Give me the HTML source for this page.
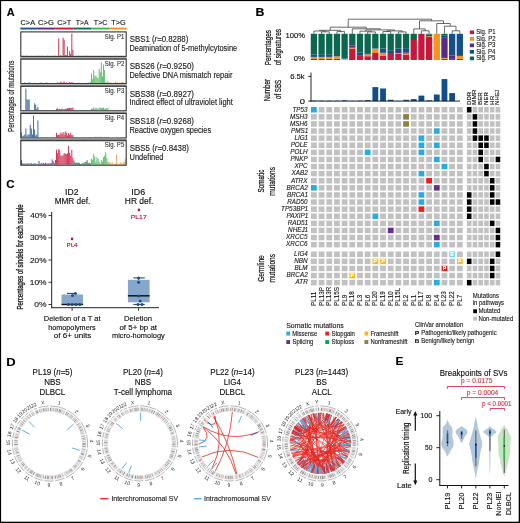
<!DOCTYPE html>
<html><head><meta charset="utf-8"><style>
html,body{margin:0;padding:0;background:#fff;}
svg{display:block;will-change:transform;filter:blur(0.3px);}
text{font-family:"Liberation Sans",sans-serif;}
</style></head><body>
<svg width="520" height="523" viewBox="0 0 520 523">
<rect width="520" height="523" fill="#fff"/>
<rect x="0.00" y="0.00" width="520.00" height="1.10" fill="#000" />
<rect x="0.00" y="0.00" width="1.10" height="523.00" fill="#000" />
<rect x="518.70" y="0.00" width="1.30" height="523.00" fill="#000" />
<rect x="0.00" y="521.70" width="520.00" height="1.30" fill="#000" />
<text x="6.63" y="15.90" font-size="11.2" fill="#000" font-weight="bold"  stroke="#000" stroke-width="0.14" textLength="7.87" lengthAdjust="spacingAndGlyphs">A</text>
<text x="255.50" y="16.30" font-size="11.2" fill="#000" font-weight="bold"  stroke="#000" stroke-width="0.14" textLength="8.88" lengthAdjust="spacingAndGlyphs">B</text>
<text x="6.34" y="188.40" font-size="11.2" fill="#000" font-weight="bold"  stroke="#000" stroke-width="0.14" textLength="8.38" lengthAdjust="spacingAndGlyphs">C</text>
<text x="6.15" y="365.50" font-size="11.2" fill="#000" font-weight="bold"  stroke="#000" stroke-width="0.14" textLength="9.39" lengthAdjust="spacingAndGlyphs">D</text>
<text x="395.53" y="365.20" font-size="11.2" fill="#000" font-weight="bold"  stroke="#000" stroke-width="0.14" textLength="7.91" lengthAdjust="spacingAndGlyphs">E</text>
<text x="20.53" y="24.60" font-size="7.3" fill="#1a1a1a"  stroke="#1a1a1a" stroke-width="0.14" textLength="14.59" lengthAdjust="spacingAndGlyphs">C&gt;A</text>
<rect x="20.30" y="27.60" width="17.70" height="1.90" fill="#1f5591" />
<text x="38.12" y="24.60" font-size="7.3" fill="#1a1a1a"  stroke="#1a1a1a" stroke-width="0.14" textLength="15.63" lengthAdjust="spacingAndGlyphs">C&gt;G</text>
<rect x="37.95" y="27.60" width="17.70" height="1.90" fill="#5f2b86" />
<text x="57.24" y="24.60" font-size="7.3" fill="#1a1a1a"  stroke="#1a1a1a" stroke-width="0.14" textLength="13.92" lengthAdjust="spacingAndGlyphs">C&gt;T</text>
<rect x="55.60" y="27.60" width="17.65" height="1.90" fill="#c7183c" />
<text x="75.86" y="24.60" font-size="7.3" fill="#1a1a1a"  stroke="#1a1a1a" stroke-width="0.14" textLength="12.65" lengthAdjust="spacingAndGlyphs">T&gt;A</text>
<rect x="73.20" y="27.60" width="17.85" height="1.90" fill="#146b51" />
<text x="93.86" y="24.60" font-size="7.3" fill="#1a1a1a"  stroke="#1a1a1a" stroke-width="0.14" textLength="13.50" lengthAdjust="spacingAndGlyphs">T&gt;C</text>
<rect x="91.00" y="27.60" width="18.05" height="1.90" fill="#45b553" />
<text x="111.36" y="24.60" font-size="7.3" fill="#1a1a1a"  stroke="#1a1a1a" stroke-width="0.14" textLength="14.27" lengthAdjust="spacingAndGlyphs">T&gt;G</text>
<rect x="109.00" y="27.60" width="17.55" height="1.90" fill="#f6921e" />
<rect x="22.09" y="55.70" width="1.01" height="0.20" fill="#1f5591" opacity="0.85"/>
<rect x="23.19" y="55.74" width="1.01" height="0.16" fill="#1f5591" opacity="0.85"/>
<rect x="25.38" y="55.75" width="1.01" height="0.15" fill="#1f5591" opacity="0.85"/>
<rect x="26.47" y="55.77" width="1.01" height="0.13" fill="#1f5591" opacity="0.85"/>
<rect x="30.84" y="55.83" width="1.01" height="0.07" fill="#1f5591" opacity="0.85"/>
<rect x="37.41" y="55.64" width="1.01" height="0.26" fill="#1f5591" opacity="0.85"/>
<rect x="39.59" y="55.81" width="1.01" height="0.09" fill="#5f2b86" opacity="0.85"/>
<rect x="41.78" y="55.73" width="1.01" height="0.17" fill="#5f2b86" opacity="0.85"/>
<rect x="47.25" y="55.70" width="1.01" height="0.20" fill="#5f2b86" opacity="0.85"/>
<rect x="52.72" y="55.66" width="1.01" height="0.24" fill="#5f2b86" opacity="0.85"/>
<rect x="54.91" y="55.73" width="1.01" height="0.17" fill="#5f2b86" opacity="0.85"/>
<rect x="58.19" y="38.50" width="1.01" height="17.40" fill="#c7183c" opacity="0.85"/>
<rect x="59.28" y="55.61" width="1.01" height="0.29" fill="#c7183c" opacity="0.85"/>
<rect x="60.38" y="55.10" width="1.01" height="0.80" fill="#c7183c" opacity="0.85"/>
<rect x="62.56" y="37.70" width="1.01" height="18.20" fill="#c7183c" opacity="0.85"/>
<rect x="63.66" y="39.90" width="1.01" height="16.00" fill="#c7183c" opacity="0.85"/>
<rect x="64.75" y="54.90" width="1.01" height="1.00" fill="#c7183c" opacity="0.85"/>
<rect x="65.84" y="55.10" width="1.01" height="0.80" fill="#c7183c" opacity="0.85"/>
<rect x="66.94" y="46.60" width="1.01" height="9.30" fill="#c7183c" opacity="0.85"/>
<rect x="69.12" y="51.20" width="1.01" height="4.70" fill="#c7183c" opacity="0.85"/>
<rect x="70.22" y="53.90" width="1.01" height="2.00" fill="#c7183c" opacity="0.85"/>
<rect x="71.31" y="33.40" width="1.01" height="22.50" fill="#c7183c" opacity="0.85"/>
<rect x="72.41" y="49.90" width="1.01" height="6.00" fill="#c7183c" opacity="0.85"/>
<rect x="77.88" y="55.69" width="1.01" height="0.21" fill="#146b51" opacity="0.85"/>
<rect x="82.25" y="55.78" width="1.01" height="0.12" fill="#146b51" opacity="0.85"/>
<rect x="84.44" y="55.76" width="1.01" height="0.14" fill="#146b51" opacity="0.85"/>
<rect x="86.62" y="55.67" width="1.01" height="0.23" fill="#146b51" opacity="0.85"/>
<rect x="87.72" y="55.83" width="1.01" height="0.07" fill="#146b51" opacity="0.85"/>
<rect x="91.00" y="55.77" width="1.01" height="0.13" fill="#45b553" opacity="0.85"/>
<rect x="96.47" y="55.78" width="1.01" height="0.12" fill="#45b553" opacity="0.85"/>
<rect x="100.84" y="55.85" width="1.01" height="0.05" fill="#45b553" opacity="0.85"/>
<rect x="101.94" y="55.83" width="1.01" height="0.07" fill="#45b553" opacity="0.85"/>
<rect x="115.06" y="55.63" width="1.01" height="0.27" fill="#f6921e" opacity="0.85"/>
<rect x="121.62" y="55.71" width="1.01" height="0.19" fill="#f6921e" opacity="0.85"/>
<rect x="20.8" y="31.90" width="105.4" height="24.5" fill="none" stroke="#333" stroke-width="1.1"/>
<text x="104.83" y="38.60" font-size="6.3" fill="#3a3a3a"  stroke="#3a3a3a" stroke-width="0.14" textLength="19.44" lengthAdjust="spacingAndGlyphs">Sig. P1</text>
<rect x="22.09" y="83.02" width="1.01" height="0.08" fill="#1f5591" opacity="0.85"/>
<rect x="24.28" y="82.40" width="1.01" height="0.70" fill="#1f5591" opacity="0.85"/>
<rect x="26.47" y="82.90" width="1.01" height="0.20" fill="#1f5591" opacity="0.85"/>
<rect x="27.56" y="82.81" width="1.01" height="0.29" fill="#1f5591" opacity="0.85"/>
<rect x="28.66" y="82.42" width="1.01" height="0.68" fill="#1f5591" opacity="0.85"/>
<rect x="33.03" y="83.02" width="1.01" height="0.08" fill="#1f5591" opacity="0.85"/>
<rect x="34.12" y="82.89" width="1.01" height="0.21" fill="#1f5591" opacity="0.85"/>
<rect x="39.59" y="82.67" width="1.01" height="0.43" fill="#5f2b86" opacity="0.85"/>
<rect x="40.69" y="82.68" width="1.01" height="0.42" fill="#5f2b86" opacity="0.85"/>
<rect x="45.06" y="82.81" width="1.01" height="0.29" fill="#5f2b86" opacity="0.85"/>
<rect x="46.16" y="82.48" width="1.01" height="0.62" fill="#5f2b86" opacity="0.85"/>
<rect x="49.44" y="82.92" width="1.01" height="0.18" fill="#5f2b86" opacity="0.85"/>
<rect x="57.09" y="82.44" width="1.01" height="0.66" fill="#c7183c" opacity="0.85"/>
<rect x="59.28" y="82.64" width="1.01" height="0.46" fill="#c7183c" opacity="0.85"/>
<rect x="60.38" y="81.30" width="1.01" height="1.80" fill="#c7183c" opacity="0.85"/>
<rect x="62.56" y="82.32" width="1.01" height="0.78" fill="#c7183c" opacity="0.85"/>
<rect x="63.66" y="81.60" width="1.01" height="1.50" fill="#c7183c" opacity="0.85"/>
<rect x="65.84" y="82.31" width="1.01" height="0.79" fill="#c7183c" opacity="0.85"/>
<rect x="69.12" y="82.24" width="1.01" height="0.86" fill="#c7183c" opacity="0.85"/>
<rect x="70.22" y="82.38" width="1.01" height="0.72" fill="#c7183c" opacity="0.85"/>
<rect x="71.31" y="82.47" width="1.01" height="0.63" fill="#c7183c" opacity="0.85"/>
<rect x="72.41" y="82.43" width="1.01" height="0.67" fill="#c7183c" opacity="0.85"/>
<rect x="77.88" y="82.65" width="1.01" height="0.45" fill="#146b51" opacity="0.85"/>
<rect x="81.16" y="83.00" width="1.01" height="0.10" fill="#146b51" opacity="0.85"/>
<rect x="82.25" y="83.04" width="1.01" height="0.06" fill="#146b51" opacity="0.85"/>
<rect x="83.34" y="83.04" width="1.01" height="0.06" fill="#146b51" opacity="0.85"/>
<rect x="87.72" y="82.53" width="1.01" height="0.57" fill="#146b51" opacity="0.85"/>
<rect x="89.91" y="82.39" width="1.01" height="0.71" fill="#146b51" opacity="0.85"/>
<rect x="91.00" y="73.80" width="1.01" height="9.30" fill="#45b553" opacity="0.85"/>
<rect x="92.09" y="79.10" width="1.01" height="4.00" fill="#45b553" opacity="0.85"/>
<rect x="93.19" y="70.20" width="1.01" height="12.90" fill="#45b553" opacity="0.85"/>
<rect x="94.28" y="76.40" width="1.01" height="6.70" fill="#45b553" opacity="0.85"/>
<rect x="95.38" y="75.30" width="1.01" height="7.80" fill="#45b553" opacity="0.85"/>
<rect x="96.47" y="77.40" width="1.01" height="5.70" fill="#45b553" opacity="0.85"/>
<rect x="97.56" y="78.60" width="1.01" height="4.50" fill="#45b553" opacity="0.85"/>
<rect x="98.66" y="68.80" width="1.01" height="14.30" fill="#45b553" opacity="0.85"/>
<rect x="99.75" y="72.20" width="1.01" height="10.90" fill="#45b553" opacity="0.85"/>
<rect x="100.84" y="62.40" width="1.01" height="20.70" fill="#45b553" opacity="0.85"/>
<rect x="101.94" y="76.40" width="1.01" height="6.70" fill="#45b553" opacity="0.85"/>
<rect x="103.03" y="64.40" width="1.01" height="18.70" fill="#45b553" opacity="0.85"/>
<rect x="104.12" y="69.90" width="1.01" height="13.20" fill="#45b553" opacity="0.85"/>
<rect x="105.22" y="82.10" width="1.01" height="1.00" fill="#45b553" opacity="0.85"/>
<rect x="106.31" y="82.60" width="1.01" height="0.50" fill="#45b553" opacity="0.85"/>
<rect x="107.41" y="81.10" width="1.01" height="2.00" fill="#45b553" opacity="0.85"/>
<rect x="109.59" y="82.15" width="1.01" height="0.95" fill="#f6921e" opacity="0.85"/>
<rect x="110.69" y="82.61" width="1.01" height="0.49" fill="#f6921e" opacity="0.85"/>
<rect x="113.97" y="82.67" width="1.01" height="0.43" fill="#f6921e" opacity="0.85"/>
<rect x="115.06" y="81.60" width="1.01" height="1.50" fill="#f6921e" opacity="0.85"/>
<rect x="116.16" y="82.90" width="1.01" height="0.20" fill="#f6921e" opacity="0.85"/>
<rect x="117.25" y="82.38" width="1.01" height="0.72" fill="#f6921e" opacity="0.85"/>
<rect x="118.34" y="82.55" width="1.01" height="0.55" fill="#f6921e" opacity="0.85"/>
<rect x="120.53" y="82.48" width="1.01" height="0.62" fill="#f6921e" opacity="0.85"/>
<rect x="121.62" y="81.90" width="1.01" height="1.20" fill="#f6921e" opacity="0.85"/>
<rect x="122.72" y="82.11" width="1.01" height="0.99" fill="#f6921e" opacity="0.85"/>
<rect x="20.30" y="57.30" width="106.40" height="2.00" fill="#8e8e8e" />
<rect x="20.8" y="59.10" width="105.4" height="24.5" fill="none" stroke="#333" stroke-width="1.1"/>
<text x="104.83" y="65.80" font-size="6.3" fill="#3a3a3a"  stroke="#3a3a3a" stroke-width="0.14" textLength="19.47" lengthAdjust="spacingAndGlyphs">Sig. P2</text>
<rect x="22.09" y="110.19" width="1.01" height="0.11" fill="#1f5591" opacity="0.85"/>
<rect x="24.28" y="109.99" width="1.01" height="0.31" fill="#1f5591" opacity="0.85"/>
<rect x="25.38" y="88.70" width="1.01" height="21.60" fill="#1f5591" opacity="0.85"/>
<rect x="26.47" y="99.30" width="1.01" height="11.00" fill="#1f5591" opacity="0.85"/>
<rect x="27.56" y="99.80" width="1.01" height="10.50" fill="#1f5591" opacity="0.85"/>
<rect x="28.66" y="99.50" width="1.01" height="10.80" fill="#1f5591" opacity="0.85"/>
<rect x="29.75" y="109.97" width="1.01" height="0.33" fill="#1f5591" opacity="0.85"/>
<rect x="30.84" y="110.20" width="1.01" height="0.10" fill="#1f5591" opacity="0.85"/>
<rect x="31.94" y="110.24" width="1.01" height="0.06" fill="#1f5591" opacity="0.85"/>
<rect x="33.03" y="109.93" width="1.01" height="0.37" fill="#1f5591" opacity="0.85"/>
<rect x="34.12" y="103.30" width="1.01" height="7.00" fill="#1f5591" opacity="0.85"/>
<rect x="35.22" y="104.80" width="1.01" height="5.50" fill="#1f5591" opacity="0.85"/>
<rect x="36.31" y="108.80" width="1.01" height="1.50" fill="#1f5591" opacity="0.85"/>
<rect x="37.41" y="106.80" width="1.01" height="3.50" fill="#1f5591" opacity="0.85"/>
<rect x="38.50" y="110.02" width="1.01" height="0.28" fill="#5f2b86" opacity="0.85"/>
<rect x="39.59" y="110.13" width="1.01" height="0.17" fill="#5f2b86" opacity="0.85"/>
<rect x="41.78" y="109.92" width="1.01" height="0.38" fill="#5f2b86" opacity="0.85"/>
<rect x="42.88" y="110.05" width="1.01" height="0.25" fill="#5f2b86" opacity="0.85"/>
<rect x="43.97" y="109.98" width="1.01" height="0.32" fill="#5f2b86" opacity="0.85"/>
<rect x="46.16" y="109.96" width="1.01" height="0.34" fill="#5f2b86" opacity="0.85"/>
<rect x="48.34" y="109.95" width="1.01" height="0.35" fill="#5f2b86" opacity="0.85"/>
<rect x="49.44" y="110.12" width="1.01" height="0.18" fill="#5f2b86" opacity="0.85"/>
<rect x="50.53" y="110.16" width="1.01" height="0.14" fill="#5f2b86" opacity="0.85"/>
<rect x="51.62" y="110.08" width="1.01" height="0.22" fill="#5f2b86" opacity="0.85"/>
<rect x="52.72" y="109.93" width="1.01" height="0.37" fill="#5f2b86" opacity="0.85"/>
<rect x="53.81" y="110.19" width="1.01" height="0.11" fill="#5f2b86" opacity="0.85"/>
<rect x="54.91" y="110.25" width="1.01" height="0.05" fill="#5f2b86" opacity="0.85"/>
<rect x="56.00" y="108.90" width="1.01" height="1.40" fill="#c7183c" opacity="0.85"/>
<rect x="57.09" y="108.29" width="1.01" height="2.01" fill="#c7183c" opacity="0.85"/>
<rect x="58.19" y="109.29" width="1.01" height="1.01" fill="#c7183c" opacity="0.85"/>
<rect x="59.28" y="108.77" width="1.01" height="1.53" fill="#c7183c" opacity="0.85"/>
<rect x="60.38" y="109.12" width="1.01" height="1.18" fill="#c7183c" opacity="0.85"/>
<rect x="61.47" y="108.50" width="1.01" height="1.80" fill="#c7183c" opacity="0.85"/>
<rect x="62.56" y="109.22" width="1.01" height="1.08" fill="#c7183c" opacity="0.85"/>
<rect x="63.66" y="109.26" width="1.01" height="1.04" fill="#c7183c" opacity="0.85"/>
<rect x="64.75" y="108.69" width="1.01" height="1.61" fill="#c7183c" opacity="0.85"/>
<rect x="65.84" y="108.83" width="1.01" height="1.47" fill="#c7183c" opacity="0.85"/>
<rect x="66.94" y="108.13" width="1.01" height="2.17" fill="#c7183c" opacity="0.85"/>
<rect x="68.03" y="108.24" width="1.01" height="2.06" fill="#c7183c" opacity="0.85"/>
<rect x="69.12" y="107.80" width="1.01" height="2.50" fill="#c7183c" opacity="0.85"/>
<rect x="70.22" y="107.98" width="1.01" height="2.32" fill="#c7183c" opacity="0.85"/>
<rect x="71.31" y="107.87" width="1.01" height="2.43" fill="#c7183c" opacity="0.85"/>
<rect x="72.41" y="107.54" width="1.01" height="2.76" fill="#c7183c" opacity="0.85"/>
<rect x="73.50" y="110.01" width="1.01" height="0.29" fill="#146b51" opacity="0.85"/>
<rect x="74.59" y="110.08" width="1.01" height="0.22" fill="#146b51" opacity="0.85"/>
<rect x="75.69" y="110.22" width="1.01" height="0.08" fill="#146b51" opacity="0.85"/>
<rect x="76.78" y="110.11" width="1.01" height="0.19" fill="#146b51" opacity="0.85"/>
<rect x="77.88" y="109.93" width="1.01" height="0.37" fill="#146b51" opacity="0.85"/>
<rect x="80.06" y="109.97" width="1.01" height="0.33" fill="#146b51" opacity="0.85"/>
<rect x="81.16" y="110.13" width="1.01" height="0.17" fill="#146b51" opacity="0.85"/>
<rect x="82.25" y="110.10" width="1.01" height="0.20" fill="#146b51" opacity="0.85"/>
<rect x="83.34" y="109.97" width="1.01" height="0.33" fill="#146b51" opacity="0.85"/>
<rect x="84.44" y="110.14" width="1.01" height="0.16" fill="#146b51" opacity="0.85"/>
<rect x="85.53" y="110.10" width="1.01" height="0.20" fill="#146b51" opacity="0.85"/>
<rect x="86.62" y="110.02" width="1.01" height="0.28" fill="#146b51" opacity="0.85"/>
<rect x="87.72" y="109.91" width="1.01" height="0.39" fill="#146b51" opacity="0.85"/>
<rect x="88.81" y="110.16" width="1.01" height="0.14" fill="#146b51" opacity="0.85"/>
<rect x="89.91" y="109.97" width="1.01" height="0.33" fill="#146b51" opacity="0.85"/>
<rect x="91.00" y="108.52" width="1.01" height="1.78" fill="#45b553" opacity="0.85"/>
<rect x="92.09" y="108.65" width="1.01" height="1.65" fill="#45b553" opacity="0.85"/>
<rect x="93.19" y="107.33" width="1.01" height="2.97" fill="#45b553" opacity="0.85"/>
<rect x="94.28" y="109.00" width="1.01" height="1.30" fill="#45b553" opacity="0.85"/>
<rect x="95.38" y="107.85" width="1.01" height="2.45" fill="#45b553" opacity="0.85"/>
<rect x="96.47" y="108.01" width="1.01" height="2.29" fill="#45b553" opacity="0.85"/>
<rect x="97.56" y="109.21" width="1.01" height="1.09" fill="#45b553" opacity="0.85"/>
<rect x="98.66" y="107.63" width="1.01" height="2.67" fill="#45b553" opacity="0.85"/>
<rect x="99.75" y="107.52" width="1.01" height="2.78" fill="#45b553" opacity="0.85"/>
<rect x="100.84" y="108.05" width="1.01" height="2.25" fill="#45b553" opacity="0.85"/>
<rect x="101.94" y="107.83" width="1.01" height="2.47" fill="#45b553" opacity="0.85"/>
<rect x="103.03" y="107.68" width="1.01" height="2.62" fill="#45b553" opacity="0.85"/>
<rect x="104.12" y="109.02" width="1.01" height="1.28" fill="#45b553" opacity="0.85"/>
<rect x="105.22" y="108.25" width="1.01" height="2.05" fill="#45b553" opacity="0.85"/>
<rect x="106.31" y="108.29" width="1.01" height="2.01" fill="#45b553" opacity="0.85"/>
<rect x="107.41" y="107.63" width="1.01" height="2.67" fill="#45b553" opacity="0.85"/>
<rect x="108.50" y="110.18" width="1.01" height="0.12" fill="#f6921e" opacity="0.85"/>
<rect x="109.59" y="110.12" width="1.01" height="0.18" fill="#f6921e" opacity="0.85"/>
<rect x="110.69" y="110.24" width="1.01" height="0.06" fill="#f6921e" opacity="0.85"/>
<rect x="111.78" y="110.12" width="1.01" height="0.18" fill="#f6921e" opacity="0.85"/>
<rect x="112.88" y="110.19" width="1.01" height="0.11" fill="#f6921e" opacity="0.85"/>
<rect x="113.97" y="109.92" width="1.01" height="0.38" fill="#f6921e" opacity="0.85"/>
<rect x="115.06" y="109.91" width="1.01" height="0.39" fill="#f6921e" opacity="0.85"/>
<rect x="116.16" y="110.08" width="1.01" height="0.22" fill="#f6921e" opacity="0.85"/>
<rect x="117.25" y="110.20" width="1.01" height="0.10" fill="#f6921e" opacity="0.85"/>
<rect x="118.34" y="109.91" width="1.01" height="0.39" fill="#f6921e" opacity="0.85"/>
<rect x="119.44" y="110.18" width="1.01" height="0.12" fill="#f6921e" opacity="0.85"/>
<rect x="120.53" y="110.16" width="1.01" height="0.14" fill="#f6921e" opacity="0.85"/>
<rect x="122.72" y="110.15" width="1.01" height="0.15" fill="#f6921e" opacity="0.85"/>
<rect x="123.81" y="110.11" width="1.01" height="0.19" fill="#f6921e" opacity="0.85"/>
<rect x="124.91" y="110.10" width="1.01" height="0.20" fill="#f6921e" opacity="0.85"/>
<rect x="20.30" y="84.50" width="106.40" height="2.00" fill="#8e8e8e" />
<rect x="20.8" y="86.30" width="105.4" height="24.5" fill="none" stroke="#333" stroke-width="1.1"/>
<text x="104.83" y="93.00" font-size="6.3" fill="#3a3a3a"  stroke="#3a3a3a" stroke-width="0.14" textLength="19.41" lengthAdjust="spacingAndGlyphs">Sig. P3</text>
<rect x="21.00" y="132.50" width="1.01" height="5.00" fill="#1f5591" opacity="0.85"/>
<rect x="22.09" y="136.50" width="1.01" height="1.00" fill="#1f5591" opacity="0.85"/>
<rect x="23.19" y="135.50" width="1.01" height="2.00" fill="#1f5591" opacity="0.85"/>
<rect x="24.28" y="134.50" width="1.01" height="3.00" fill="#1f5591" opacity="0.85"/>
<rect x="25.38" y="128.50" width="1.01" height="9.00" fill="#1f5591" opacity="0.85"/>
<rect x="26.47" y="135.50" width="1.01" height="2.00" fill="#1f5591" opacity="0.85"/>
<rect x="27.56" y="134.50" width="1.01" height="3.00" fill="#1f5591" opacity="0.85"/>
<rect x="28.66" y="134.50" width="1.01" height="3.00" fill="#1f5591" opacity="0.85"/>
<rect x="29.75" y="124.90" width="1.01" height="12.60" fill="#1f5591" opacity="0.85"/>
<rect x="30.84" y="128.50" width="1.01" height="9.00" fill="#1f5591" opacity="0.85"/>
<rect x="31.94" y="134.50" width="1.01" height="3.00" fill="#1f5591" opacity="0.85"/>
<rect x="33.03" y="115.50" width="1.01" height="22.00" fill="#1f5591" opacity="0.85"/>
<rect x="34.12" y="129.50" width="1.01" height="8.00" fill="#1f5591" opacity="0.85"/>
<rect x="35.22" y="135.50" width="1.01" height="2.00" fill="#1f5591" opacity="0.85"/>
<rect x="36.31" y="134.50" width="1.01" height="3.00" fill="#1f5591" opacity="0.85"/>
<rect x="37.41" y="120.50" width="1.01" height="17.00" fill="#1f5591" opacity="0.85"/>
<rect x="38.50" y="137.30" width="1.01" height="0.20" fill="#5f2b86" opacity="0.85"/>
<rect x="40.69" y="137.18" width="1.01" height="0.32" fill="#5f2b86" opacity="0.85"/>
<rect x="41.78" y="137.20" width="1.01" height="0.30" fill="#5f2b86" opacity="0.85"/>
<rect x="42.88" y="137.30" width="1.01" height="0.20" fill="#5f2b86" opacity="0.85"/>
<rect x="43.97" y="137.29" width="1.01" height="0.21" fill="#5f2b86" opacity="0.85"/>
<rect x="45.06" y="137.24" width="1.01" height="0.26" fill="#5f2b86" opacity="0.85"/>
<rect x="47.25" y="137.21" width="1.01" height="0.29" fill="#5f2b86" opacity="0.85"/>
<rect x="48.34" y="137.40" width="1.01" height="0.10" fill="#5f2b86" opacity="0.85"/>
<rect x="50.53" y="137.39" width="1.01" height="0.11" fill="#5f2b86" opacity="0.85"/>
<rect x="51.62" y="137.21" width="1.01" height="0.29" fill="#5f2b86" opacity="0.85"/>
<rect x="52.72" y="137.42" width="1.01" height="0.08" fill="#5f2b86" opacity="0.85"/>
<rect x="53.81" y="137.20" width="1.01" height="0.30" fill="#5f2b86" opacity="0.85"/>
<rect x="54.91" y="137.11" width="1.01" height="0.39" fill="#5f2b86" opacity="0.85"/>
<rect x="56.00" y="132.84" width="1.01" height="4.66" fill="#c7183c" opacity="0.85"/>
<rect x="57.09" y="134.99" width="1.01" height="2.51" fill="#c7183c" opacity="0.85"/>
<rect x="58.19" y="134.70" width="1.01" height="2.80" fill="#c7183c" opacity="0.85"/>
<rect x="59.28" y="134.62" width="1.01" height="2.88" fill="#c7183c" opacity="0.85"/>
<rect x="60.38" y="132.50" width="1.01" height="5.00" fill="#c7183c" opacity="0.85"/>
<rect x="61.47" y="133.94" width="1.01" height="3.56" fill="#c7183c" opacity="0.85"/>
<rect x="62.56" y="132.00" width="1.01" height="5.50" fill="#c7183c" opacity="0.85"/>
<rect x="63.66" y="134.50" width="1.01" height="3.00" fill="#c7183c" opacity="0.85"/>
<rect x="64.75" y="131.50" width="1.01" height="6.00" fill="#c7183c" opacity="0.85"/>
<rect x="65.84" y="132.50" width="1.01" height="5.00" fill="#c7183c" opacity="0.85"/>
<rect x="66.94" y="135.64" width="1.01" height="1.86" fill="#c7183c" opacity="0.85"/>
<rect x="68.03" y="133.08" width="1.01" height="4.42" fill="#c7183c" opacity="0.85"/>
<rect x="69.12" y="135.00" width="1.01" height="2.50" fill="#c7183c" opacity="0.85"/>
<rect x="70.22" y="132.73" width="1.01" height="4.77" fill="#c7183c" opacity="0.85"/>
<rect x="71.31" y="135.13" width="1.01" height="2.37" fill="#c7183c" opacity="0.85"/>
<rect x="72.41" y="135.07" width="1.01" height="2.43" fill="#c7183c" opacity="0.85"/>
<rect x="73.50" y="137.23" width="1.01" height="0.27" fill="#146b51" opacity="0.85"/>
<rect x="74.59" y="137.22" width="1.01" height="0.28" fill="#146b51" opacity="0.85"/>
<rect x="75.69" y="137.23" width="1.01" height="0.27" fill="#146b51" opacity="0.85"/>
<rect x="76.78" y="137.38" width="1.01" height="0.12" fill="#146b51" opacity="0.85"/>
<rect x="77.88" y="137.29" width="1.01" height="0.21" fill="#146b51" opacity="0.85"/>
<rect x="78.97" y="137.31" width="1.01" height="0.19" fill="#146b51" opacity="0.85"/>
<rect x="80.06" y="137.31" width="1.01" height="0.19" fill="#146b51" opacity="0.85"/>
<rect x="82.25" y="137.14" width="1.01" height="0.36" fill="#146b51" opacity="0.85"/>
<rect x="83.34" y="137.42" width="1.01" height="0.08" fill="#146b51" opacity="0.85"/>
<rect x="84.44" y="137.11" width="1.01" height="0.39" fill="#146b51" opacity="0.85"/>
<rect x="85.53" y="137.13" width="1.01" height="0.37" fill="#146b51" opacity="0.85"/>
<rect x="87.72" y="137.32" width="1.01" height="0.18" fill="#146b51" opacity="0.85"/>
<rect x="88.81" y="137.17" width="1.01" height="0.33" fill="#146b51" opacity="0.85"/>
<rect x="89.91" y="137.11" width="1.01" height="0.39" fill="#146b51" opacity="0.85"/>
<rect x="91.00" y="137.09" width="1.01" height="0.41" fill="#45b553" opacity="0.85"/>
<rect x="92.09" y="137.35" width="1.01" height="0.15" fill="#45b553" opacity="0.85"/>
<rect x="93.19" y="137.20" width="1.01" height="0.30" fill="#45b553" opacity="0.85"/>
<rect x="94.28" y="136.74" width="1.01" height="0.76" fill="#45b553" opacity="0.85"/>
<rect x="95.38" y="136.79" width="1.01" height="0.71" fill="#45b553" opacity="0.85"/>
<rect x="96.47" y="136.85" width="1.01" height="0.65" fill="#45b553" opacity="0.85"/>
<rect x="97.56" y="137.00" width="1.01" height="0.50" fill="#45b553" opacity="0.85"/>
<rect x="98.66" y="136.77" width="1.01" height="0.73" fill="#45b553" opacity="0.85"/>
<rect x="99.75" y="136.75" width="1.01" height="0.75" fill="#45b553" opacity="0.85"/>
<rect x="100.84" y="137.06" width="1.01" height="0.44" fill="#45b553" opacity="0.85"/>
<rect x="101.94" y="136.92" width="1.01" height="0.58" fill="#45b553" opacity="0.85"/>
<rect x="104.12" y="136.91" width="1.01" height="0.59" fill="#45b553" opacity="0.85"/>
<rect x="105.22" y="137.14" width="1.01" height="0.36" fill="#45b553" opacity="0.85"/>
<rect x="106.31" y="136.90" width="1.01" height="0.60" fill="#45b553" opacity="0.85"/>
<rect x="107.41" y="136.98" width="1.01" height="0.52" fill="#45b553" opacity="0.85"/>
<rect x="108.50" y="137.31" width="1.01" height="0.19" fill="#f6921e" opacity="0.85"/>
<rect x="111.78" y="137.30" width="1.01" height="0.20" fill="#f6921e" opacity="0.85"/>
<rect x="112.88" y="137.32" width="1.01" height="0.18" fill="#f6921e" opacity="0.85"/>
<rect x="113.97" y="137.38" width="1.01" height="0.12" fill="#f6921e" opacity="0.85"/>
<rect x="115.06" y="137.44" width="1.01" height="0.06" fill="#f6921e" opacity="0.85"/>
<rect x="116.16" y="137.36" width="1.01" height="0.14" fill="#f6921e" opacity="0.85"/>
<rect x="117.25" y="137.37" width="1.01" height="0.13" fill="#f6921e" opacity="0.85"/>
<rect x="118.34" y="137.16" width="1.01" height="0.34" fill="#f6921e" opacity="0.85"/>
<rect x="120.53" y="137.20" width="1.01" height="0.30" fill="#f6921e" opacity="0.85"/>
<rect x="121.62" y="137.16" width="1.01" height="0.34" fill="#f6921e" opacity="0.85"/>
<rect x="123.81" y="137.13" width="1.01" height="0.37" fill="#f6921e" opacity="0.85"/>
<rect x="124.91" y="137.21" width="1.01" height="0.29" fill="#f6921e" opacity="0.85"/>
<rect x="20.30" y="111.70" width="106.40" height="2.00" fill="#8e8e8e" />
<rect x="20.8" y="113.50" width="105.4" height="24.5" fill="none" stroke="#333" stroke-width="1.1"/>
<text x="104.83" y="120.20" font-size="6.3" fill="#3a3a3a"  stroke="#3a3a3a" stroke-width="0.14" textLength="19.35" lengthAdjust="spacingAndGlyphs">Sig. P4</text>
<rect x="21.00" y="159.90" width="1.01" height="4.80" fill="#1f5591" opacity="0.85"/>
<rect x="22.09" y="163.20" width="1.01" height="1.50" fill="#1f5591" opacity="0.85"/>
<rect x="23.19" y="163.70" width="1.01" height="1.00" fill="#1f5591" opacity="0.85"/>
<rect x="24.28" y="163.50" width="1.01" height="1.20" fill="#1f5591" opacity="0.85"/>
<rect x="25.38" y="163.90" width="1.01" height="0.80" fill="#1f5591" opacity="0.85"/>
<rect x="26.47" y="163.20" width="1.01" height="1.50" fill="#1f5591" opacity="0.85"/>
<rect x="27.56" y="163.50" width="1.01" height="1.20" fill="#1f5591" opacity="0.85"/>
<rect x="28.66" y="163.70" width="1.01" height="1.00" fill="#1f5591" opacity="0.85"/>
<rect x="29.75" y="163.40" width="1.01" height="1.30" fill="#1f5591" opacity="0.85"/>
<rect x="30.84" y="163.20" width="1.01" height="1.50" fill="#1f5591" opacity="0.85"/>
<rect x="31.94" y="163.90" width="1.01" height="0.80" fill="#1f5591" opacity="0.85"/>
<rect x="33.03" y="163.70" width="1.01" height="1.00" fill="#1f5591" opacity="0.85"/>
<rect x="34.12" y="163.30" width="1.01" height="1.40" fill="#1f5591" opacity="0.85"/>
<rect x="35.22" y="163.70" width="1.01" height="1.00" fill="#1f5591" opacity="0.85"/>
<rect x="36.31" y="163.90" width="1.01" height="0.80" fill="#1f5591" opacity="0.85"/>
<rect x="37.41" y="163.70" width="1.01" height="1.00" fill="#1f5591" opacity="0.85"/>
<rect x="38.50" y="161.00" width="1.01" height="3.70" fill="#5f2b86" opacity="0.85"/>
<rect x="39.59" y="163.70" width="1.01" height="1.00" fill="#5f2b86" opacity="0.85"/>
<rect x="40.69" y="163.20" width="1.01" height="1.50" fill="#5f2b86" opacity="0.85"/>
<rect x="41.78" y="163.50" width="1.01" height="1.20" fill="#5f2b86" opacity="0.85"/>
<rect x="42.88" y="163.10" width="1.01" height="1.60" fill="#5f2b86" opacity="0.85"/>
<rect x="43.97" y="163.70" width="1.01" height="1.00" fill="#5f2b86" opacity="0.85"/>
<rect x="45.06" y="162.70" width="1.01" height="2.00" fill="#5f2b86" opacity="0.85"/>
<rect x="46.16" y="163.70" width="1.01" height="1.00" fill="#5f2b86" opacity="0.85"/>
<rect x="47.25" y="163.50" width="1.01" height="1.20" fill="#5f2b86" opacity="0.85"/>
<rect x="48.34" y="163.20" width="1.01" height="1.50" fill="#5f2b86" opacity="0.85"/>
<rect x="49.44" y="163.50" width="1.01" height="1.20" fill="#5f2b86" opacity="0.85"/>
<rect x="50.53" y="163.10" width="1.01" height="1.60" fill="#5f2b86" opacity="0.85"/>
<rect x="51.62" y="159.40" width="1.01" height="5.30" fill="#5f2b86" opacity="0.85"/>
<rect x="52.72" y="161.30" width="1.01" height="3.40" fill="#5f2b86" opacity="0.85"/>
<rect x="53.81" y="163.20" width="1.01" height="1.50" fill="#5f2b86" opacity="0.85"/>
<rect x="54.91" y="159.80" width="1.01" height="4.90" fill="#5f2b86" opacity="0.85"/>
<rect x="56.00" y="149.70" width="1.01" height="15.00" fill="#c7183c" opacity="0.85"/>
<rect x="57.09" y="153.30" width="1.01" height="11.40" fill="#c7183c" opacity="0.85"/>
<rect x="58.19" y="149.10" width="1.01" height="15.60" fill="#c7183c" opacity="0.85"/>
<rect x="59.28" y="150.20" width="1.01" height="14.50" fill="#c7183c" opacity="0.85"/>
<rect x="60.38" y="155.70" width="1.01" height="9.00" fill="#c7183c" opacity="0.85"/>
<rect x="61.47" y="155.70" width="1.01" height="9.00" fill="#c7183c" opacity="0.85"/>
<rect x="62.56" y="155.20" width="1.01" height="9.50" fill="#c7183c" opacity="0.85"/>
<rect x="63.66" y="153.00" width="1.01" height="11.70" fill="#c7183c" opacity="0.85"/>
<rect x="64.75" y="153.70" width="1.01" height="11.00" fill="#c7183c" opacity="0.85"/>
<rect x="65.84" y="154.20" width="1.01" height="10.50" fill="#c7183c" opacity="0.85"/>
<rect x="66.94" y="153.20" width="1.01" height="11.50" fill="#c7183c" opacity="0.85"/>
<rect x="68.03" y="145.90" width="1.01" height="18.80" fill="#c7183c" opacity="0.85"/>
<rect x="69.12" y="152.70" width="1.01" height="12.00" fill="#c7183c" opacity="0.85"/>
<rect x="70.22" y="155.70" width="1.01" height="9.00" fill="#c7183c" opacity="0.85"/>
<rect x="71.31" y="149.70" width="1.01" height="15.00" fill="#c7183c" opacity="0.85"/>
<rect x="72.41" y="157.70" width="1.01" height="7.00" fill="#c7183c" opacity="0.85"/>
<rect x="73.50" y="160.70" width="1.01" height="4.00" fill="#146b51" opacity="0.85"/>
<rect x="74.59" y="162.70" width="1.01" height="2.00" fill="#146b51" opacity="0.85"/>
<rect x="75.69" y="162.50" width="1.01" height="2.20" fill="#146b51" opacity="0.85"/>
<rect x="76.78" y="162.90" width="1.01" height="1.80" fill="#146b51" opacity="0.85"/>
<rect x="77.88" y="162.70" width="1.01" height="2.00" fill="#146b51" opacity="0.85"/>
<rect x="78.97" y="163.20" width="1.01" height="1.50" fill="#146b51" opacity="0.85"/>
<rect x="80.06" y="163.90" width="1.01" height="0.80" fill="#146b51" opacity="0.85"/>
<rect x="81.16" y="163.70" width="1.01" height="1.00" fill="#146b51" opacity="0.85"/>
<rect x="82.25" y="163.50" width="1.01" height="1.20" fill="#146b51" opacity="0.85"/>
<rect x="83.34" y="163.20" width="1.01" height="1.50" fill="#146b51" opacity="0.85"/>
<rect x="84.44" y="162.10" width="1.01" height="2.60" fill="#146b51" opacity="0.85"/>
<rect x="85.53" y="161.70" width="1.01" height="3.00" fill="#146b51" opacity="0.85"/>
<rect x="86.62" y="160.20" width="1.01" height="4.50" fill="#146b51" opacity="0.85"/>
<rect x="87.72" y="163.20" width="1.01" height="1.50" fill="#146b51" opacity="0.85"/>
<rect x="88.81" y="162.70" width="1.01" height="2.00" fill="#146b51" opacity="0.85"/>
<rect x="89.91" y="163.70" width="1.01" height="1.00" fill="#146b51" opacity="0.85"/>
<rect x="91.00" y="158.70" width="1.01" height="6.00" fill="#45b553" opacity="0.85"/>
<rect x="92.09" y="159.70" width="1.01" height="5.00" fill="#45b553" opacity="0.85"/>
<rect x="93.19" y="154.10" width="1.01" height="10.60" fill="#45b553" opacity="0.85"/>
<rect x="94.28" y="156.70" width="1.01" height="8.00" fill="#45b553" opacity="0.85"/>
<rect x="95.38" y="161.70" width="1.01" height="3.00" fill="#45b553" opacity="0.85"/>
<rect x="96.47" y="157.30" width="1.01" height="7.40" fill="#45b553" opacity="0.85"/>
<rect x="97.56" y="158.70" width="1.01" height="6.00" fill="#45b553" opacity="0.85"/>
<rect x="98.66" y="161.70" width="1.01" height="3.00" fill="#45b553" opacity="0.85"/>
<rect x="99.75" y="163.70" width="1.01" height="1.00" fill="#45b553" opacity="0.85"/>
<rect x="100.84" y="159.70" width="1.01" height="5.00" fill="#45b553" opacity="0.85"/>
<rect x="101.94" y="161.70" width="1.01" height="3.00" fill="#45b553" opacity="0.85"/>
<rect x="103.03" y="157.20" width="1.01" height="7.50" fill="#45b553" opacity="0.85"/>
<rect x="104.12" y="155.70" width="1.01" height="9.00" fill="#45b553" opacity="0.85"/>
<rect x="105.22" y="152.30" width="1.01" height="12.40" fill="#45b553" opacity="0.85"/>
<rect x="106.31" y="157.70" width="1.01" height="7.00" fill="#45b553" opacity="0.85"/>
<rect x="107.41" y="161.70" width="1.01" height="3.00" fill="#45b553" opacity="0.85"/>
<rect x="108.50" y="162.70" width="1.01" height="2.00" fill="#f6921e" opacity="0.85"/>
<rect x="109.59" y="161.70" width="1.01" height="3.00" fill="#f6921e" opacity="0.85"/>
<rect x="110.69" y="163.70" width="1.01" height="1.00" fill="#f6921e" opacity="0.85"/>
<rect x="111.78" y="162.70" width="1.01" height="2.00" fill="#f6921e" opacity="0.85"/>
<rect x="112.88" y="164.20" width="1.01" height="0.50" fill="#f6921e" opacity="0.85"/>
<rect x="113.97" y="163.90" width="1.01" height="0.80" fill="#f6921e" opacity="0.85"/>
<rect x="115.06" y="163.70" width="1.01" height="1.00" fill="#f6921e" opacity="0.85"/>
<rect x="116.16" y="154.60" width="1.01" height="10.10" fill="#f6921e" opacity="0.85"/>
<rect x="117.25" y="163.70" width="1.01" height="1.00" fill="#f6921e" opacity="0.85"/>
<rect x="118.34" y="163.70" width="1.01" height="1.00" fill="#f6921e" opacity="0.85"/>
<rect x="119.44" y="164.10" width="1.01" height="0.60" fill="#f6921e" opacity="0.85"/>
<rect x="120.53" y="162.20" width="1.01" height="2.50" fill="#f6921e" opacity="0.85"/>
<rect x="121.62" y="163.70" width="1.01" height="1.00" fill="#f6921e" opacity="0.85"/>
<rect x="122.72" y="162.70" width="1.01" height="2.00" fill="#f6921e" opacity="0.85"/>
<rect x="123.81" y="161.70" width="1.01" height="3.00" fill="#f6921e" opacity="0.85"/>
<rect x="124.91" y="158.70" width="1.01" height="6.00" fill="#f6921e" opacity="0.85"/>
<rect x="20.30" y="138.90" width="106.40" height="2.00" fill="#8e8e8e" />
<rect x="20.8" y="140.70" width="105.4" height="24.5" fill="none" stroke="#333" stroke-width="1.1"/>
<text x="104.83" y="147.40" font-size="6.3" fill="#3a3a3a"  stroke="#3a3a3a" stroke-width="0.14" textLength="19.41" lengthAdjust="spacingAndGlyphs">Sig. P5</text>
<text x="129.75" y="42.10" font-size="8.4" fill="#222"  stroke="#222" stroke-width="0.14" textLength="58.54" lengthAdjust="spacingAndGlyphs">SBS1 (<tspan font-style="italic">r</tspan>=0.8288)</text>
<text x="129.51" y="50.90" font-size="8.4" fill="#222"  stroke="#222" stroke-width="0.14" textLength="107.74" lengthAdjust="spacingAndGlyphs">Deamination of 5-methylcytosine</text>
<text x="129.74" y="69.30" font-size="8.4" fill="#222"  stroke="#222" stroke-width="0.14" textLength="64.26" lengthAdjust="spacingAndGlyphs">SBS26 (<tspan font-style="italic">r</tspan>=0.9250)</text>
<text x="129.51" y="78.10" font-size="8.4" fill="#222"  stroke="#222" stroke-width="0.14" textLength="102.93" lengthAdjust="spacingAndGlyphs">Defective DNA mismatch repair</text>
<text x="129.74" y="96.50" font-size="8.4" fill="#222"  stroke="#222" stroke-width="0.14" textLength="64.26" lengthAdjust="spacingAndGlyphs">SBS38 (<tspan font-style="italic">r</tspan>=0.8927)</text>
<text x="129.42" y="105.30" font-size="8.4" fill="#222"  stroke="#222" stroke-width="0.14" textLength="103.43" lengthAdjust="spacingAndGlyphs">Indirect effect of ultraviolet light</text>
<text x="129.74" y="123.70" font-size="8.4" fill="#222"  stroke="#222" stroke-width="0.14" textLength="64.26" lengthAdjust="spacingAndGlyphs">SBS18 (<tspan font-style="italic">r</tspan>=0.9268)</text>
<text x="129.51" y="132.50" font-size="8.4" fill="#222"  stroke="#222" stroke-width="0.14" textLength="81.66" lengthAdjust="spacingAndGlyphs">Reactive oxygen species</text>
<text x="129.74" y="150.90" font-size="8.4" fill="#222"  stroke="#222" stroke-width="0.14" textLength="59.25" lengthAdjust="spacingAndGlyphs">SBS5 (<tspan font-style="italic">r</tspan>=0.8438)</text>
<text x="129.54" y="159.70" font-size="8.4" fill="#222"  stroke="#222" stroke-width="0.14" textLength="33.94" lengthAdjust="spacingAndGlyphs">Undefined</text>
<text x="14.00" y="131.90" font-size="8.2" fill="#222" stroke="#222" stroke-width="0.21" textLength="71.42" lengthAdjust="spacingAndGlyphs" transform="rotate(-90 14.00 131.90)">Percentages of mutations</text>
<rect x="310.75" y="58.90" width="6.30" height="1.10" fill="#c7183c" />
<rect x="310.75" y="56.90" width="6.30" height="2.00" fill="#f6921e" />
<rect x="310.75" y="54.60" width="6.30" height="2.30" fill="#144f8a" />
<rect x="310.75" y="33.80" width="6.30" height="20.80" fill="#0c6751" />
<rect x="318.43" y="58.90" width="6.30" height="1.10" fill="#c7183c" />
<rect x="318.43" y="56.90" width="6.30" height="2.00" fill="#f6921e" />
<rect x="318.43" y="54.80" width="6.30" height="2.10" fill="#144f8a" />
<rect x="318.43" y="33.80" width="6.30" height="21.00" fill="#0c6751" />
<rect x="326.11" y="58.90" width="6.30" height="1.10" fill="#c7183c" />
<rect x="326.11" y="56.90" width="6.30" height="2.00" fill="#f6921e" />
<rect x="326.11" y="54.80" width="6.30" height="2.10" fill="#144f8a" />
<rect x="326.11" y="33.80" width="6.30" height="21.00" fill="#0c6751" />
<rect x="333.79" y="58.90" width="6.30" height="1.10" fill="#c7183c" />
<rect x="333.79" y="56.30" width="6.30" height="2.60" fill="#f6921e" />
<rect x="333.79" y="56.00" width="6.30" height="0.30" fill="#144f8a" />
<rect x="333.79" y="33.80" width="6.30" height="22.20" fill="#0c6751" />
<rect x="341.47" y="59.80" width="6.30" height="0.20" fill="#c7183c" />
<rect x="341.47" y="59.00" width="6.30" height="0.80" fill="#f6921e" />
<rect x="341.47" y="58.50" width="6.30" height="0.50" fill="#144f8a" />
<rect x="341.47" y="33.80" width="6.30" height="24.70" fill="#0c6751" />
<rect x="349.15" y="48.50" width="6.30" height="11.50" fill="#c7183c" />
<rect x="349.15" y="47.70" width="6.30" height="0.80" fill="#f6921e" />
<rect x="349.15" y="45.70" width="6.30" height="2.00" fill="#5a2a82" />
<rect x="349.15" y="33.80" width="6.30" height="11.90" fill="#0c6751" />
<rect x="356.83" y="55.80" width="6.30" height="4.20" fill="#c7183c" />
<rect x="356.83" y="52.30" width="6.30" height="3.50" fill="#144f8a" />
<rect x="356.83" y="33.80" width="6.30" height="18.50" fill="#0c6751" />
<rect x="364.51" y="56.20" width="6.30" height="3.80" fill="#c7183c" />
<rect x="364.51" y="54.40" width="6.30" height="1.80" fill="#f6921e" />
<rect x="364.51" y="53.90" width="6.30" height="0.50" fill="#144f8a" />
<rect x="364.51" y="33.80" width="6.30" height="20.10" fill="#0c6751" />
<rect x="372.19" y="53.00" width="6.30" height="7.00" fill="#c7183c" />
<rect x="372.19" y="48.70" width="6.30" height="4.30" fill="#f6921e" />
<rect x="372.19" y="48.30" width="6.30" height="0.40" fill="#144f8a" />
<rect x="372.19" y="33.80" width="6.30" height="14.50" fill="#0c6751" />
<rect x="379.87" y="55.80" width="6.30" height="4.20" fill="#c7183c" />
<rect x="379.87" y="52.80" width="6.30" height="3.00" fill="#f6921e" />
<rect x="379.87" y="48.50" width="6.30" height="4.30" fill="#144f8a" />
<rect x="379.87" y="33.80" width="6.30" height="14.70" fill="#0c6751" />
<rect x="387.55" y="53.00" width="6.30" height="7.00" fill="#c7183c" />
<rect x="387.55" y="50.20" width="6.30" height="2.80" fill="#144f8a" />
<rect x="387.55" y="33.80" width="6.30" height="16.40" fill="#0c6751" />
<rect x="395.23" y="53.50" width="6.30" height="6.50" fill="#c7183c" />
<rect x="395.23" y="53.00" width="6.30" height="0.50" fill="#f6921e" />
<rect x="395.23" y="51.00" width="6.30" height="2.00" fill="#5a2a82" />
<rect x="395.23" y="48.40" width="6.30" height="2.60" fill="#144f8a" />
<rect x="395.23" y="33.80" width="6.30" height="14.60" fill="#0c6751" />
<rect x="402.91" y="54.60" width="6.30" height="5.40" fill="#c7183c" />
<rect x="402.91" y="53.60" width="6.30" height="1.00" fill="#f6921e" />
<rect x="402.91" y="52.30" width="6.30" height="1.30" fill="#5a2a82" />
<rect x="402.91" y="48.20" width="6.30" height="4.10" fill="#144f8a" />
<rect x="402.91" y="33.80" width="6.30" height="14.40" fill="#0c6751" />
<rect x="410.59" y="40.00" width="6.30" height="20.00" fill="#c7183c" />
<rect x="410.59" y="33.80" width="6.30" height="6.20" fill="#0c6751" />
<rect x="418.27" y="33.80" width="6.30" height="26.20" fill="#c7183c" />
<rect x="418.27" y="33.80" width="6.30" height="0.00" fill="#0c6751" />
<rect x="425.95" y="37.00" width="6.30" height="23.00" fill="#c7183c" />
<rect x="425.95" y="36.20" width="6.30" height="0.80" fill="#f6921e" />
<rect x="425.95" y="34.60" width="6.30" height="1.60" fill="#144f8a" />
<rect x="425.95" y="33.80" width="6.30" height="0.80" fill="#0c6751" />
<rect x="433.63" y="33.80" width="6.30" height="26.20" fill="#f6921e" />
<rect x="441.31" y="58.90" width="6.30" height="1.10" fill="#c7183c" />
<rect x="441.31" y="57.90" width="6.30" height="1.00" fill="#f6921e" />
<rect x="441.31" y="37.90" width="6.30" height="20.00" fill="#5a2a82" />
<rect x="441.31" y="35.80" width="6.30" height="2.10" fill="#144f8a" />
<rect x="441.31" y="33.80" width="6.30" height="2.00" fill="#0c6751" />
<rect x="448.99" y="58.90" width="6.30" height="1.10" fill="#c7183c" />
<rect x="448.99" y="55.40" width="6.30" height="3.50" fill="#5a2a82" />
<rect x="448.99" y="33.80" width="6.30" height="21.60" fill="#144f8a" />
<rect x="456.67" y="58.90" width="6.30" height="1.10" fill="#c7183c" />
<rect x="456.67" y="55.90" width="6.30" height="3.00" fill="#f6921e" />
<rect x="456.67" y="33.80" width="6.30" height="22.10" fill="#144f8a" />
<line x1="321.58" y1="31.80" x2="329.26" y2="31.80" stroke="#444" stroke-width="0.8" />
<line x1="321.58" y1="31.80" x2="321.58" y2="33.80" stroke="#444" stroke-width="0.8" />
<line x1="329.26" y1="31.80" x2="329.26" y2="33.80" stroke="#444" stroke-width="0.8" />
<line x1="313.90" y1="31.00" x2="325.42" y2="31.00" stroke="#444" stroke-width="0.8" />
<line x1="313.90" y1="31.00" x2="313.90" y2="33.80" stroke="#444" stroke-width="0.8" />
<line x1="325.42" y1="31.00" x2="325.42" y2="31.80" stroke="#444" stroke-width="0.8" />
<line x1="336.94" y1="31.60" x2="344.62" y2="31.60" stroke="#444" stroke-width="0.8" />
<line x1="336.94" y1="31.60" x2="336.94" y2="33.80" stroke="#444" stroke-width="0.8" />
<line x1="344.62" y1="31.60" x2="344.62" y2="33.80" stroke="#444" stroke-width="0.8" />
<line x1="319.66" y1="30.30" x2="340.78" y2="30.30" stroke="#444" stroke-width="0.8" />
<line x1="319.66" y1="30.30" x2="319.66" y2="31.00" stroke="#444" stroke-width="0.8" />
<line x1="340.78" y1="30.30" x2="340.78" y2="31.60" stroke="#444" stroke-width="0.8" />
<line x1="367.66" y1="31.90" x2="375.34" y2="31.90" stroke="#444" stroke-width="0.8" />
<line x1="367.66" y1="31.90" x2="367.66" y2="33.80" stroke="#444" stroke-width="0.8" />
<line x1="375.34" y1="31.90" x2="375.34" y2="33.80" stroke="#444" stroke-width="0.8" />
<line x1="359.98" y1="31.20" x2="371.50" y2="31.20" stroke="#444" stroke-width="0.8" />
<line x1="359.98" y1="31.20" x2="359.98" y2="33.80" stroke="#444" stroke-width="0.8" />
<line x1="371.50" y1="31.20" x2="371.50" y2="31.90" stroke="#444" stroke-width="0.8" />
<line x1="383.02" y1="31.50" x2="390.70" y2="31.50" stroke="#444" stroke-width="0.8" />
<line x1="383.02" y1="31.50" x2="383.02" y2="33.80" stroke="#444" stroke-width="0.8" />
<line x1="390.70" y1="31.50" x2="390.70" y2="33.80" stroke="#444" stroke-width="0.8" />
<line x1="398.38" y1="31.90" x2="406.06" y2="31.90" stroke="#444" stroke-width="0.8" />
<line x1="398.38" y1="31.90" x2="398.38" y2="33.80" stroke="#444" stroke-width="0.8" />
<line x1="406.06" y1="31.90" x2="406.06" y2="33.80" stroke="#444" stroke-width="0.8" />
<line x1="386.86" y1="30.90" x2="402.22" y2="30.90" stroke="#444" stroke-width="0.8" />
<line x1="386.86" y1="30.90" x2="386.86" y2="31.50" stroke="#444" stroke-width="0.8" />
<line x1="402.22" y1="30.90" x2="402.22" y2="31.90" stroke="#444" stroke-width="0.8" />
<line x1="365.74" y1="29.90" x2="394.54" y2="29.90" stroke="#444" stroke-width="0.8" />
<line x1="365.74" y1="29.90" x2="365.74" y2="31.20" stroke="#444" stroke-width="0.8" />
<line x1="394.54" y1="29.90" x2="394.54" y2="30.90" stroke="#444" stroke-width="0.8" />
<line x1="352.30" y1="28.80" x2="380.14" y2="28.80" stroke="#444" stroke-width="0.8" />
<line x1="352.30" y1="28.80" x2="352.30" y2="33.80" stroke="#444" stroke-width="0.8" />
<line x1="380.14" y1="28.80" x2="380.14" y2="29.90" stroke="#444" stroke-width="0.8" />
<line x1="330.22" y1="27.20" x2="366.22" y2="27.20" stroke="#444" stroke-width="0.8" />
<line x1="330.22" y1="27.20" x2="330.22" y2="30.30" stroke="#444" stroke-width="0.8" />
<line x1="366.22" y1="27.20" x2="366.22" y2="28.80" stroke="#444" stroke-width="0.8" />
<line x1="421.42" y1="30.80" x2="429.10" y2="30.80" stroke="#444" stroke-width="0.8" />
<line x1="421.42" y1="30.80" x2="421.42" y2="33.80" stroke="#444" stroke-width="0.8" />
<line x1="429.10" y1="30.80" x2="429.10" y2="33.80" stroke="#444" stroke-width="0.8" />
<line x1="413.74" y1="28.90" x2="425.26" y2="28.90" stroke="#444" stroke-width="0.8" />
<line x1="413.74" y1="28.90" x2="413.74" y2="33.80" stroke="#444" stroke-width="0.8" />
<line x1="425.26" y1="28.90" x2="425.26" y2="30.80" stroke="#444" stroke-width="0.8" />
<line x1="452.14" y1="30.80" x2="459.82" y2="30.80" stroke="#444" stroke-width="0.8" />
<line x1="452.14" y1="30.80" x2="452.14" y2="33.80" stroke="#444" stroke-width="0.8" />
<line x1="459.82" y1="30.80" x2="459.82" y2="33.80" stroke="#444" stroke-width="0.8" />
<line x1="444.46" y1="26.20" x2="455.98" y2="26.20" stroke="#444" stroke-width="0.8" />
<line x1="444.46" y1="26.20" x2="444.46" y2="33.80" stroke="#444" stroke-width="0.8" />
<line x1="455.98" y1="26.20" x2="455.98" y2="30.80" stroke="#444" stroke-width="0.8" />
<line x1="436.78" y1="23.50" x2="450.22" y2="23.50" stroke="#444" stroke-width="0.8" />
<line x1="436.78" y1="23.50" x2="436.78" y2="33.80" stroke="#444" stroke-width="0.8" />
<line x1="450.22" y1="23.50" x2="450.22" y2="26.20" stroke="#444" stroke-width="0.8" />
<line x1="419.50" y1="20.80" x2="443.50" y2="20.80" stroke="#444" stroke-width="0.8" />
<line x1="419.50" y1="20.80" x2="419.50" y2="28.90" stroke="#444" stroke-width="0.8" />
<line x1="443.50" y1="20.80" x2="443.50" y2="23.50" stroke="#444" stroke-width="0.8" />
<line x1="348.22" y1="19.20" x2="431.50" y2="19.20" stroke="#444" stroke-width="0.8" />
<line x1="348.22" y1="19.20" x2="348.22" y2="27.20" stroke="#444" stroke-width="0.8" />
<line x1="431.50" y1="19.20" x2="431.50" y2="20.80" stroke="#444" stroke-width="0.8" />
<rect x="469.80" y="30.50" width="4.20" height="3.70" fill="#c7183c" />
<text x="476.13" y="34.30" font-size="6.9" fill="#222"  stroke="#222" stroke-width="0.14" textLength="19.34" lengthAdjust="spacingAndGlyphs">Sig. P1</text>
<rect x="469.80" y="37.00" width="4.20" height="3.70" fill="#f6921e" />
<text x="476.13" y="40.80" font-size="6.9" fill="#222"  stroke="#222" stroke-width="0.14" textLength="19.37" lengthAdjust="spacingAndGlyphs">Sig. P2</text>
<rect x="469.80" y="43.50" width="4.20" height="3.70" fill="#5a2a82" />
<text x="476.13" y="47.30" font-size="6.9" fill="#222"  stroke="#222" stroke-width="0.14" textLength="19.30" lengthAdjust="spacingAndGlyphs">Sig. P3</text>
<rect x="469.80" y="50.00" width="4.20" height="3.70" fill="#144f8a" />
<text x="476.13" y="53.80" font-size="6.9" fill="#222"  stroke="#222" stroke-width="0.14" textLength="19.24" lengthAdjust="spacingAndGlyphs">Sig. P4</text>
<rect x="469.80" y="56.50" width="4.20" height="3.70" fill="#0c6751" />
<text x="476.13" y="60.30" font-size="6.9" fill="#222"  stroke="#222" stroke-width="0.14" textLength="19.30" lengthAdjust="spacingAndGlyphs">Sig. P5</text>
<text x="270.60" y="65.30" font-size="8.3" fill="#111" stroke="#111" stroke-width="0.23" textLength="35.32" lengthAdjust="spacingAndGlyphs" transform="rotate(-90 270.60 65.30)">Percentages</text>
<text x="281.10" y="65.35" font-size="8.3" fill="#111" stroke="#111" stroke-width="0.22" textLength="36.28" lengthAdjust="spacingAndGlyphs" transform="rotate(-90 281.10 65.35)">of signatures</text>
<text x="285.43" y="37.70" font-size="7.5" fill="#111"  stroke="#111" stroke-width="0.14" textLength="19.52" lengthAdjust="spacingAndGlyphs">100%</text>
<text x="293.79" y="61.10" font-size="7.5" fill="#111"  stroke="#111" stroke-width="0.14" textLength="11.18" lengthAdjust="spacingAndGlyphs">0%</text>
<text x="270.00" y="101.30" font-size="8.3" fill="#111" stroke="#111" stroke-width="0.23" textLength="22.31" lengthAdjust="spacingAndGlyphs" transform="rotate(-90 270.00 101.30)">Number</text>
<text x="281.30" y="99.05" font-size="8.3" fill="#111" stroke="#111" stroke-width="0.25" textLength="19.24" lengthAdjust="spacingAndGlyphs" transform="rotate(-90 281.30 99.05)">of SBS</text>
<text x="290.22" y="78.80" font-size="7.5" fill="#111"  stroke="#111" stroke-width="0.14" textLength="14.48" lengthAdjust="spacingAndGlyphs">6.5k</text>
<text x="299.82" y="104.00" font-size="7.5" fill="#111"  stroke="#111" stroke-width="0.14" textLength="5.21" lengthAdjust="spacingAndGlyphs">0</text>
<line x1="311.00" y1="72.60" x2="311.00" y2="101.60" stroke="#111" stroke-width="0.9" />
<line x1="308.30" y1="76.40" x2="311.00" y2="76.40" stroke="#111" stroke-width="0.9" />
<line x1="308.30" y1="101.10" x2="311.00" y2="101.10" stroke="#111" stroke-width="0.9" />
<rect x="311.00" y="100.50" width="5.80" height="0.60" fill="#114e86" />
<rect x="318.68" y="100.60" width="5.80" height="0.50" fill="#114e86" />
<rect x="326.36" y="100.60" width="5.80" height="0.50" fill="#114e86" />
<rect x="334.04" y="100.70" width="5.80" height="0.40" fill="#114e86" />
<rect x="341.72" y="100.30" width="5.80" height="0.80" fill="#114e86" />
<rect x="349.40" y="100.80" width="5.80" height="0.30" fill="#114e86" />
<rect x="357.08" y="100.60" width="5.80" height="0.50" fill="#114e86" />
<rect x="364.76" y="100.10" width="5.80" height="1.00" fill="#114e86" />
<rect x="372.44" y="87.10" width="5.80" height="14.00" fill="#114e86" />
<rect x="380.12" y="88.50" width="5.80" height="12.60" fill="#114e86" />
<rect x="387.80" y="99.80" width="5.80" height="1.30" fill="#114e86" />
<rect x="395.48" y="100.80" width="5.80" height="0.30" fill="#114e86" />
<rect x="403.16" y="99.80" width="5.80" height="1.30" fill="#114e86" />
<rect x="410.84" y="99.10" width="5.80" height="2.00" fill="#114e86" />
<rect x="418.52" y="95.60" width="5.80" height="5.50" fill="#114e86" />
<rect x="426.20" y="100.30" width="5.80" height="0.80" fill="#114e86" />
<rect x="433.88" y="94.50" width="5.80" height="6.60" fill="#114e86" />
<rect x="441.56" y="79.10" width="5.80" height="22.00" fill="#114e86" />
<rect x="449.24" y="93.10" width="5.80" height="8.00" fill="#114e86" />
<line x1="310.60" y1="101.10" x2="460.00" y2="101.10" stroke="#111" stroke-width="0.9" />
<text x="470.70" y="104.89" font-size="5.4" fill="#111" stroke="#111" stroke-width="0.14" textLength="13.17" lengthAdjust="spacingAndGlyphs" transform="rotate(-90 470.70 104.89)">DDR</text>
<text x="476.45" y="104.91" font-size="5.4" fill="#111" stroke="#111" stroke-width="0.14" textLength="15.32" lengthAdjust="spacingAndGlyphs" transform="rotate(-90 476.45 104.91)">MMR</text>
<text x="482.20" y="104.90" font-size="5.4" fill="#111" stroke="#111" stroke-width="0.14" textLength="12.78" lengthAdjust="spacingAndGlyphs" transform="rotate(-90 482.20 104.90)">BER</text>
<text x="487.95" y="104.88" font-size="5.4" fill="#111" stroke="#111" stroke-width="0.14" textLength="12.76" lengthAdjust="spacingAndGlyphs" transform="rotate(-90 487.95 104.88)">NER</text>
<text x="493.70" y="104.90" font-size="5.4" fill="#111" stroke="#111" stroke-width="0.14" textLength="9.12" lengthAdjust="spacingAndGlyphs" transform="rotate(-90 493.70 104.90)">HR</text>
<text x="499.45" y="104.87" font-size="5.4" fill="#111" stroke="#111" stroke-width="0.14" textLength="15.42" lengthAdjust="spacingAndGlyphs" transform="rotate(-90 499.45 104.87)">NHEJ</text>
<text x="292.49" y="111.50" font-size="7.0" fill="#222" font-style="italic"  stroke="#222" stroke-width="0.14" textLength="15.14" lengthAdjust="spacingAndGlyphs">TP53</text>
<rect x="311.00" y="107.00" width="5.80" height="5.50" fill="#29abe2" />
<rect x="318.68" y="107.00" width="5.80" height="5.50" fill="#c1c1c1" />
<rect x="326.36" y="107.00" width="5.80" height="5.50" fill="#c1c1c1" />
<rect x="334.04" y="107.00" width="5.80" height="5.50" fill="#c1c1c1" />
<rect x="341.72" y="107.00" width="5.80" height="5.50" fill="#c1c1c1" />
<rect x="349.40" y="107.00" width="5.80" height="5.50" fill="#c1c1c1" />
<rect x="357.08" y="107.00" width="5.80" height="5.50" fill="#c1c1c1" />
<rect x="364.76" y="107.00" width="5.80" height="5.50" fill="#c1c1c1" />
<rect x="372.44" y="107.00" width="5.80" height="5.50" fill="#c1c1c1" />
<rect x="380.12" y="107.00" width="5.80" height="5.50" fill="#c1c1c1" />
<rect x="387.80" y="107.00" width="5.80" height="5.50" fill="#c1c1c1" />
<rect x="395.48" y="107.00" width="5.80" height="5.50" fill="#c1c1c1" />
<rect x="403.16" y="107.00" width="5.80" height="5.50" fill="#c1c1c1" />
<rect x="410.84" y="107.00" width="5.80" height="5.50" fill="#c1c1c1" />
<rect x="418.52" y="107.00" width="5.80" height="5.50" fill="#c1c1c1" />
<rect x="426.20" y="107.00" width="5.80" height="5.50" fill="#c1c1c1" />
<rect x="433.88" y="107.00" width="5.80" height="5.50" fill="#c1c1c1" />
<rect x="441.56" y="107.00" width="5.80" height="5.50" fill="#c1c1c1" />
<rect x="449.24" y="107.00" width="5.80" height="5.50" fill="#c1c1c1" />
<rect x="456.92" y="107.00" width="5.80" height="5.50" fill="#c1c1c1" />
<rect x="466.90" y="107.00" width="4.60" height="5.50" fill="#000" />
<rect x="472.65" y="107.00" width="4.60" height="5.50" fill="#c1c1c1" />
<rect x="478.40" y="107.00" width="4.60" height="5.50" fill="#c1c1c1" />
<rect x="484.15" y="107.00" width="4.60" height="5.50" fill="#c1c1c1" />
<rect x="489.90" y="107.00" width="4.60" height="5.50" fill="#c1c1c1" />
<rect x="495.65" y="107.00" width="4.60" height="5.50" fill="#c1c1c1" />
<text x="290.05" y="118.60" font-size="7.0" fill="#222" font-style="italic"  stroke="#222" stroke-width="0.14" textLength="17.60" lengthAdjust="spacingAndGlyphs">MSH3</text>
<rect x="311.00" y="114.10" width="5.80" height="5.50" fill="#c1c1c1" />
<rect x="318.68" y="114.10" width="5.80" height="5.50" fill="#c1c1c1" />
<rect x="326.36" y="114.10" width="5.80" height="5.50" fill="#c1c1c1" />
<rect x="334.04" y="114.10" width="5.80" height="5.50" fill="#c1c1c1" />
<rect x="341.72" y="114.10" width="5.80" height="5.50" fill="#c1c1c1" />
<rect x="349.40" y="114.10" width="5.80" height="5.50" fill="#c1c1c1" />
<rect x="357.08" y="114.10" width="5.80" height="5.50" fill="#c1c1c1" />
<rect x="364.76" y="114.10" width="5.80" height="5.50" fill="#c1c1c1" />
<rect x="372.44" y="114.10" width="5.80" height="5.50" fill="#c1c1c1" />
<rect x="380.12" y="114.10" width="5.80" height="5.50" fill="#c1c1c1" />
<rect x="387.80" y="114.10" width="5.80" height="5.50" fill="#c1c1c1" />
<rect x="395.48" y="114.10" width="5.80" height="5.50" fill="#c1c1c1" />
<rect x="403.16" y="114.10" width="5.80" height="5.50" fill="#8d7e42" />
<rect x="410.84" y="114.10" width="5.80" height="5.50" fill="#c1c1c1" />
<rect x="418.52" y="114.10" width="5.80" height="5.50" fill="#c1c1c1" />
<rect x="426.20" y="114.10" width="5.80" height="5.50" fill="#c1c1c1" />
<rect x="433.88" y="114.10" width="5.80" height="5.50" fill="#c1c1c1" />
<rect x="441.56" y="114.10" width="5.80" height="5.50" fill="#c1c1c1" />
<rect x="449.24" y="114.10" width="5.80" height="5.50" fill="#c1c1c1" />
<rect x="456.92" y="114.10" width="5.80" height="5.50" fill="#c1c1c1" />
<rect x="466.90" y="114.10" width="4.60" height="5.50" fill="#c1c1c1" />
<rect x="472.65" y="114.10" width="4.60" height="5.50" fill="#000" />
<rect x="478.40" y="114.10" width="4.60" height="5.50" fill="#c1c1c1" />
<rect x="484.15" y="114.10" width="4.60" height="5.50" fill="#c1c1c1" />
<rect x="489.90" y="114.10" width="4.60" height="5.50" fill="#c1c1c1" />
<rect x="495.65" y="114.10" width="4.60" height="5.50" fill="#c1c1c1" />
<text x="290.02" y="125.70" font-size="7.0" fill="#222" font-style="italic"  stroke="#222" stroke-width="0.14" textLength="17.60" lengthAdjust="spacingAndGlyphs">MSH6</text>
<rect x="311.00" y="121.20" width="5.80" height="5.50" fill="#c1c1c1" />
<rect x="318.68" y="121.20" width="5.80" height="5.50" fill="#c1c1c1" />
<rect x="326.36" y="121.20" width="5.80" height="5.50" fill="#c1c1c1" />
<rect x="334.04" y="121.20" width="5.80" height="5.50" fill="#c1c1c1" />
<rect x="341.72" y="121.20" width="5.80" height="5.50" fill="#c1c1c1" />
<rect x="349.40" y="121.20" width="5.80" height="5.50" fill="#c1c1c1" />
<rect x="357.08" y="121.20" width="5.80" height="5.50" fill="#c1c1c1" />
<rect x="364.76" y="121.20" width="5.80" height="5.50" fill="#c1c1c1" />
<rect x="372.44" y="121.20" width="5.80" height="5.50" fill="#c1c1c1" />
<rect x="380.12" y="121.20" width="5.80" height="5.50" fill="#c1c1c1" />
<rect x="387.80" y="121.20" width="5.80" height="5.50" fill="#c1c1c1" />
<rect x="395.48" y="121.20" width="5.80" height="5.50" fill="#c1c1c1" />
<rect x="403.16" y="121.20" width="5.80" height="5.50" fill="#8d7e42" />
<rect x="410.84" y="121.20" width="5.80" height="5.50" fill="#c1c1c1" />
<rect x="418.52" y="121.20" width="5.80" height="5.50" fill="#c1c1c1" />
<rect x="426.20" y="121.20" width="5.80" height="5.50" fill="#c1c1c1" />
<rect x="433.88" y="121.20" width="5.80" height="5.50" fill="#c1c1c1" />
<rect x="441.56" y="121.20" width="5.80" height="5.50" fill="#c1c1c1" />
<rect x="449.24" y="121.20" width="5.80" height="5.50" fill="#c1c1c1" />
<rect x="456.92" y="121.20" width="5.80" height="5.50" fill="#c1c1c1" />
<rect x="466.90" y="121.20" width="4.60" height="5.50" fill="#c1c1c1" />
<rect x="472.65" y="121.20" width="4.60" height="5.50" fill="#000" />
<rect x="478.40" y="121.20" width="4.60" height="5.50" fill="#c1c1c1" />
<rect x="484.15" y="121.20" width="4.60" height="5.50" fill="#c1c1c1" />
<rect x="489.90" y="121.20" width="4.60" height="5.50" fill="#c1c1c1" />
<rect x="495.65" y="121.20" width="4.60" height="5.50" fill="#c1c1c1" />
<text x="290.91" y="132.80" font-size="7.0" fill="#222" font-style="italic"  stroke="#222" stroke-width="0.14" textLength="17.25" lengthAdjust="spacingAndGlyphs">PMS1</text>
<rect x="311.00" y="128.30" width="5.80" height="5.50" fill="#c1c1c1" />
<rect x="318.68" y="128.30" width="5.80" height="5.50" fill="#c1c1c1" />
<rect x="326.36" y="128.30" width="5.80" height="5.50" fill="#c1c1c1" />
<rect x="334.04" y="128.30" width="5.80" height="5.50" fill="#c1c1c1" />
<rect x="341.72" y="128.30" width="5.80" height="5.50" fill="#c1c1c1" />
<rect x="349.40" y="128.30" width="5.80" height="5.50" fill="#c1c1c1" />
<rect x="357.08" y="128.30" width="5.80" height="5.50" fill="#c1c1c1" />
<rect x="364.76" y="128.30" width="5.80" height="5.50" fill="#c1c1c1" />
<rect x="372.44" y="128.30" width="5.80" height="5.50" fill="#c1c1c1" />
<rect x="380.12" y="128.30" width="5.80" height="5.50" fill="#c1c1c1" />
<rect x="387.80" y="128.30" width="5.80" height="5.50" fill="#c1c1c1" />
<rect x="395.48" y="128.30" width="5.80" height="5.50" fill="#c1c1c1" />
<rect x="403.16" y="128.30" width="5.80" height="5.50" fill="#c1c1c1" />
<rect x="410.84" y="128.30" width="5.80" height="5.50" fill="#c1c1c1" />
<rect x="418.52" y="128.30" width="5.80" height="5.50" fill="#c1c1c1" />
<rect x="426.20" y="128.30" width="5.80" height="5.50" fill="#c1c1c1" />
<rect x="433.88" y="128.30" width="5.80" height="5.50" fill="#29abe2" />
<rect x="441.56" y="128.30" width="5.80" height="5.50" fill="#c1c1c1" />
<rect x="449.24" y="128.30" width="5.80" height="5.50" fill="#c1c1c1" />
<rect x="456.92" y="128.30" width="5.80" height="5.50" fill="#c1c1c1" />
<rect x="466.90" y="128.30" width="4.60" height="5.50" fill="#c1c1c1" />
<rect x="472.65" y="128.30" width="4.60" height="5.50" fill="#000" />
<rect x="478.40" y="128.30" width="4.60" height="5.50" fill="#c1c1c1" />
<rect x="484.15" y="128.30" width="4.60" height="5.50" fill="#c1c1c1" />
<rect x="489.90" y="128.30" width="4.60" height="5.50" fill="#c1c1c1" />
<rect x="495.65" y="128.30" width="4.60" height="5.50" fill="#c1c1c1" />
<text x="294.42" y="139.90" font-size="7.0" fill="#222" font-style="italic"  stroke="#222" stroke-width="0.14" textLength="13.73" lengthAdjust="spacingAndGlyphs">LIG1</text>
<rect x="311.00" y="135.40" width="5.80" height="5.50" fill="#c1c1c1" />
<rect x="318.68" y="135.40" width="5.80" height="5.50" fill="#c1c1c1" />
<rect x="326.36" y="135.40" width="5.80" height="5.50" fill="#c1c1c1" />
<rect x="334.04" y="135.40" width="5.80" height="5.50" fill="#c1c1c1" />
<rect x="341.72" y="135.40" width="5.80" height="5.50" fill="#c1c1c1" />
<rect x="349.40" y="135.40" width="5.80" height="5.50" fill="#c1c1c1" />
<rect x="357.08" y="135.40" width="5.80" height="5.50" fill="#c1c1c1" />
<rect x="364.76" y="135.40" width="5.80" height="5.50" fill="#c1c1c1" />
<rect x="372.44" y="135.40" width="5.80" height="5.50" fill="#c1c1c1" />
<rect x="380.12" y="135.40" width="5.80" height="5.50" fill="#c1c1c1" />
<rect x="387.80" y="135.40" width="5.80" height="5.50" fill="#c1c1c1" />
<rect x="395.48" y="135.40" width="5.80" height="5.50" fill="#c1c1c1" />
<rect x="403.16" y="135.40" width="5.80" height="5.50" fill="#c1c1c1" />
<rect x="410.84" y="135.40" width="5.80" height="5.50" fill="#c1c1c1" />
<rect x="418.52" y="135.40" width="5.80" height="5.50" fill="#29abe2" />
<rect x="426.20" y="135.40" width="5.80" height="5.50" fill="#c1c1c1" />
<rect x="433.88" y="135.40" width="5.80" height="5.50" fill="#c1c1c1" />
<rect x="441.56" y="135.40" width="5.80" height="5.50" fill="#c1c1c1" />
<rect x="449.24" y="135.40" width="5.80" height="5.50" fill="#c1c1c1" />
<rect x="456.92" y="135.40" width="5.80" height="5.50" fill="#c1c1c1" />
<rect x="466.90" y="135.40" width="4.60" height="5.50" fill="#c1c1c1" />
<rect x="472.65" y="135.40" width="4.60" height="5.50" fill="#000" />
<rect x="478.40" y="135.40" width="4.60" height="5.50" fill="#000" />
<rect x="484.15" y="135.40" width="4.60" height="5.50" fill="#000" />
<rect x="489.90" y="135.40" width="4.60" height="5.50" fill="#c1c1c1" />
<rect x="495.65" y="135.40" width="4.60" height="5.50" fill="#c1c1c1" />
<text x="290.65" y="147.00" font-size="7.0" fill="#222" font-style="italic"  stroke="#222" stroke-width="0.14" textLength="16.90" lengthAdjust="spacingAndGlyphs">POLE</text>
<rect x="311.00" y="142.50" width="5.80" height="5.50" fill="#c1c1c1" />
<rect x="318.68" y="142.50" width="5.80" height="5.50" fill="#c1c1c1" />
<rect x="326.36" y="142.50" width="5.80" height="5.50" fill="#c1c1c1" />
<rect x="334.04" y="142.50" width="5.80" height="5.50" fill="#c1c1c1" />
<rect x="341.72" y="142.50" width="5.80" height="5.50" fill="#c1c1c1" />
<rect x="349.40" y="142.50" width="5.80" height="5.50" fill="#c1c1c1" />
<rect x="357.08" y="142.50" width="5.80" height="5.50" fill="#c1c1c1" />
<rect x="364.76" y="142.50" width="5.80" height="5.50" fill="#c1c1c1" />
<rect x="372.44" y="142.50" width="5.80" height="5.50" fill="#c1c1c1" />
<rect x="380.12" y="142.50" width="5.80" height="5.50" fill="#c1c1c1" />
<rect x="387.80" y="142.50" width="5.80" height="5.50" fill="#c1c1c1" />
<rect x="395.48" y="142.50" width="5.80" height="5.50" fill="#c1c1c1" />
<rect x="403.16" y="142.50" width="5.80" height="5.50" fill="#c1c1c1" />
<rect x="410.84" y="142.50" width="5.80" height="5.50" fill="#c1c1c1" />
<rect x="418.52" y="142.50" width="5.80" height="5.50" fill="#29abe2" />
<rect x="426.20" y="142.50" width="5.80" height="5.50" fill="#c1c1c1" />
<rect x="433.88" y="142.50" width="5.80" height="5.50" fill="#29abe2" />
<rect x="441.56" y="142.50" width="5.80" height="5.50" fill="#c1c1c1" />
<rect x="449.24" y="142.50" width="5.80" height="5.50" fill="#c1c1c1" />
<rect x="456.92" y="142.50" width="5.80" height="5.50" fill="#c1c1c1" />
<rect x="466.90" y="142.50" width="4.60" height="5.50" fill="#c1c1c1" />
<rect x="472.65" y="142.50" width="4.60" height="5.50" fill="#c1c1c1" />
<rect x="478.40" y="142.50" width="4.60" height="5.50" fill="#000" />
<rect x="484.15" y="142.50" width="4.60" height="5.50" fill="#000" />
<rect x="489.90" y="142.50" width="4.60" height="5.50" fill="#c1c1c1" />
<rect x="495.65" y="142.50" width="4.60" height="5.50" fill="#c1c1c1" />
<text x="290.34" y="154.10" font-size="7.0" fill="#222" font-style="italic"  stroke="#222" stroke-width="0.14" textLength="17.25" lengthAdjust="spacingAndGlyphs">POLH</text>
<rect x="311.00" y="149.60" width="5.80" height="5.50" fill="#c1c1c1" />
<rect x="318.68" y="149.60" width="5.80" height="5.50" fill="#c1c1c1" />
<rect x="326.36" y="149.60" width="5.80" height="5.50" fill="#c1c1c1" />
<rect x="334.04" y="149.60" width="5.80" height="5.50" fill="#c1c1c1" />
<rect x="341.72" y="149.60" width="5.80" height="5.50" fill="#c1c1c1" />
<rect x="349.40" y="149.60" width="5.80" height="5.50" fill="#c1c1c1" />
<rect x="357.08" y="149.60" width="5.80" height="5.50" fill="#c1c1c1" />
<rect x="364.76" y="149.60" width="5.80" height="5.50" fill="#29abe2" />
<rect x="372.44" y="149.60" width="5.80" height="5.50" fill="#c1c1c1" />
<rect x="380.12" y="149.60" width="5.80" height="5.50" fill="#c1c1c1" />
<rect x="387.80" y="149.60" width="5.80" height="5.50" fill="#c1c1c1" />
<rect x="395.48" y="149.60" width="5.80" height="5.50" fill="#c1c1c1" />
<rect x="403.16" y="149.60" width="5.80" height="5.50" fill="#c1c1c1" />
<rect x="410.84" y="149.60" width="5.80" height="5.50" fill="#c1c1c1" />
<rect x="418.52" y="149.60" width="5.80" height="5.50" fill="#29abe2" />
<rect x="426.20" y="149.60" width="5.80" height="5.50" fill="#c1c1c1" />
<rect x="433.88" y="149.60" width="5.80" height="5.50" fill="#c1c1c1" />
<rect x="441.56" y="149.60" width="5.80" height="5.50" fill="#c1c1c1" />
<rect x="449.24" y="149.60" width="5.80" height="5.50" fill="#c1c1c1" />
<rect x="456.92" y="149.60" width="5.80" height="5.50" fill="#c1c1c1" />
<rect x="466.90" y="149.60" width="4.60" height="5.50" fill="#c1c1c1" />
<rect x="472.65" y="149.60" width="4.60" height="5.50" fill="#c1c1c1" />
<rect x="478.40" y="149.60" width="4.60" height="5.50" fill="#000" />
<rect x="484.15" y="149.60" width="4.60" height="5.50" fill="#c1c1c1" />
<rect x="489.90" y="149.60" width="4.60" height="5.50" fill="#c1c1c1" />
<rect x="495.65" y="149.60" width="4.60" height="5.50" fill="#c1c1c1" />
<text x="290.40" y="161.20" font-size="7.0" fill="#222" font-style="italic"  stroke="#222" stroke-width="0.14" textLength="17.25" lengthAdjust="spacingAndGlyphs">PNKP</text>
<rect x="311.00" y="156.70" width="5.80" height="5.50" fill="#c1c1c1" />
<rect x="318.68" y="156.70" width="5.80" height="5.50" fill="#c1c1c1" />
<rect x="326.36" y="156.70" width="5.80" height="5.50" fill="#c1c1c1" />
<rect x="334.04" y="156.70" width="5.80" height="5.50" fill="#c1c1c1" />
<rect x="341.72" y="156.70" width="5.80" height="5.50" fill="#c1c1c1" />
<rect x="349.40" y="156.70" width="5.80" height="5.50" fill="#c1c1c1" />
<rect x="357.08" y="156.70" width="5.80" height="5.50" fill="#c1c1c1" />
<rect x="364.76" y="156.70" width="5.80" height="5.50" fill="#c1c1c1" />
<rect x="372.44" y="156.70" width="5.80" height="5.50" fill="#c1c1c1" />
<rect x="380.12" y="156.70" width="5.80" height="5.50" fill="#c1c1c1" />
<rect x="387.80" y="156.70" width="5.80" height="5.50" fill="#c1c1c1" />
<rect x="395.48" y="156.70" width="5.80" height="5.50" fill="#c1c1c1" />
<rect x="403.16" y="156.70" width="5.80" height="5.50" fill="#c1c1c1" />
<rect x="410.84" y="156.70" width="5.80" height="5.50" fill="#c1c1c1" />
<rect x="418.52" y="156.70" width="5.80" height="5.50" fill="#c1c1c1" />
<rect x="426.20" y="156.70" width="5.80" height="5.50" fill="#c1c1c1" />
<rect x="433.88" y="156.70" width="5.80" height="5.50" fill="#29abe2" />
<rect x="441.56" y="156.70" width="5.80" height="5.50" fill="#c1c1c1" />
<rect x="449.24" y="156.70" width="5.80" height="5.50" fill="#c1c1c1" />
<rect x="456.92" y="156.70" width="5.80" height="5.50" fill="#c1c1c1" />
<rect x="466.90" y="156.70" width="4.60" height="5.50" fill="#c1c1c1" />
<rect x="472.65" y="156.70" width="4.60" height="5.50" fill="#c1c1c1" />
<rect x="478.40" y="156.70" width="4.60" height="5.50" fill="#000" />
<rect x="484.15" y="156.70" width="4.60" height="5.50" fill="#c1c1c1" />
<rect x="489.90" y="156.70" width="4.60" height="5.50" fill="#c1c1c1" />
<rect x="495.65" y="156.70" width="4.60" height="5.50" fill="#000" />
<text x="294.55" y="168.30" font-size="7.0" fill="#222" font-style="italic"  stroke="#222" stroke-width="0.14" textLength="13.03" lengthAdjust="spacingAndGlyphs">XPC</text>
<rect x="311.00" y="163.80" width="5.80" height="5.50" fill="#c1c1c1" />
<rect x="318.68" y="163.80" width="5.80" height="5.50" fill="#c1c1c1" />
<rect x="326.36" y="163.80" width="5.80" height="5.50" fill="#c1c1c1" />
<rect x="334.04" y="163.80" width="5.80" height="5.50" fill="#c1c1c1" />
<rect x="341.72" y="163.80" width="5.80" height="5.50" fill="#c1c1c1" />
<rect x="349.40" y="163.80" width="5.80" height="5.50" fill="#c1c1c1" />
<rect x="357.08" y="163.80" width="5.80" height="5.50" fill="#c1c1c1" />
<rect x="364.76" y="163.80" width="5.80" height="5.50" fill="#c1c1c1" />
<rect x="372.44" y="163.80" width="5.80" height="5.50" fill="#c1c1c1" />
<rect x="380.12" y="163.80" width="5.80" height="5.50" fill="#c1c1c1" />
<rect x="387.80" y="163.80" width="5.80" height="5.50" fill="#c1c1c1" />
<rect x="395.48" y="163.80" width="5.80" height="5.50" fill="#c1c1c1" />
<rect x="403.16" y="163.80" width="5.80" height="5.50" fill="#c1c1c1" />
<rect x="410.84" y="163.80" width="5.80" height="5.50" fill="#c1c1c1" />
<rect x="418.52" y="163.80" width="5.80" height="5.50" fill="#c1c1c1" />
<rect x="426.20" y="163.80" width="5.80" height="5.50" fill="#c1c1c1" />
<rect x="433.88" y="163.80" width="5.80" height="5.50" fill="#c1c1c1" />
<rect x="441.56" y="163.80" width="5.80" height="5.50" fill="#29abe2" />
<rect x="449.24" y="163.80" width="5.80" height="5.50" fill="#c1c1c1" />
<rect x="456.92" y="163.80" width="5.80" height="5.50" fill="#c1c1c1" />
<rect x="466.90" y="163.80" width="4.60" height="5.50" fill="#c1c1c1" />
<rect x="472.65" y="163.80" width="4.60" height="5.50" fill="#c1c1c1" />
<rect x="478.40" y="163.80" width="4.60" height="5.50" fill="#c1c1c1" />
<rect x="484.15" y="163.80" width="4.60" height="5.50" fill="#000" />
<rect x="489.90" y="163.80" width="4.60" height="5.50" fill="#c1c1c1" />
<rect x="495.65" y="163.80" width="4.60" height="5.50" fill="#c1c1c1" />
<text x="291.51" y="175.40" font-size="7.0" fill="#222" font-style="italic"  stroke="#222" stroke-width="0.14" textLength="16.20" lengthAdjust="spacingAndGlyphs">XAB2</text>
<rect x="311.00" y="170.90" width="5.80" height="5.50" fill="#c1c1c1" />
<rect x="318.68" y="170.90" width="5.80" height="5.50" fill="#c1c1c1" />
<rect x="326.36" y="170.90" width="5.80" height="5.50" fill="#c1c1c1" />
<rect x="334.04" y="170.90" width="5.80" height="5.50" fill="#c1c1c1" />
<rect x="341.72" y="170.90" width="5.80" height="5.50" fill="#c1c1c1" />
<rect x="349.40" y="170.90" width="5.80" height="5.50" fill="#c1c1c1" />
<rect x="357.08" y="170.90" width="5.80" height="5.50" fill="#c1c1c1" />
<rect x="364.76" y="170.90" width="5.80" height="5.50" fill="#c1c1c1" />
<rect x="372.44" y="170.90" width="5.80" height="5.50" fill="#c1c1c1" />
<rect x="380.12" y="170.90" width="5.80" height="5.50" fill="#c1c1c1" />
<rect x="387.80" y="170.90" width="5.80" height="5.50" fill="#c1c1c1" />
<rect x="395.48" y="170.90" width="5.80" height="5.50" fill="#c1c1c1" />
<rect x="403.16" y="170.90" width="5.80" height="5.50" fill="#c1c1c1" />
<rect x="410.84" y="170.90" width="5.80" height="5.50" fill="#c1c1c1" />
<rect x="418.52" y="170.90" width="5.80" height="5.50" fill="#29abe2" />
<rect x="426.20" y="170.90" width="5.80" height="5.50" fill="#c1c1c1" />
<rect x="433.88" y="170.90" width="5.80" height="5.50" fill="#c1c1c1" />
<rect x="441.56" y="170.90" width="5.80" height="5.50" fill="#c1c1c1" />
<rect x="449.24" y="170.90" width="5.80" height="5.50" fill="#c1c1c1" />
<rect x="456.92" y="170.90" width="5.80" height="5.50" fill="#c1c1c1" />
<rect x="466.90" y="170.90" width="4.60" height="5.50" fill="#c1c1c1" />
<rect x="472.65" y="170.90" width="4.60" height="5.50" fill="#c1c1c1" />
<rect x="478.40" y="170.90" width="4.60" height="5.50" fill="#c1c1c1" />
<rect x="484.15" y="170.90" width="4.60" height="5.50" fill="#000" />
<rect x="489.90" y="170.90" width="4.60" height="5.50" fill="#c1c1c1" />
<rect x="495.65" y="170.90" width="4.60" height="5.50" fill="#c1c1c1" />
<text x="291.00" y="182.50" font-size="7.0" fill="#222" font-style="italic"  stroke="#222" stroke-width="0.14" textLength="16.43" lengthAdjust="spacingAndGlyphs">ATRX</text>
<rect x="311.00" y="178.00" width="5.80" height="5.50" fill="#c1c1c1" />
<rect x="318.68" y="178.00" width="5.80" height="5.50" fill="#c1c1c1" />
<rect x="326.36" y="178.00" width="5.80" height="5.50" fill="#c1c1c1" />
<rect x="334.04" y="178.00" width="5.80" height="5.50" fill="#c1c1c1" />
<rect x="341.72" y="178.00" width="5.80" height="5.50" fill="#c1c1c1" />
<rect x="349.40" y="178.00" width="5.80" height="5.50" fill="#c1c1c1" />
<rect x="357.08" y="178.00" width="5.80" height="5.50" fill="#c1c1c1" />
<rect x="364.76" y="178.00" width="5.80" height="5.50" fill="#c1c1c1" />
<rect x="372.44" y="178.00" width="5.80" height="5.50" fill="#c1c1c1" />
<rect x="380.12" y="178.00" width="5.80" height="5.50" fill="#c1c1c1" />
<rect x="387.80" y="178.00" width="5.80" height="5.50" fill="#c1c1c1" />
<rect x="395.48" y="178.00" width="5.80" height="5.50" fill="#c1c1c1" />
<rect x="403.16" y="178.00" width="5.80" height="5.50" fill="#c1c1c1" />
<rect x="410.84" y="178.00" width="5.80" height="5.50" fill="#c1c1c1" />
<rect x="418.52" y="178.00" width="5.80" height="5.50" fill="#c1c1c1" />
<rect x="426.20" y="178.00" width="5.80" height="5.50" fill="#ed1c24" />
<rect x="433.88" y="178.00" width="5.80" height="5.50" fill="#c1c1c1" />
<rect x="441.56" y="178.00" width="5.80" height="5.50" fill="#c1c1c1" />
<rect x="449.24" y="178.00" width="5.80" height="5.50" fill="#c1c1c1" />
<rect x="456.92" y="178.00" width="5.80" height="5.50" fill="#c1c1c1" />
<rect x="466.90" y="178.00" width="4.60" height="5.50" fill="#c1c1c1" />
<rect x="472.65" y="178.00" width="4.60" height="5.50" fill="#c1c1c1" />
<rect x="478.40" y="178.00" width="4.60" height="5.50" fill="#c1c1c1" />
<rect x="484.15" y="178.00" width="4.60" height="5.50" fill="#c1c1c1" />
<rect x="489.90" y="178.00" width="4.60" height="5.50" fill="#000" />
<rect x="495.65" y="178.00" width="4.60" height="5.50" fill="#c1c1c1" />
<text x="286.57" y="189.60" font-size="7.0" fill="#222" font-style="italic"  stroke="#222" stroke-width="0.14" textLength="21.12" lengthAdjust="spacingAndGlyphs">BRCA2</text>
<rect x="311.00" y="185.10" width="5.80" height="5.50" fill="#29abe2" />
<rect x="318.68" y="185.10" width="5.80" height="5.50" fill="#c1c1c1" />
<rect x="326.36" y="185.10" width="5.80" height="5.50" fill="#c1c1c1" />
<rect x="334.04" y="185.10" width="5.80" height="5.50" fill="#c1c1c1" />
<rect x="341.72" y="185.10" width="5.80" height="5.50" fill="#c1c1c1" />
<rect x="349.40" y="185.10" width="5.80" height="5.50" fill="#c1c1c1" />
<rect x="357.08" y="185.10" width="5.80" height="5.50" fill="#c1c1c1" />
<rect x="364.76" y="185.10" width="5.80" height="5.50" fill="#c1c1c1" />
<rect x="372.44" y="185.10" width="5.80" height="5.50" fill="#c1c1c1" />
<rect x="380.12" y="185.10" width="5.80" height="5.50" fill="#c1c1c1" />
<rect x="387.80" y="185.10" width="5.80" height="5.50" fill="#c1c1c1" />
<rect x="395.48" y="185.10" width="5.80" height="5.50" fill="#c1c1c1" />
<rect x="403.16" y="185.10" width="5.80" height="5.50" fill="#c1c1c1" />
<rect x="410.84" y="185.10" width="5.80" height="5.50" fill="#c1c1c1" />
<rect x="418.52" y="185.10" width="5.80" height="5.50" fill="#c1c1c1" />
<rect x="426.20" y="185.10" width="5.80" height="5.50" fill="#c1c1c1" />
<rect x="433.88" y="185.10" width="5.80" height="5.50" fill="#662d91" />
<rect x="441.56" y="185.10" width="5.80" height="5.50" fill="#c1c1c1" />
<rect x="449.24" y="185.10" width="5.80" height="5.50" fill="#c1c1c1" />
<rect x="456.92" y="185.10" width="5.80" height="5.50" fill="#c1c1c1" />
<rect x="466.90" y="185.10" width="4.60" height="5.50" fill="#c1c1c1" />
<rect x="472.65" y="185.10" width="4.60" height="5.50" fill="#c1c1c1" />
<rect x="478.40" y="185.10" width="4.60" height="5.50" fill="#c1c1c1" />
<rect x="484.15" y="185.10" width="4.60" height="5.50" fill="#c1c1c1" />
<rect x="489.90" y="185.10" width="4.60" height="5.50" fill="#000" />
<rect x="495.65" y="185.10" width="4.60" height="5.50" fill="#c1c1c1" />
<text x="287.01" y="196.70" font-size="7.0" fill="#222" font-style="italic"  stroke="#222" stroke-width="0.14" textLength="21.12" lengthAdjust="spacingAndGlyphs">BRCA1</text>
<rect x="311.00" y="192.20" width="5.80" height="5.50" fill="#c1c1c1" />
<rect x="318.68" y="192.20" width="5.80" height="5.50" fill="#c1c1c1" />
<rect x="326.36" y="192.20" width="5.80" height="5.50" fill="#c1c1c1" />
<rect x="334.04" y="192.20" width="5.80" height="5.50" fill="#c1c1c1" />
<rect x="341.72" y="192.20" width="5.80" height="5.50" fill="#c1c1c1" />
<rect x="349.40" y="192.20" width="5.80" height="5.50" fill="#c1c1c1" />
<rect x="357.08" y="192.20" width="5.80" height="5.50" fill="#c1c1c1" />
<rect x="364.76" y="192.20" width="5.80" height="5.50" fill="#c1c1c1" />
<rect x="372.44" y="192.20" width="5.80" height="5.50" fill="#c1c1c1" />
<rect x="380.12" y="192.20" width="5.80" height="5.50" fill="#c1c1c1" />
<rect x="387.80" y="192.20" width="5.80" height="5.50" fill="#c1c1c1" />
<rect x="395.48" y="192.20" width="5.80" height="5.50" fill="#c1c1c1" />
<rect x="403.16" y="192.20" width="5.80" height="5.50" fill="#c1c1c1" />
<rect x="410.84" y="192.20" width="5.80" height="5.50" fill="#c1c1c1" />
<rect x="418.52" y="192.20" width="5.80" height="5.50" fill="#29abe2" />
<rect x="426.20" y="192.20" width="5.80" height="5.50" fill="#c1c1c1" />
<rect x="433.88" y="192.20" width="5.80" height="5.50" fill="#c1c1c1" />
<rect x="441.56" y="192.20" width="5.80" height="5.50" fill="#c1c1c1" />
<rect x="449.24" y="192.20" width="5.80" height="5.50" fill="#c1c1c1" />
<rect x="456.92" y="192.20" width="5.80" height="5.50" fill="#c1c1c1" />
<rect x="466.90" y="192.20" width="4.60" height="5.50" fill="#000" />
<rect x="472.65" y="192.20" width="4.60" height="5.50" fill="#c1c1c1" />
<rect x="478.40" y="192.20" width="4.60" height="5.50" fill="#c1c1c1" />
<rect x="484.15" y="192.20" width="4.60" height="5.50" fill="#c1c1c1" />
<rect x="489.90" y="192.20" width="4.60" height="5.50" fill="#000" />
<rect x="495.65" y="192.20" width="4.60" height="5.50" fill="#c1c1c1" />
<text x="287.20" y="203.80" font-size="7.0" fill="#222" font-style="italic"  stroke="#222" stroke-width="0.14" textLength="20.42" lengthAdjust="spacingAndGlyphs">RAD50</text>
<rect x="311.00" y="199.30" width="5.80" height="5.50" fill="#c1c1c1" />
<rect x="318.68" y="199.30" width="5.80" height="5.50" fill="#c1c1c1" />
<rect x="326.36" y="199.30" width="5.80" height="5.50" fill="#c1c1c1" />
<rect x="334.04" y="199.30" width="5.80" height="5.50" fill="#c1c1c1" />
<rect x="341.72" y="199.30" width="5.80" height="5.50" fill="#c1c1c1" />
<rect x="349.40" y="199.30" width="5.80" height="5.50" fill="#c1c1c1" />
<rect x="357.08" y="199.30" width="5.80" height="5.50" fill="#c1c1c1" />
<rect x="364.76" y="199.30" width="5.80" height="5.50" fill="#c1c1c1" />
<rect x="372.44" y="199.30" width="5.80" height="5.50" fill="#c1c1c1" />
<rect x="380.12" y="199.30" width="5.80" height="5.50" fill="#c1c1c1" />
<rect x="387.80" y="199.30" width="5.80" height="5.50" fill="#c1c1c1" />
<rect x="395.48" y="199.30" width="5.80" height="5.50" fill="#c1c1c1" />
<rect x="403.16" y="199.30" width="5.80" height="5.50" fill="#c1c1c1" />
<rect x="410.84" y="199.30" width="5.80" height="5.50" fill="#c1c1c1" />
<rect x="418.52" y="199.30" width="5.80" height="5.50" fill="#29abe2" />
<rect x="426.20" y="199.30" width="5.80" height="5.50" fill="#c1c1c1" />
<rect x="433.88" y="199.30" width="5.80" height="5.50" fill="#c1c1c1" />
<rect x="441.56" y="199.30" width="5.80" height="5.50" fill="#c1c1c1" />
<rect x="449.24" y="199.30" width="5.80" height="5.50" fill="#c1c1c1" />
<rect x="456.92" y="199.30" width="5.80" height="5.50" fill="#c1c1c1" />
<rect x="466.90" y="199.30" width="4.60" height="5.50" fill="#000" />
<rect x="472.65" y="199.30" width="4.60" height="5.50" fill="#c1c1c1" />
<rect x="478.40" y="199.30" width="4.60" height="5.50" fill="#c1c1c1" />
<rect x="484.15" y="199.30" width="4.60" height="5.50" fill="#c1c1c1" />
<rect x="489.90" y="199.30" width="4.60" height="5.50" fill="#000" />
<rect x="495.65" y="199.30" width="4.60" height="5.50" fill="#000" />
<text x="281.02" y="210.90" font-size="7.0" fill="#222" font-style="italic"  stroke="#222" stroke-width="0.14" textLength="27.12" lengthAdjust="spacingAndGlyphs">TP53BP1</text>
<rect x="311.00" y="206.40" width="5.80" height="5.50" fill="#c1c1c1" />
<rect x="318.68" y="206.40" width="5.80" height="5.50" fill="#c1c1c1" />
<rect x="326.36" y="206.40" width="5.80" height="5.50" fill="#c1c1c1" />
<rect x="334.04" y="206.40" width="5.80" height="5.50" fill="#c1c1c1" />
<rect x="341.72" y="206.40" width="5.80" height="5.50" fill="#c1c1c1" />
<rect x="349.40" y="206.40" width="5.80" height="5.50" fill="#c1c1c1" />
<rect x="357.08" y="206.40" width="5.80" height="5.50" fill="#c1c1c1" />
<rect x="364.76" y="206.40" width="5.80" height="5.50" fill="#c1c1c1" />
<rect x="372.44" y="206.40" width="5.80" height="5.50" fill="#c1c1c1" />
<rect x="380.12" y="206.40" width="5.80" height="5.50" fill="#c1c1c1" />
<rect x="387.80" y="206.40" width="5.80" height="5.50" fill="#c1c1c1" />
<rect x="395.48" y="206.40" width="5.80" height="5.50" fill="#c1c1c1" />
<rect x="403.16" y="206.40" width="5.80" height="5.50" fill="#c1c1c1" />
<rect x="410.84" y="206.40" width="5.80" height="5.50" fill="#c1c1c1" />
<rect x="418.52" y="206.40" width="5.80" height="5.50" fill="#ed1c24" />
<rect x="426.20" y="206.40" width="5.80" height="5.50" fill="#c1c1c1" />
<rect x="433.88" y="206.40" width="5.80" height="5.50" fill="#c1c1c1" />
<rect x="441.56" y="206.40" width="5.80" height="5.50" fill="#c1c1c1" />
<rect x="449.24" y="206.40" width="5.80" height="5.50" fill="#c1c1c1" />
<rect x="456.92" y="206.40" width="5.80" height="5.50" fill="#c1c1c1" />
<rect x="466.90" y="206.40" width="4.60" height="5.50" fill="#000" />
<rect x="472.65" y="206.40" width="4.60" height="5.50" fill="#c1c1c1" />
<rect x="478.40" y="206.40" width="4.60" height="5.50" fill="#c1c1c1" />
<rect x="484.15" y="206.40" width="4.60" height="5.50" fill="#c1c1c1" />
<rect x="489.90" y="206.40" width="4.60" height="5.50" fill="#c1c1c1" />
<rect x="495.65" y="206.40" width="4.60" height="5.50" fill="#c1c1c1" />
<text x="286.44" y="218.00" font-size="7.0" fill="#222" font-style="italic"  stroke="#222" stroke-width="0.14" textLength="21.72" lengthAdjust="spacingAndGlyphs">PAXIP1</text>
<rect x="311.00" y="213.50" width="5.80" height="5.50" fill="#c1c1c1" />
<rect x="318.68" y="213.50" width="5.80" height="5.50" fill="#c1c1c1" />
<rect x="326.36" y="213.50" width="5.80" height="5.50" fill="#c1c1c1" />
<rect x="334.04" y="213.50" width="5.80" height="5.50" fill="#c1c1c1" />
<rect x="341.72" y="213.50" width="5.80" height="5.50" fill="#c1c1c1" />
<rect x="349.40" y="213.50" width="5.80" height="5.50" fill="#c1c1c1" />
<rect x="357.08" y="213.50" width="5.80" height="5.50" fill="#c1c1c1" />
<rect x="364.76" y="213.50" width="5.80" height="5.50" fill="#c1c1c1" />
<rect x="372.44" y="213.50" width="5.80" height="5.50" fill="#29abe2" />
<rect x="380.12" y="213.50" width="5.80" height="5.50" fill="#c1c1c1" />
<rect x="387.80" y="213.50" width="5.80" height="5.50" fill="#c1c1c1" />
<rect x="395.48" y="213.50" width="5.80" height="5.50" fill="#c1c1c1" />
<rect x="403.16" y="213.50" width="5.80" height="5.50" fill="#c1c1c1" />
<rect x="410.84" y="213.50" width="5.80" height="5.50" fill="#c1c1c1" />
<rect x="418.52" y="213.50" width="5.80" height="5.50" fill="#c1c1c1" />
<rect x="426.20" y="213.50" width="5.80" height="5.50" fill="#c1c1c1" />
<rect x="433.88" y="213.50" width="5.80" height="5.50" fill="#c1c1c1" />
<rect x="441.56" y="213.50" width="5.80" height="5.50" fill="#c1c1c1" />
<rect x="449.24" y="213.50" width="5.80" height="5.50" fill="#c1c1c1" />
<rect x="456.92" y="213.50" width="5.80" height="5.50" fill="#c1c1c1" />
<rect x="466.90" y="213.50" width="4.60" height="5.50" fill="#000" />
<rect x="472.65" y="213.50" width="4.60" height="5.50" fill="#c1c1c1" />
<rect x="478.40" y="213.50" width="4.60" height="5.50" fill="#c1c1c1" />
<rect x="484.15" y="213.50" width="4.60" height="5.50" fill="#c1c1c1" />
<rect x="489.90" y="213.50" width="4.60" height="5.50" fill="#c1c1c1" />
<rect x="495.65" y="213.50" width="4.60" height="5.50" fill="#c1c1c1" />
<text x="287.71" y="225.10" font-size="7.0" fill="#222" font-style="italic"  stroke="#222" stroke-width="0.14" textLength="20.42" lengthAdjust="spacingAndGlyphs">RAD51</text>
<rect x="311.00" y="220.60" width="5.80" height="5.50" fill="#c1c1c1" />
<rect x="318.68" y="220.60" width="5.80" height="5.50" fill="#c1c1c1" />
<rect x="326.36" y="220.60" width="5.80" height="5.50" fill="#c1c1c1" />
<rect x="334.04" y="220.60" width="5.80" height="5.50" fill="#c1c1c1" />
<rect x="341.72" y="220.60" width="5.80" height="5.50" fill="#c1c1c1" />
<rect x="349.40" y="220.60" width="5.80" height="5.50" fill="#c1c1c1" />
<rect x="357.08" y="220.60" width="5.80" height="5.50" fill="#c1c1c1" />
<rect x="364.76" y="220.60" width="5.80" height="5.50" fill="#c1c1c1" />
<rect x="372.44" y="220.60" width="5.80" height="5.50" fill="#c1c1c1" />
<rect x="380.12" y="220.60" width="5.80" height="5.50" fill="#c1c1c1" />
<rect x="387.80" y="220.60" width="5.80" height="5.50" fill="#c1c1c1" />
<rect x="395.48" y="220.60" width="5.80" height="5.50" fill="#c1c1c1" />
<rect x="403.16" y="220.60" width="5.80" height="5.50" fill="#c1c1c1" />
<rect x="410.84" y="220.60" width="5.80" height="5.50" fill="#c1c1c1" />
<rect x="418.52" y="220.60" width="5.80" height="5.50" fill="#c1c1c1" />
<rect x="426.20" y="220.60" width="5.80" height="5.50" fill="#c1c1c1" />
<rect x="433.88" y="220.60" width="5.80" height="5.50" fill="#29abe2" />
<rect x="441.56" y="220.60" width="5.80" height="5.50" fill="#c1c1c1" />
<rect x="449.24" y="220.60" width="5.80" height="5.50" fill="#c1c1c1" />
<rect x="456.92" y="220.60" width="5.80" height="5.50" fill="#c1c1c1" />
<rect x="466.90" y="220.60" width="4.60" height="5.50" fill="#c1c1c1" />
<rect x="472.65" y="220.60" width="4.60" height="5.50" fill="#c1c1c1" />
<rect x="478.40" y="220.60" width="4.60" height="5.50" fill="#c1c1c1" />
<rect x="484.15" y="220.60" width="4.60" height="5.50" fill="#c1c1c1" />
<rect x="489.90" y="220.60" width="4.60" height="5.50" fill="#000" />
<rect x="495.65" y="220.60" width="4.60" height="5.50" fill="#c1c1c1" />
<text x="288.09" y="232.20" font-size="7.0" fill="#222" font-style="italic"  stroke="#222" stroke-width="0.14" textLength="20.07" lengthAdjust="spacingAndGlyphs">NHEJ1</text>
<rect x="311.00" y="227.70" width="5.80" height="5.50" fill="#c1c1c1" />
<rect x="318.68" y="227.70" width="5.80" height="5.50" fill="#c1c1c1" />
<rect x="326.36" y="227.70" width="5.80" height="5.50" fill="#c1c1c1" />
<rect x="334.04" y="227.70" width="5.80" height="5.50" fill="#c1c1c1" />
<rect x="341.72" y="227.70" width="5.80" height="5.50" fill="#c1c1c1" />
<rect x="349.40" y="227.70" width="5.80" height="5.50" fill="#c1c1c1" />
<rect x="357.08" y="227.70" width="5.80" height="5.50" fill="#c1c1c1" />
<rect x="364.76" y="227.70" width="5.80" height="5.50" fill="#c1c1c1" />
<rect x="372.44" y="227.70" width="5.80" height="5.50" fill="#c1c1c1" />
<rect x="380.12" y="227.70" width="5.80" height="5.50" fill="#c1c1c1" />
<rect x="387.80" y="227.70" width="5.80" height="5.50" fill="#662d91" />
<rect x="395.48" y="227.70" width="5.80" height="5.50" fill="#c1c1c1" />
<rect x="403.16" y="227.70" width="5.80" height="5.50" fill="#c1c1c1" />
<rect x="410.84" y="227.70" width="5.80" height="5.50" fill="#c1c1c1" />
<rect x="418.52" y="227.70" width="5.80" height="5.50" fill="#c1c1c1" />
<rect x="426.20" y="227.70" width="5.80" height="5.50" fill="#c1c1c1" />
<rect x="433.88" y="227.70" width="5.80" height="5.50" fill="#c1c1c1" />
<rect x="441.56" y="227.70" width="5.80" height="5.50" fill="#c1c1c1" />
<rect x="449.24" y="227.70" width="5.80" height="5.50" fill="#c1c1c1" />
<rect x="456.92" y="227.70" width="5.80" height="5.50" fill="#c1c1c1" />
<rect x="466.90" y="227.70" width="4.60" height="5.50" fill="#c1c1c1" />
<rect x="472.65" y="227.70" width="4.60" height="5.50" fill="#c1c1c1" />
<rect x="478.40" y="227.70" width="4.60" height="5.50" fill="#c1c1c1" />
<rect x="484.15" y="227.70" width="4.60" height="5.50" fill="#c1c1c1" />
<rect x="489.90" y="227.70" width="4.60" height="5.50" fill="#c1c1c1" />
<rect x="495.65" y="227.70" width="4.60" height="5.50" fill="#000" />
<text x="286.09" y="239.30" font-size="7.0" fill="#222" font-style="italic"  stroke="#222" stroke-width="0.14" textLength="21.47" lengthAdjust="spacingAndGlyphs">XRCC5</text>
<rect x="311.00" y="234.80" width="5.80" height="5.50" fill="#c1c1c1" />
<rect x="318.68" y="234.80" width="5.80" height="5.50" fill="#c1c1c1" />
<rect x="326.36" y="234.80" width="5.80" height="5.50" fill="#c1c1c1" />
<rect x="334.04" y="234.80" width="5.80" height="5.50" fill="#c1c1c1" />
<rect x="341.72" y="234.80" width="5.80" height="5.50" fill="#c1c1c1" />
<rect x="349.40" y="234.80" width="5.80" height="5.50" fill="#c1c1c1" />
<rect x="357.08" y="234.80" width="5.80" height="5.50" fill="#c1c1c1" />
<rect x="364.76" y="234.80" width="5.80" height="5.50" fill="#c1c1c1" />
<rect x="372.44" y="234.80" width="5.80" height="5.50" fill="#c1c1c1" />
<rect x="380.12" y="234.80" width="5.80" height="5.50" fill="#c1c1c1" />
<rect x="387.80" y="234.80" width="5.80" height="5.50" fill="#c1c1c1" />
<rect x="395.48" y="234.80" width="5.80" height="5.50" fill="#c1c1c1" />
<rect x="403.16" y="234.80" width="5.80" height="5.50" fill="#c1c1c1" />
<rect x="410.84" y="234.80" width="5.80" height="5.50" fill="#c1c1c1" />
<rect x="418.52" y="234.80" width="5.80" height="5.50" fill="#c1c1c1" />
<rect x="426.20" y="234.80" width="5.80" height="5.50" fill="#c1c1c1" />
<rect x="433.88" y="234.80" width="5.80" height="5.50" fill="#662d91" />
<rect x="441.56" y="234.80" width="5.80" height="5.50" fill="#c1c1c1" />
<rect x="449.24" y="234.80" width="5.80" height="5.50" fill="#c1c1c1" />
<rect x="456.92" y="234.80" width="5.80" height="5.50" fill="#c1c1c1" />
<rect x="466.90" y="234.80" width="4.60" height="5.50" fill="#c1c1c1" />
<rect x="472.65" y="234.80" width="4.60" height="5.50" fill="#c1c1c1" />
<rect x="478.40" y="234.80" width="4.60" height="5.50" fill="#c1c1c1" />
<rect x="484.15" y="234.80" width="4.60" height="5.50" fill="#c1c1c1" />
<rect x="489.90" y="234.80" width="4.60" height="5.50" fill="#c1c1c1" />
<rect x="495.65" y="234.80" width="4.60" height="5.50" fill="#000" />
<text x="286.12" y="246.40" font-size="7.0" fill="#222" font-style="italic"  stroke="#222" stroke-width="0.14" textLength="21.47" lengthAdjust="spacingAndGlyphs">XRCC6</text>
<rect x="311.00" y="241.90" width="5.80" height="5.50" fill="#c1c1c1" />
<rect x="318.68" y="241.90" width="5.80" height="5.50" fill="#c1c1c1" />
<rect x="326.36" y="241.90" width="5.80" height="5.50" fill="#c1c1c1" />
<rect x="334.04" y="241.90" width="5.80" height="5.50" fill="#c1c1c1" />
<rect x="341.72" y="241.90" width="5.80" height="5.50" fill="#c1c1c1" />
<rect x="349.40" y="241.90" width="5.80" height="5.50" fill="#c1c1c1" />
<rect x="357.08" y="241.90" width="5.80" height="5.50" fill="#c1c1c1" />
<rect x="364.76" y="241.90" width="5.80" height="5.50" fill="#c1c1c1" />
<rect x="372.44" y="241.90" width="5.80" height="5.50" fill="#c1c1c1" />
<rect x="380.12" y="241.90" width="5.80" height="5.50" fill="#c1c1c1" />
<rect x="387.80" y="241.90" width="5.80" height="5.50" fill="#c1c1c1" />
<rect x="395.48" y="241.90" width="5.80" height="5.50" fill="#c1c1c1" />
<rect x="403.16" y="241.90" width="5.80" height="5.50" fill="#c1c1c1" />
<rect x="410.84" y="241.90" width="5.80" height="5.50" fill="#c1c1c1" />
<rect x="418.52" y="241.90" width="5.80" height="5.50" fill="#c1c1c1" />
<rect x="426.20" y="241.90" width="5.80" height="5.50" fill="#c1c1c1" />
<rect x="433.88" y="241.90" width="5.80" height="5.50" fill="#29abe2" />
<rect x="441.56" y="241.90" width="5.80" height="5.50" fill="#c1c1c1" />
<rect x="449.24" y="241.90" width="5.80" height="5.50" fill="#c1c1c1" />
<rect x="456.92" y="241.90" width="5.80" height="5.50" fill="#c1c1c1" />
<rect x="466.90" y="241.90" width="4.60" height="5.50" fill="#c1c1c1" />
<rect x="472.65" y="241.90" width="4.60" height="5.50" fill="#c1c1c1" />
<rect x="478.40" y="241.90" width="4.60" height="5.50" fill="#c1c1c1" />
<rect x="484.15" y="241.90" width="4.60" height="5.50" fill="#c1c1c1" />
<rect x="489.90" y="241.90" width="4.60" height="5.50" fill="#c1c1c1" />
<rect x="495.65" y="241.90" width="4.60" height="5.50" fill="#000" />
<text x="294.11" y="256.00" font-size="7.0" fill="#222" font-style="italic"  stroke="#222" stroke-width="0.14" textLength="13.73" lengthAdjust="spacingAndGlyphs">LIG4</text>
<rect x="311.00" y="251.50" width="5.80" height="5.50" fill="#c1c1c1" />
<rect x="318.68" y="251.50" width="5.80" height="5.50" fill="#c1c1c1" />
<rect x="326.36" y="251.50" width="5.80" height="5.50" fill="#c1c1c1" />
<rect x="334.04" y="251.50" width="5.80" height="5.50" fill="#c1c1c1" />
<rect x="341.72" y="251.50" width="5.80" height="5.50" fill="#c1c1c1" />
<rect x="349.40" y="251.50" width="5.80" height="5.50" fill="#c1c1c1" />
<rect x="357.08" y="251.50" width="5.80" height="5.50" fill="#c1c1c1" />
<rect x="364.76" y="251.50" width="5.80" height="5.50" fill="#c1c1c1" />
<rect x="372.44" y="251.50" width="5.80" height="5.50" fill="#c1c1c1" />
<rect x="380.12" y="251.50" width="5.80" height="5.50" fill="#c1c1c1" />
<rect x="387.80" y="251.50" width="5.80" height="5.50" fill="#c1c1c1" />
<rect x="395.48" y="251.50" width="5.80" height="5.50" fill="#c1c1c1" />
<rect x="403.16" y="251.50" width="5.80" height="5.50" fill="#c1c1c1" />
<rect x="410.84" y="251.50" width="5.80" height="5.50" fill="#c1c1c1" />
<rect x="418.52" y="251.50" width="5.80" height="5.50" fill="#c1c1c1" />
<rect x="426.20" y="251.50" width="5.80" height="5.50" fill="#c1c1c1" />
<rect x="433.88" y="251.50" width="5.80" height="5.50" fill="#c1c1c1" />
<rect x="441.56" y="251.50" width="5.80" height="5.50" fill="#c1c1c1" />
<rect x="449.24" y="251.50" width="5.80" height="5.50" fill="#6dd3f5" />
<text x="452.14" y="256.10" font-size="5.2" fill="#fff" stroke="#fff" stroke-width="0.14" font-weight="bold" text-anchor="middle">B</text>
<rect x="456.92" y="251.50" width="5.80" height="5.50" fill="#c1c1c1" />
<rect x="466.90" y="251.50" width="4.60" height="5.50" fill="#c1c1c1" />
<rect x="472.65" y="251.50" width="4.60" height="5.50" fill="#c1c1c1" />
<rect x="478.40" y="251.50" width="4.60" height="5.50" fill="#c1c1c1" />
<rect x="484.15" y="251.50" width="4.60" height="5.50" fill="#c1c1c1" />
<rect x="489.90" y="251.50" width="4.60" height="5.50" fill="#c1c1c1" />
<rect x="495.65" y="251.50" width="4.60" height="5.50" fill="#000" />
<text x="294.20" y="263.10" font-size="7.0" fill="#222" font-style="italic"  stroke="#222" stroke-width="0.14" textLength="13.38" lengthAdjust="spacingAndGlyphs">NBN</text>
<rect x="311.00" y="258.60" width="5.80" height="5.50" fill="#c1c1c1" />
<rect x="318.68" y="258.60" width="5.80" height="5.50" fill="#c1c1c1" />
<rect x="326.36" y="258.60" width="5.80" height="5.50" fill="#c1c1c1" />
<rect x="334.04" y="258.60" width="5.80" height="5.50" fill="#c1c1c1" />
<rect x="341.72" y="258.60" width="5.80" height="5.50" fill="#c1c1c1" />
<rect x="349.40" y="258.60" width="5.80" height="5.50" fill="#c1c1c1" />
<rect x="357.08" y="258.60" width="5.80" height="5.50" fill="#c1c1c1" />
<rect x="364.76" y="258.60" width="5.80" height="5.50" fill="#c1c1c1" />
<rect x="372.44" y="258.60" width="5.80" height="5.50" fill="#fbb516" />
<text x="375.34" y="263.20" font-size="5.2" fill="#fff" stroke="#fff" stroke-width="0.14" font-weight="bold" text-anchor="middle">P</text>
<rect x="380.12" y="258.60" width="5.80" height="5.50" fill="#fbb516" />
<text x="383.02" y="263.20" font-size="5.2" fill="#fff" stroke="#fff" stroke-width="0.14" font-weight="bold" text-anchor="middle">P</text>
<rect x="387.80" y="258.60" width="5.80" height="5.50" fill="#c1c1c1" />
<rect x="395.48" y="258.60" width="5.80" height="5.50" fill="#c1c1c1" />
<rect x="403.16" y="258.60" width="5.80" height="5.50" fill="#c1c1c1" />
<rect x="410.84" y="258.60" width="5.80" height="5.50" fill="#c1c1c1" />
<rect x="418.52" y="258.60" width="5.80" height="5.50" fill="#c1c1c1" />
<rect x="426.20" y="258.60" width="5.80" height="5.50" fill="#c1c1c1" />
<rect x="433.88" y="258.60" width="5.80" height="5.50" fill="#c1c1c1" />
<rect x="441.56" y="258.60" width="5.80" height="5.50" fill="#c1c1c1" />
<rect x="449.24" y="258.60" width="5.80" height="5.50" fill="#c1c1c1" />
<rect x="456.92" y="258.60" width="5.80" height="5.50" fill="#fbb516" />
<text x="459.82" y="263.20" font-size="5.2" fill="#fff" stroke="#fff" stroke-width="0.14" font-weight="bold" text-anchor="middle">P</text>
<rect x="466.90" y="258.60" width="4.60" height="5.50" fill="#000" />
<rect x="472.65" y="258.60" width="4.60" height="5.50" fill="#c1c1c1" />
<rect x="478.40" y="258.60" width="4.60" height="5.50" fill="#c1c1c1" />
<rect x="484.15" y="258.60" width="4.60" height="5.50" fill="#c1c1c1" />
<rect x="489.90" y="258.60" width="4.60" height="5.50" fill="#000" />
<rect x="495.65" y="258.60" width="4.60" height="5.50" fill="#c1c1c1" />
<text x="294.55" y="270.20" font-size="7.0" fill="#222" font-style="italic"  stroke="#222" stroke-width="0.14" textLength="13.03" lengthAdjust="spacingAndGlyphs">BLM</text>
<rect x="311.00" y="265.70" width="5.80" height="5.50" fill="#c1c1c1" />
<rect x="318.68" y="265.70" width="5.80" height="5.50" fill="#c1c1c1" />
<rect x="326.36" y="265.70" width="5.80" height="5.50" fill="#c1c1c1" />
<rect x="334.04" y="265.70" width="5.80" height="5.50" fill="#c1c1c1" />
<rect x="341.72" y="265.70" width="5.80" height="5.50" fill="#c1c1c1" />
<rect x="349.40" y="265.70" width="5.80" height="5.50" fill="#c1c1c1" />
<rect x="357.08" y="265.70" width="5.80" height="5.50" fill="#c1c1c1" />
<rect x="364.76" y="265.70" width="5.80" height="5.50" fill="#c1c1c1" />
<rect x="372.44" y="265.70" width="5.80" height="5.50" fill="#c1c1c1" />
<rect x="380.12" y="265.70" width="5.80" height="5.50" fill="#c1c1c1" />
<rect x="387.80" y="265.70" width="5.80" height="5.50" fill="#c1c1c1" />
<rect x="395.48" y="265.70" width="5.80" height="5.50" fill="#c1c1c1" />
<rect x="403.16" y="265.70" width="5.80" height="5.50" fill="#c1c1c1" />
<rect x="410.84" y="265.70" width="5.80" height="5.50" fill="#c1c1c1" />
<rect x="418.52" y="265.70" width="5.80" height="5.50" fill="#c1c1c1" />
<rect x="426.20" y="265.70" width="5.80" height="5.50" fill="#c1c1c1" />
<rect x="433.88" y="265.70" width="5.80" height="5.50" fill="#c1c1c1" />
<rect x="441.56" y="265.70" width="5.80" height="5.50" fill="#ed1c24" />
<text x="444.46" y="270.30" font-size="5.2" fill="#fff" stroke="#fff" stroke-width="0.14" font-weight="bold" text-anchor="middle">P</text>
<rect x="449.24" y="265.70" width="5.80" height="5.50" fill="#c1c1c1" />
<rect x="456.92" y="265.70" width="5.80" height="5.50" fill="#c1c1c1" />
<rect x="466.90" y="265.70" width="4.60" height="5.50" fill="#c1c1c1" />
<rect x="472.65" y="265.70" width="4.60" height="5.50" fill="#c1c1c1" />
<rect x="478.40" y="265.70" width="4.60" height="5.50" fill="#c1c1c1" />
<rect x="484.15" y="265.70" width="4.60" height="5.50" fill="#c1c1c1" />
<rect x="489.90" y="265.70" width="4.60" height="5.50" fill="#000" />
<rect x="495.65" y="265.70" width="4.60" height="5.50" fill="#c1c1c1" />
<text x="286.57" y="277.30" font-size="7.0" fill="#222" font-style="italic"  stroke="#222" stroke-width="0.14" textLength="21.12" lengthAdjust="spacingAndGlyphs">BRCA2</text>
<rect x="311.00" y="272.80" width="5.80" height="5.50" fill="#c1c1c1" />
<rect x="318.68" y="272.80" width="5.80" height="5.50" fill="#c1c1c1" />
<rect x="326.36" y="272.80" width="5.80" height="5.50" fill="#c1c1c1" />
<rect x="334.04" y="272.80" width="5.80" height="5.50" fill="#c1c1c1" />
<rect x="341.72" y="272.80" width="5.80" height="5.50" fill="#c1c1c1" />
<rect x="349.40" y="272.80" width="5.80" height="5.50" fill="#fbb516" />
<text x="352.30" y="277.40" font-size="5.2" fill="#fff" stroke="#fff" stroke-width="0.14" font-weight="bold" text-anchor="middle">P</text>
<rect x="357.08" y="272.80" width="5.80" height="5.50" fill="#c1c1c1" />
<rect x="364.76" y="272.80" width="5.80" height="5.50" fill="#c1c1c1" />
<rect x="372.44" y="272.80" width="5.80" height="5.50" fill="#c1c1c1" />
<rect x="380.12" y="272.80" width="5.80" height="5.50" fill="#c1c1c1" />
<rect x="387.80" y="272.80" width="5.80" height="5.50" fill="#c1c1c1" />
<rect x="395.48" y="272.80" width="5.80" height="5.50" fill="#c1c1c1" />
<rect x="403.16" y="272.80" width="5.80" height="5.50" fill="#c1c1c1" />
<rect x="410.84" y="272.80" width="5.80" height="5.50" fill="#c1c1c1" />
<rect x="418.52" y="272.80" width="5.80" height="5.50" fill="#c1c1c1" />
<rect x="426.20" y="272.80" width="5.80" height="5.50" fill="#c1c1c1" />
<rect x="433.88" y="272.80" width="5.80" height="5.50" fill="#c1c1c1" />
<rect x="441.56" y="272.80" width="5.80" height="5.50" fill="#c1c1c1" />
<rect x="449.24" y="272.80" width="5.80" height="5.50" fill="#c1c1c1" />
<rect x="456.92" y="272.80" width="5.80" height="5.50" fill="#c1c1c1" />
<rect x="466.90" y="272.80" width="4.60" height="5.50" fill="#c1c1c1" />
<rect x="472.65" y="272.80" width="4.60" height="5.50" fill="#c1c1c1" />
<rect x="478.40" y="272.80" width="4.60" height="5.50" fill="#c1c1c1" />
<rect x="484.15" y="272.80" width="4.60" height="5.50" fill="#c1c1c1" />
<rect x="489.90" y="272.80" width="4.60" height="5.50" fill="#000" />
<rect x="495.65" y="272.80" width="4.60" height="5.50" fill="#c1c1c1" />
<text x="295.60" y="284.40" font-size="7.0" fill="#222" font-style="italic"  stroke="#222" stroke-width="0.14" textLength="12.20" lengthAdjust="spacingAndGlyphs">ATR</text>
<rect x="311.00" y="279.90" width="5.80" height="5.50" fill="#c1c1c1" />
<rect x="318.68" y="279.90" width="5.80" height="5.50" fill="#c1c1c1" />
<rect x="326.36" y="279.90" width="5.80" height="5.50" fill="#c1c1c1" />
<rect x="334.04" y="279.90" width="5.80" height="5.50" fill="#c1c1c1" />
<rect x="341.72" y="279.90" width="5.80" height="5.50" fill="#c1c1c1" />
<rect x="349.40" y="279.90" width="5.80" height="5.50" fill="#c1c1c1" />
<rect x="357.08" y="279.90" width="5.80" height="5.50" fill="#c1c1c1" />
<rect x="364.76" y="279.90" width="5.80" height="5.50" fill="#c1c1c1" />
<rect x="372.44" y="279.90" width="5.80" height="5.50" fill="#c1c1c1" />
<rect x="380.12" y="279.90" width="5.80" height="5.50" fill="#c1c1c1" />
<rect x="387.80" y="279.90" width="5.80" height="5.50" fill="#c1c1c1" />
<rect x="395.48" y="279.90" width="5.80" height="5.50" fill="#c1c1c1" />
<rect x="403.16" y="279.90" width="5.80" height="5.50" fill="#c1c1c1" />
<rect x="410.84" y="279.90" width="5.80" height="5.50" fill="#c1c1c1" />
<rect x="418.52" y="279.90" width="5.80" height="5.50" fill="#c1c1c1" />
<rect x="426.20" y="279.90" width="5.80" height="5.50" fill="#c1c1c1" />
<rect x="433.88" y="279.90" width="5.80" height="5.50" fill="#29abe2" />
<rect x="441.56" y="279.90" width="5.80" height="5.50" fill="#c1c1c1" />
<rect x="449.24" y="279.90" width="5.80" height="5.50" fill="#c1c1c1" />
<rect x="456.92" y="279.90" width="5.80" height="5.50" fill="#c1c1c1" />
<rect x="466.90" y="279.90" width="4.60" height="5.50" fill="#000" />
<rect x="472.65" y="279.90" width="4.60" height="5.50" fill="#c1c1c1" />
<rect x="478.40" y="279.90" width="4.60" height="5.50" fill="#c1c1c1" />
<rect x="484.15" y="279.90" width="4.60" height="5.50" fill="#c1c1c1" />
<rect x="489.90" y="279.90" width="4.60" height="5.50" fill="#c1c1c1" />
<rect x="495.65" y="279.90" width="4.60" height="5.50" fill="#c1c1c1" />
<text x="264.00" y="192.38" font-size="8.6" fill="#111" stroke="#111" stroke-width="0.27" textLength="22.65" lengthAdjust="spacingAndGlyphs" transform="rotate(-90 264.00 192.38)">Somatic</text>
<text x="275.30" y="195.63" font-size="8.6" fill="#111" stroke="#111" stroke-width="0.21" textLength="28.56" lengthAdjust="spacingAndGlyphs" transform="rotate(-90 275.30 195.63)">mutations</text>
<text x="264.00" y="281.72" font-size="8.6" fill="#111" stroke="#111" stroke-width="0.23" textLength="26.33" lengthAdjust="spacingAndGlyphs" transform="rotate(-90 264.00 281.72)">Germline</text>
<text x="275.30" y="282.53" font-size="8.6" fill="#111" stroke="#111" stroke-width="0.21" textLength="28.56" lengthAdjust="spacingAndGlyphs" transform="rotate(-90 275.30 282.53)">mutations</text>
<text x="315.90" y="305.90" font-size="6.3" fill="#222" stroke="#222" stroke-width="0.14" transform="rotate(-90 315.90 305.90)">PL11</text>
<text x="323.58" y="305.90" font-size="6.3" fill="#222" stroke="#222" stroke-width="0.14" transform="rotate(-90 323.58 305.90)">PL13P</text>
<text x="331.26" y="305.90" font-size="6.3" fill="#222" stroke="#222" stroke-width="0.14" transform="rotate(-90 331.26 305.90)">PL13R</text>
<text x="338.94" y="305.90" font-size="6.3" fill="#222" stroke="#222" stroke-width="0.14" transform="rotate(-90 338.94 305.90)">PL15S</text>
<text x="346.62" y="305.90" font-size="6.3" fill="#222" stroke="#222" stroke-width="0.14" transform="rotate(-90 346.62 305.90)">PL9</text>
<text x="354.30" y="305.90" font-size="6.3" fill="#222" stroke="#222" stroke-width="0.14" transform="rotate(-90 354.30 305.90)">PL18</text>
<text x="361.98" y="305.90" font-size="6.3" fill="#222" stroke="#222" stroke-width="0.14" transform="rotate(-90 361.98 305.90)">PL3</text>
<text x="369.66" y="305.90" font-size="6.3" fill="#222" stroke="#222" stroke-width="0.14" transform="rotate(-90 369.66 305.90)">PL6</text>
<text x="377.34" y="305.90" font-size="6.3" fill="#222" stroke="#222" stroke-width="0.14" transform="rotate(-90 377.34 305.90)">PL20</text>
<text x="385.02" y="305.90" font-size="6.3" fill="#222" stroke="#222" stroke-width="0.14" transform="rotate(-90 385.02 305.90)">PL19</text>
<text x="392.70" y="305.90" font-size="6.3" fill="#222" stroke="#222" stroke-width="0.14" transform="rotate(-90 392.70 305.90)">PL10</text>
<text x="400.38" y="305.90" font-size="6.3" fill="#222" stroke="#222" stroke-width="0.14" transform="rotate(-90 400.38 305.90)">PL15L</text>
<text x="408.06" y="305.90" font-size="6.3" fill="#222" stroke="#222" stroke-width="0.14" transform="rotate(-90 408.06 305.90)">PL2</text>
<text x="415.74" y="305.90" font-size="6.3" fill="#222" stroke="#222" stroke-width="0.14" transform="rotate(-90 415.74 305.90)">PL1</text>
<text x="423.42" y="305.90" font-size="6.3" fill="#222" stroke="#222" stroke-width="0.14" transform="rotate(-90 423.42 305.90)">PL17</text>
<text x="431.10" y="305.90" font-size="6.3" fill="#222" stroke="#222" stroke-width="0.14" transform="rotate(-90 431.10 305.90)">PL8</text>
<text x="438.78" y="305.90" font-size="6.3" fill="#222" stroke="#222" stroke-width="0.14" transform="rotate(-90 438.78 305.90)">PL4</text>
<text x="446.46" y="305.90" font-size="6.3" fill="#222" stroke="#222" stroke-width="0.14" transform="rotate(-90 446.46 305.90)">PL23</text>
<text x="454.14" y="305.90" font-size="6.3" fill="#222" stroke="#222" stroke-width="0.14" transform="rotate(-90 454.14 305.90)">PL22</text>
<text x="461.82" y="305.90" font-size="6.3" fill="#222" stroke="#222" stroke-width="0.14" transform="rotate(-90 461.82 305.90)">PL7</text>
<text x="472.72" y="297.80" font-size="6.7" fill="#222"  stroke="#222" stroke-width="0.14" textLength="26.20" lengthAdjust="spacingAndGlyphs">Mutations</text>
<text x="472.81" y="304.80" font-size="6.7" fill="#222"  stroke="#222" stroke-width="0.14" textLength="31.30" lengthAdjust="spacingAndGlyphs">in pathways</text>
<rect x="473.20" y="309.30" width="3.80" height="3.90" fill="#000" />
<text x="478.41" y="313.20" font-size="6.7" fill="#222"  stroke="#222" stroke-width="0.14" textLength="22.11" lengthAdjust="spacingAndGlyphs">Mutated</text>
<rect x="473.20" y="316.70" width="3.80" height="3.90" fill="#c1c1c1" />
<text x="478.42" y="320.50" font-size="6.7" fill="#222"  stroke="#222" stroke-width="0.14" textLength="34.88" lengthAdjust="spacingAndGlyphs">Non-mutated</text>
<text x="286.18" y="327.50" font-size="7.4" fill="#222"  stroke="#222" stroke-width="0.14" textLength="57.67" lengthAdjust="spacingAndGlyphs">Somatic mutations</text>
<rect x="286.30" y="331.60" width="3.80" height="3.90" fill="#29abe2" />
<text x="292.22" y="335.50" font-size="6.6" fill="#222"  stroke="#222" stroke-width="0.14" textLength="25.14" lengthAdjust="spacingAndGlyphs">Missense</text>
<rect x="325.30" y="331.60" width="3.80" height="3.90" fill="#ed1c24" />
<text x="331.43" y="335.50" font-size="6.6" fill="#222"  stroke="#222" stroke-width="0.14" textLength="23.50" lengthAdjust="spacingAndGlyphs">Stopgain</text>
<rect x="364.50" y="331.60" width="3.80" height="3.90" fill="#fbb516" />
<text x="370.42" y="335.50" font-size="6.6" fill="#222"  stroke="#222" stroke-width="0.14" textLength="28.11" lengthAdjust="spacingAndGlyphs">Frameshift</text>
<rect x="286.30" y="340.10" width="3.80" height="3.90" fill="#662d91" />
<text x="292.43" y="344.00" font-size="6.6" fill="#222"  stroke="#222" stroke-width="0.14" textLength="20.84" lengthAdjust="spacingAndGlyphs">Splicing</text>
<rect x="325.30" y="340.10" width="3.80" height="3.90" fill="#00a651" />
<text x="331.43" y="344.00" font-size="6.6" fill="#222"  stroke="#222" stroke-width="0.14" textLength="22.83" lengthAdjust="spacingAndGlyphs">Stoploss</text>
<rect x="364.50" y="340.10" width="3.80" height="3.90" fill="#8d7e42" />
<text x="370.42" y="344.00" font-size="6.6" fill="#222"  stroke="#222" stroke-width="0.14" textLength="37.05" lengthAdjust="spacingAndGlyphs">Nonframeshift</text>
<text x="414.90" y="327.00" font-size="6.8" fill="#222"  stroke="#222" stroke-width="0.14" textLength="48.30" lengthAdjust="spacingAndGlyphs">ClinVar annotation</text>
<text x="414.77" y="335.30" font-size="6.2" fill="#111" font-weight="bold"  stroke="#111" stroke-width="0.14" textLength="4.45" lengthAdjust="spacingAndGlyphs">P</text>
<text x="421.32" y="335.30" font-size="6.7" fill="#222"  stroke="#222" stroke-width="0.14" textLength="75.33" lengthAdjust="spacingAndGlyphs">Pathogenic/likely pathogenic</text>
<text x="414.80" y="343.10" font-size="6.2" fill="#111" font-weight="bold"  stroke="#111" stroke-width="0.14" textLength="4.50" lengthAdjust="spacingAndGlyphs">B</text>
<text x="421.32" y="343.10" font-size="6.7" fill="#222"  stroke="#222" stroke-width="0.14" textLength="53.07" lengthAdjust="spacingAndGlyphs">Benign/likely benign</text>
<text x="65.12" y="194.60" font-size="8.3" fill="#111"  stroke="#111" stroke-width="0.14" textLength="13.42" lengthAdjust="spacingAndGlyphs">ID2</text>
<text x="54.64" y="204.20" font-size="8.3" fill="#111"  stroke="#111" stroke-width="0.14" textLength="35.74" lengthAdjust="spacingAndGlyphs">MMR def.</text>
<text x="131.30" y="194.60" font-size="8.3" fill="#111"  stroke="#111" stroke-width="0.14" textLength="13.87" lengthAdjust="spacingAndGlyphs">ID6</text>
<text x="124.83" y="204.20" font-size="8.3" fill="#111"  stroke="#111" stroke-width="0.14" textLength="28.58" lengthAdjust="spacingAndGlyphs">HR def.</text>
<line x1="51.70" y1="212.00" x2="51.70" y2="308.20" stroke="#222" stroke-width="1" />
<line x1="48.50" y1="304.50" x2="51.70" y2="304.50" stroke="#222" stroke-width="0.9" />
<text x="34.26" y="307.00" font-size="7.0" fill="#222"  stroke="#222" stroke-width="0.14" textLength="12.24" lengthAdjust="spacingAndGlyphs">0%</text>
<line x1="48.50" y1="282.27" x2="51.70" y2="282.27" stroke="#222" stroke-width="0.9" />
<text x="29.77" y="284.77" font-size="7.0" fill="#222"  stroke="#222" stroke-width="0.14" textLength="16.73" lengthAdjust="spacingAndGlyphs">10%</text>
<line x1="48.50" y1="260.04" x2="51.70" y2="260.04" stroke="#222" stroke-width="0.9" />
<text x="29.99" y="262.54" font-size="7.0" fill="#222"  stroke="#222" stroke-width="0.14" textLength="16.51" lengthAdjust="spacingAndGlyphs">20%</text>
<line x1="48.50" y1="237.81" x2="51.70" y2="237.81" stroke="#222" stroke-width="0.9" />
<text x="30.07" y="240.31" font-size="7.0" fill="#222"  stroke="#222" stroke-width="0.14" textLength="16.43" lengthAdjust="spacingAndGlyphs">30%</text>
<line x1="48.50" y1="215.58" x2="51.70" y2="215.58" stroke="#222" stroke-width="0.9" />
<text x="30.24" y="218.08" font-size="7.0" fill="#222"  stroke="#222" stroke-width="0.14" textLength="16.26" lengthAdjust="spacingAndGlyphs">40%</text>
<line x1="51.20" y1="307.70" x2="159.00" y2="307.70" stroke="#222" stroke-width="1" />
<line x1="72.10" y1="307.70" x2="72.10" y2="310.80" stroke="#222" stroke-width="0.9" />
<line x1="138.60" y1="307.70" x2="138.60" y2="310.80" stroke="#222" stroke-width="0.9" />
<text x="22.60" y="309.48" font-size="8.8" fill="#222" stroke="#222" stroke-width="0.35" textLength="105.15" lengthAdjust="spacingAndGlyphs" transform="rotate(-90 22.60 309.48)">Percentages of sindels for each sample</text>
<rect x="61.50" y="294.50" width="21.50" height="10.00" fill="#86a7cb" />
<line x1="61.50" y1="304.50" x2="83.00" y2="304.50" stroke="#111" stroke-width="1.4" />
<line x1="67.00" y1="293.38" x2="76.00" y2="293.38" stroke="#333" stroke-width="1" />
<circle cx="75.5" cy="293.38" r="1.5" fill="#18508a"/>
<circle cx="72.5" cy="295.61" r="1.5" fill="#18508a"/>
<circle cx="68.3" cy="304.50" r="1.5" fill="#18508a"/>
<circle cx="72.1" cy="304.50" r="1.5" fill="#18508a"/>
<circle cx="76" cy="304.50" r="1.5" fill="#18508a"/>
<circle cx="79.8" cy="304.50" r="1.5" fill="#18508a"/>
<circle cx="72.1" cy="238.92" r="1.3" fill="#c8102e"/>
<text x="66.50" y="247.22" font-size="6.0" fill="#c8102e"  stroke="#c8102e" stroke-width="0.14" textLength="11.08" lengthAdjust="spacingAndGlyphs">PL4</text>
<rect x="127.90" y="279.80" width="21.70" height="22.50" fill="#86a7cb" />
<line x1="127.90" y1="295.80" x2="149.60" y2="295.80" stroke="#111" stroke-width="1.5" />
<line x1="133.30" y1="277.90" x2="144.80" y2="277.90" stroke="#333" stroke-width="1" />
<line x1="138.60" y1="277.90" x2="138.60" y2="279.80" stroke="#333" stroke-width="1" />
<line x1="133.30" y1="304.40" x2="144.80" y2="304.40" stroke="#333" stroke-width="1" />
<circle cx="138.6" cy="277.9" r="1.5" fill="#18508a"/>
<circle cx="138.6" cy="282.3" r="1.5" fill="#18508a"/>
<circle cx="138.6" cy="296" r="1.5" fill="#18508a"/>
<circle cx="140.2" cy="301" r="1.5" fill="#18508a"/>
<circle cx="138" cy="304.4" r="1.5" fill="#18508a"/>
<circle cx="142" cy="304.6" r="1.5" fill="#18508a"/>
<circle cx="138.9" cy="209.9" r="1.3" fill="#c8102e"/>
<text x="130.86" y="218.50" font-size="6.0" fill="#c8102e"  stroke="#c8102e" stroke-width="0.14" textLength="15.78" lengthAdjust="spacingAndGlyphs">PL17</text>
<text x="43.80" y="320.80" font-size="7.9" fill="#111"  stroke="#111" stroke-width="0.14" textLength="56.67" lengthAdjust="spacingAndGlyphs">Deletion of a T at</text>
<text x="48.19" y="329.60" font-size="7.9" fill="#111"  stroke="#111" stroke-width="0.14" textLength="47.55" lengthAdjust="spacingAndGlyphs">homopolymers</text>
<text x="53.78" y="338.40" font-size="7.9" fill="#111"  stroke="#111" stroke-width="0.14" textLength="37.52" lengthAdjust="spacingAndGlyphs">of 6+ units</text>
<text x="123.99" y="320.80" font-size="7.9" fill="#111"  stroke="#111" stroke-width="0.14" textLength="28.00" lengthAdjust="spacingAndGlyphs">Deletion</text>
<text x="119.48" y="329.60" font-size="7.9" fill="#111"  stroke="#111" stroke-width="0.14" textLength="37.59" lengthAdjust="spacingAndGlyphs">of 5+ bp at</text>
<text x="112.02" y="338.40" font-size="7.9" fill="#111"  stroke="#111" stroke-width="0.14" textLength="52.77" lengthAdjust="spacingAndGlyphs">micro-homology</text>
<text x="32.62" y="375.30" font-size="8.5" fill="#111"  stroke="#111" stroke-width="0.14" textLength="39.81" lengthAdjust="spacingAndGlyphs">PL19 (<tspan font-style="italic">n</tspan>=5)</text>
<text x="44.24" y="385.10" font-size="8.5" fill="#111"  stroke="#111" stroke-width="0.14" textLength="16.45" lengthAdjust="spacingAndGlyphs">NBS</text>
<text x="39.50" y="394.90" font-size="8.5" fill="#111"  stroke="#111" stroke-width="0.14" textLength="25.79" lengthAdjust="spacingAndGlyphs">DLBCL</text>
<path d="M50.06,407.50 A36.0,36.0 0 0 1 65.48,411.00 L63.84,414.43 A32.2,32.2 0 0 0 50.06,411.30Z" fill="#ececec" stroke="#c4c4c4" stroke-width="0.3"/>
<line x1="50.65" y1="410.91" x2="50.71" y2="407.91" stroke="#6a6a6a" stroke-width="0.75" />
<line x1="52.85" y1="411.03" x2="53.12" y2="408.04" stroke="#e09aa0" stroke-width="0.75" />
<line x1="53.70" y1="411.11" x2="54.04" y2="408.13" stroke="#b4b4b4" stroke-width="0.75" />
<line x1="55.56" y1="411.38" x2="56.07" y2="408.42" stroke="#9a9a9a" stroke-width="0.75" />
<line x1="57.02" y1="411.67" x2="57.67" y2="408.74" stroke="#7c7c7c" stroke-width="0.75" />
<line x1="58.99" y1="412.16" x2="59.81" y2="409.28" stroke="#7c7c7c" stroke-width="0.75" />
<line x1="60.08" y1="412.50" x2="61.01" y2="409.64" stroke="#7c7c7c" stroke-width="0.75" />
<line x1="61.57" y1="413.02" x2="62.64" y2="410.22" stroke="#b4b4b4" stroke-width="0.75" />
<line x1="63.34" y1="413.75" x2="64.56" y2="411.02" stroke="#b4b4b4" stroke-width="0.75" />
<path d="M50.13,405.90 A37.6,37.6 0 0 1 66.10,409.52" fill="none" stroke="#a5a5a5" stroke-width="0.8"/>
<text x="59.20" y="404.63" font-size="5" fill="#222" text-anchor="middle" transform="rotate(12.8 59.20 402.93)">1</text>
<path d="M66.71,411.61 A36.0,36.0 0 0 1 78.53,421.54 L75.51,423.86 A32.2,32.2 0 0 0 64.95,414.98Z" fill="#ececec" stroke="#c4c4c4" stroke-width="0.3"/>
<line x1="65.51" y1="414.83" x2="66.94" y2="412.19" stroke="#7c7c7c" stroke-width="0.75" />
<line x1="66.90" y1="415.62" x2="68.46" y2="413.06" stroke="#8a8a8a" stroke-width="0.75" />
<line x1="68.48" y1="416.64" x2="70.18" y2="414.17" stroke="#bcbcbc" stroke-width="0.75" />
<line x1="69.75" y1="417.56" x2="71.56" y2="415.17" stroke="#8a8a8a" stroke-width="0.75" />
<line x1="70.94" y1="418.51" x2="72.86" y2="416.21" stroke="#9a9a9a" stroke-width="0.75" />
<line x1="72.48" y1="419.89" x2="74.55" y2="417.72" stroke="#b4b4b4" stroke-width="0.75" />
<line x1="73.22" y1="420.61" x2="75.35" y2="418.51" stroke="#e09aa0" stroke-width="0.75" />
<line x1="74.14" y1="421.59" x2="76.36" y2="419.58" stroke="#6a6a6a" stroke-width="0.75" />
<line x1="75.15" y1="422.76" x2="77.47" y2="420.85" stroke="#e09aa0" stroke-width="0.75" />
<path d="M67.51,410.23 A37.6,37.6 0 0 1 79.75,420.51" fill="none" stroke="#a5a5a5" stroke-width="0.8"/>
<text x="76.76" y="413.35" font-size="5" fill="#222" text-anchor="middle" transform="rotate(40.0 76.76 411.65)">2</text>
<path d="M79.35,422.65 A36.0,36.0 0 0 1 84.74,434.04 L81.07,435.04 A32.2,32.2 0 0 0 76.25,424.85Z" fill="#ececec" stroke="#c4c4c4" stroke-width="0.3"/>
<line x1="76.82" y1="424.96" x2="79.28" y2="423.25" stroke="#8a8a8a" stroke-width="0.75" />
<line x1="77.86" y1="426.56" x2="80.42" y2="425.01" stroke="#bcbcbc" stroke-width="0.75" />
<line x1="78.77" y1="428.16" x2="81.41" y2="426.75" stroke="#6a6a6a" stroke-width="0.75" />
<line x1="79.57" y1="429.79" x2="82.30" y2="428.52" stroke="#b4b4b4" stroke-width="0.75" />
<line x1="80.09" y1="430.95" x2="82.86" y2="429.80" stroke="#7c7c7c" stroke-width="0.75" />
<line x1="80.73" y1="432.61" x2="83.56" y2="431.61" stroke="#b4b4b4" stroke-width="0.75" />
<line x1="81.16" y1="433.93" x2="84.03" y2="433.05" stroke="#bcbcbc" stroke-width="0.75" />
<path d="M80.69,421.78 A37.6,37.6 0 0 1 86.26,433.56" fill="none" stroke="#a5a5a5" stroke-width="0.8"/>
<text x="87.61" y="427.41" font-size="5" fill="#222" text-anchor="middle" transform="rotate(64.7 87.61 425.71)">3</text>
<path d="M85.07,435.38 A36.0,36.0 0 0 1 85.77,447.53 L82.00,447.10 A32.2,32.2 0 0 0 81.37,436.24Z" fill="#ececec" stroke="#c4c4c4" stroke-width="0.3"/>
<line x1="81.84" y1="436.52" x2="84.77" y2="435.87" stroke="#9a9a9a" stroke-width="0.75" />
<line x1="82.22" y1="438.55" x2="85.19" y2="438.09" stroke="#9a9a9a" stroke-width="0.75" />
<line x1="82.38" y1="439.69" x2="85.36" y2="439.34" stroke="#e09aa0" stroke-width="0.75" />
<line x1="82.55" y1="441.65" x2="85.54" y2="441.48" stroke="#bcbcbc" stroke-width="0.75" />
<line x1="82.60" y1="443.55" x2="85.60" y2="443.55" stroke="#8a8a8a" stroke-width="0.75" />
<line x1="82.59" y1="444.40" x2="85.59" y2="444.48" stroke="#8a8a8a" stroke-width="0.75" />
<line x1="82.48" y1="446.25" x2="85.47" y2="446.50" stroke="#7c7c7c" stroke-width="0.75" />
<path d="M86.65,435.09 A37.6,37.6 0 0 1 87.37,447.64" fill="none" stroke="#a5a5a5" stroke-width="0.8"/>
<text x="91.53" y="442.80" font-size="5" fill="#222" text-anchor="middle" transform="rotate(86.7 91.53 441.10)">4</text>
<path d="M85.59,448.90 A36.0,36.0 0 0 1 82.06,459.88 L78.68,458.15 A32.2,32.2 0 0 0 81.84,448.33Z" fill="#ececec" stroke="#c4c4c4" stroke-width="0.3"/>
<line x1="82.10" y1="449.19" x2="85.05" y2="449.72" stroke="#9a9a9a" stroke-width="0.75" />
<line x1="81.65" y1="451.32" x2="84.56" y2="452.04" stroke="#bcbcbc" stroke-width="0.75" />
<line x1="81.15" y1="453.12" x2="84.01" y2="454.01" stroke="#8a8a8a" stroke-width="0.75" />
<line x1="80.91" y1="453.85" x2="83.76" y2="454.80" stroke="#7c7c7c" stroke-width="0.75" />
<line x1="80.02" y1="456.20" x2="82.79" y2="457.37" stroke="#bcbcbc" stroke-width="0.75" />
<line x1="79.43" y1="457.52" x2="82.14" y2="458.81" stroke="#e09aa0" stroke-width="0.75" />
<path d="M87.16,449.20 A37.6,37.6 0 0 1 83.51,460.55" fill="none" stroke="#a5a5a5" stroke-width="0.8"/>
<text x="89.60" y="457.95" font-size="5" fill="#222" text-anchor="middle" transform="rotate(-72.2 89.60 456.25)">5</text>
<path d="M81.41,461.09 A36.0,36.0 0 0 1 74.70,469.69 L72.09,466.92 A32.2,32.2 0 0 0 78.09,459.24Z" fill="#ececec" stroke="#c4c4c4" stroke-width="0.3"/>
<line x1="78.03" y1="460.14" x2="80.61" y2="461.67" stroke="#6a6a6a" stroke-width="0.75" />
<line x1="77.21" y1="461.46" x2="79.71" y2="463.11" stroke="#bcbcbc" stroke-width="0.75" />
<line x1="76.18" y1="462.92" x2="78.59" y2="464.71" stroke="#b4b4b4" stroke-width="0.75" />
<line x1="74.89" y1="464.56" x2="77.18" y2="466.50" stroke="#8a8a8a" stroke-width="0.75" />
<line x1="73.91" y1="465.65" x2="76.12" y2="467.69" stroke="#8a8a8a" stroke-width="0.75" />
<line x1="73.20" y1="466.40" x2="75.34" y2="468.51" stroke="#e09aa0" stroke-width="0.75" />
<path d="M82.77,461.93 A37.6,37.6 0 0 1 75.85,470.81" fill="none" stroke="#a5a5a5" stroke-width="0.8"/>
<text x="82.80" y="470.79" font-size="5" fill="#222" text-anchor="middle" transform="rotate(-52.0 82.80 469.09)">6</text>
<path d="M73.68,470.62 A36.0,36.0 0 0 1 65.18,476.14 L63.57,472.70 A32.2,32.2 0 0 0 71.18,467.75Z" fill="#ececec" stroke="#c4c4c4" stroke-width="0.3"/>
<line x1="70.52" y1="468.83" x2="72.41" y2="471.16" stroke="#6a6a6a" stroke-width="0.75" />
<line x1="69.33" y1="469.75" x2="71.11" y2="472.17" stroke="#7c7c7c" stroke-width="0.75" />
<line x1="68.26" y1="470.51" x2="69.94" y2="472.99" stroke="#bcbcbc" stroke-width="0.75" />
<line x1="66.91" y1="471.37" x2="68.47" y2="473.93" stroke="#b4b4b4" stroke-width="0.75" />
<line x1="66.13" y1="471.83" x2="67.61" y2="474.44" stroke="#bcbcbc" stroke-width="0.75" />
<line x1="64.81" y1="472.54" x2="66.18" y2="475.21" stroke="#bcbcbc" stroke-width="0.75" />
<path d="M74.68,471.87 A37.6,37.6 0 0 1 65.91,477.57" fill="none" stroke="#a5a5a5" stroke-width="0.8"/>
<text x="72.68" y="480.08" font-size="5" fill="#222" text-anchor="middle" transform="rotate(-33.0 72.68 478.38)">7</text>
<path d="M63.91,476.70 A36.0,36.0 0 0 1 54.93,479.16 L54.41,475.40 A32.2,32.2 0 0 0 62.44,473.20Z" fill="#ececec" stroke="#c4c4c4" stroke-width="0.3"/>
<line x1="62.17" y1="473.74" x2="63.29" y2="476.53" stroke="#e09aa0" stroke-width="0.75" />
<line x1="59.82" y1="474.59" x2="60.72" y2="477.45" stroke="#7c7c7c" stroke-width="0.75" />
<line x1="58.39" y1="475.00" x2="59.16" y2="477.90" stroke="#8a8a8a" stroke-width="0.75" />
<line x1="56.83" y1="475.38" x2="57.46" y2="478.31" stroke="#e09aa0" stroke-width="0.75" />
<line x1="55.16" y1="475.69" x2="55.64" y2="478.65" stroke="#7c7c7c" stroke-width="0.75" />
<path d="M64.47,478.20 A37.6,37.6 0 0 1 55.21,480.74" fill="none" stroke="#a5a5a5" stroke-width="0.8"/>
<text x="60.98" y="485.33" font-size="5" fill="#222" text-anchor="middle" transform="rotate(-15.3 60.98 483.63)">8</text>
<path d="M53.55,479.32 A36.0,36.0 0 0 1 44.56,479.09 L45.13,475.33 A32.2,32.2 0 0 0 53.18,475.54Z" fill="#ececec" stroke="#c4c4c4" stroke-width="0.3"/>
<line x1="52.15" y1="476.03" x2="52.34" y2="479.02" stroke="#6a6a6a" stroke-width="0.75" />
<line x1="51.19" y1="476.08" x2="51.30" y2="479.08" stroke="#e09aa0" stroke-width="0.75" />
<line x1="48.70" y1="476.07" x2="48.58" y2="479.07" stroke="#8a8a8a" stroke-width="0.75" />
<line x1="47.62" y1="476.01" x2="47.40" y2="479.00" stroke="#8a8a8a" stroke-width="0.75" />
<line x1="45.60" y1="475.80" x2="45.19" y2="478.77" stroke="#6a6a6a" stroke-width="0.75" />
<path d="M53.65,480.92 A37.6,37.6 0 0 1 44.38,480.68" fill="none" stroke="#a5a5a5" stroke-width="0.8"/>
<text x="48.90" y="486.79" font-size="5" fill="#222" text-anchor="middle" transform="rotate(1.5 48.90 485.09)">9</text>
<path d="M43.20,478.85 A36.0,36.0 0 0 1 34.93,476.19 L36.52,472.74 A32.2,32.2 0 0 0 43.91,475.12Z" fill="#ececec" stroke="#c4c4c4" stroke-width="0.3"/>
<line x1="43.52" y1="475.45" x2="42.92" y2="478.39" stroke="#9a9a9a" stroke-width="0.75" />
<line x1="41.08" y1="474.86" x2="40.26" y2="477.74" stroke="#9a9a9a" stroke-width="0.75" />
<line x1="39.61" y1="474.40" x2="38.66" y2="477.24" stroke="#7c7c7c" stroke-width="0.75" />
<line x1="38.24" y1="473.90" x2="37.15" y2="476.70" stroke="#8a8a8a" stroke-width="0.75" />
<line x1="37.10" y1="473.44" x2="35.91" y2="476.19" stroke="#8a8a8a" stroke-width="0.75" />
<path d="M42.83,480.41 A37.6,37.6 0 0 1 34.32,477.67" fill="none" stroke="#a5a5a5" stroke-width="0.8"/>
<text x="37.27" y="484.80" font-size="5" fill="#222" text-anchor="middle" transform="rotate(17.8 37.27 483.10)">10</text>
<path d="M33.69,475.59 A36.0,36.0 0 0 1 26.53,470.80 L29.00,467.91 A32.2,32.2 0 0 0 35.41,472.20Z" fill="#ececec" stroke="#c4c4c4" stroke-width="0.3"/>
<line x1="34.50" y1="472.18" x2="33.07" y2="474.82" stroke="#6a6a6a" stroke-width="0.75" />
<line x1="32.81" y1="471.20" x2="31.22" y2="473.75" stroke="#7c7c7c" stroke-width="0.75" />
<line x1="31.74" y1="470.51" x2="30.06" y2="472.99" stroke="#6a6a6a" stroke-width="0.75" />
<line x1="30.94" y1="469.95" x2="29.19" y2="472.38" stroke="#b4b4b4" stroke-width="0.75" />
<line x1="29.06" y1="468.49" x2="27.14" y2="470.79" stroke="#7c7c7c" stroke-width="0.75" />
<path d="M32.90,476.99 A37.6,37.6 0 0 1 25.53,472.05" fill="none" stroke="#a5a5a5" stroke-width="0.8"/>
<text x="26.85" y="479.76" font-size="5" fill="#222" text-anchor="middle" transform="rotate(33.8 26.85 478.06)">11</text>
<path d="M25.50,469.87 A36.0,36.0 0 0 1 19.97,463.35 L23.14,461.25 A32.2,32.2 0 0 0 28.08,467.09Z" fill="#ececec" stroke="#c4c4c4" stroke-width="0.3"/>
<line x1="27.30" y1="466.90" x2="25.21" y2="469.05" stroke="#9a9a9a" stroke-width="0.75" />
<line x1="26.34" y1="465.92" x2="24.16" y2="467.99" stroke="#b4b4b4" stroke-width="0.75" />
<line x1="24.88" y1="464.27" x2="22.56" y2="466.19" stroke="#8a8a8a" stroke-width="0.75" />
<line x1="24.16" y1="463.37" x2="21.78" y2="465.20" stroke="#7c7c7c" stroke-width="0.75" />
<line x1="23.32" y1="462.24" x2="20.87" y2="463.96" stroke="#b4b4b4" stroke-width="0.75" />
<path d="M24.36,471.00 A37.6,37.6 0 0 1 18.67,464.28" fill="none" stroke="#a5a5a5" stroke-width="0.8"/>
<text x="18.26" y="472.10" font-size="5" fill="#222" text-anchor="middle" transform="rotate(49.7 18.26 470.40)">12</text>
<path d="M19.23,462.18 A36.0,36.0 0 0 1 16.07,455.54 L19.66,454.27 A32.2,32.2 0 0 0 22.47,460.21Z" fill="#ececec" stroke="#c4c4c4" stroke-width="0.3"/>
<line x1="21.78" y1="459.82" x2="19.18" y2="461.32" stroke="#b4b4b4" stroke-width="0.75" />
<line x1="21.06" y1="458.50" x2="18.39" y2="459.88" stroke="#bcbcbc" stroke-width="0.75" />
<line x1="20.29" y1="456.92" x2="17.56" y2="458.15" stroke="#bcbcbc" stroke-width="0.75" />
<line x1="19.57" y1="455.18" x2="16.76" y2="456.26" stroke="#8a8a8a" stroke-width="0.75" />
<path d="M17.82,462.95 A37.6,37.6 0 0 1 14.59,456.14" fill="none" stroke="#a5a5a5" stroke-width="0.8"/>
<text x="12.42" y="463.05" font-size="5" fill="#222" text-anchor="middle" transform="rotate(64.6 12.42 461.35)">13</text>
<path d="M15.64,454.23 A36.0,36.0 0 0 1 14.23,447.54 L18.00,447.12 A32.2,32.2 0 0 0 19.26,453.10Z" fill="#ececec" stroke="#c4c4c4" stroke-width="0.3"/>
<line x1="18.66" y1="452.48" x2="15.78" y2="453.31" stroke="#8a8a8a" stroke-width="0.75" />
<line x1="18.31" y1="451.15" x2="15.39" y2="451.85" stroke="#bcbcbc" stroke-width="0.75" />
<line x1="18.00" y1="449.74" x2="15.06" y2="450.31" stroke="#b4b4b4" stroke-width="0.75" />
<line x1="17.74" y1="448.19" x2="14.77" y2="448.62" stroke="#bcbcbc" stroke-width="0.75" />
<path d="M14.09,454.65 A37.6,37.6 0 0 1 12.65,447.79" fill="none" stroke="#a5a5a5" stroke-width="0.8"/>
<text x="9.29" y="453.78" font-size="5" fill="#222" text-anchor="middle" transform="rotate(78.1 9.29 452.08)">14</text>
<path d="M14.10,446.17 A36.0,36.0 0 0 1 14.21,439.65 L17.98,440.06 A32.2,32.2 0 0 0 17.89,445.89Z" fill="#ececec" stroke="#c4c4c4" stroke-width="0.3"/>
<line x1="17.41" y1="444.47" x2="14.42" y2="444.56" stroke="#6a6a6a" stroke-width="0.75" />
<line x1="17.42" y1="442.43" x2="14.42" y2="442.33" stroke="#b4b4b4" stroke-width="0.75" />
<line x1="17.51" y1="440.87" x2="14.52" y2="440.62" stroke="#8a8a8a" stroke-width="0.75" />
<path d="M12.50,446.22 A37.6,37.6 0 0 1 12.61,439.54" fill="none" stroke="#a5a5a5" stroke-width="0.8"/>
<text x="8.41" y="444.51" font-size="5" fill="#222" text-anchor="middle" transform="rotate(270.9 8.41 442.81)">15</text>
<path d="M14.38,438.28 A36.0,36.0 0 0 1 15.67,432.67 L19.29,433.81 A32.2,32.2 0 0 0 18.14,438.83Z" fill="#ececec" stroke="#c4c4c4" stroke-width="0.3"/>
<line x1="17.88" y1="437.93" x2="14.92" y2="437.42" stroke="#7c7c7c" stroke-width="0.75" />
<line x1="18.13" y1="436.66" x2="15.19" y2="436.03" stroke="#e09aa0" stroke-width="0.75" />
<line x1="18.56" y1="434.88" x2="15.67" y2="434.09" stroke="#b4b4b4" stroke-width="0.75" />
<path d="M12.81,437.98 A37.6,37.6 0 0 1 14.12,432.25" fill="none" stroke="#a5a5a5" stroke-width="0.8"/>
<text x="9.45" y="435.90" font-size="5" fill="#222" text-anchor="middle" transform="rotate(282.9 9.45 434.20)">16</text>
<path d="M16.11,431.36 A36.0,36.0 0 0 1 18.26,426.51 L21.61,428.30 A32.2,32.2 0 0 0 19.69,432.64Z" fill="#ececec" stroke="#c4c4c4" stroke-width="0.3"/>
<line x1="19.44" y1="432.16" x2="16.62" y2="431.11" stroke="#6a6a6a" stroke-width="0.75" />
<line x1="20.39" y1="429.86" x2="17.67" y2="428.61" stroke="#8a8a8a" stroke-width="0.75" />
<line x1="20.85" y1="428.90" x2="18.17" y2="427.56" stroke="#7c7c7c" stroke-width="0.75" />
<path d="M14.62,430.76 A37.6,37.6 0 0 1 16.82,425.81" fill="none" stroke="#a5a5a5" stroke-width="0.8"/>
<text x="11.98" y="428.33" font-size="5" fill="#222" text-anchor="middle" transform="rotate(293.9 11.98 426.63)">17</text>
<path d="M18.94,425.31 A36.0,36.0 0 0 1 21.83,421.09 L24.80,423.45 A32.2,32.2 0 0 0 22.22,427.23Z" fill="#ececec" stroke="#c4c4c4" stroke-width="0.3"/>
<line x1="22.06" y1="426.71" x2="19.48" y2="425.17" stroke="#b4b4b4" stroke-width="0.75" />
<line x1="23.09" y1="425.11" x2="20.61" y2="423.41" stroke="#7c7c7c" stroke-width="0.75" />
<line x1="24.23" y1="423.53" x2="21.86" y2="421.69" stroke="#7c7c7c" stroke-width="0.75" />
<path d="M17.59,424.44 A37.6,37.6 0 0 1 20.54,420.14" fill="none" stroke="#a5a5a5" stroke-width="0.8"/>
<text x="15.69" y="421.68" font-size="5" fill="#222" text-anchor="middle" transform="rotate(304.4 15.69 419.98)">18</text>
<path d="M22.71,420.02 A36.0,36.0 0 0 1 25.32,417.29 L27.92,420.06 A32.2,32.2 0 0 0 25.59,422.50Z" fill="#ececec" stroke="#c4c4c4" stroke-width="0.3"/>
<line x1="25.59" y1="421.89" x2="23.34" y2="419.91" stroke="#6a6a6a" stroke-width="0.75" />
<line x1="27.35" y1="420.05" x2="25.27" y2="417.90" stroke="#9a9a9a" stroke-width="0.75" />
<path d="M21.54,418.93 A37.6,37.6 0 0 1 24.17,416.17" fill="none" stroke="#a5a5a5" stroke-width="0.8"/>
<text x="19.93" y="416.45" font-size="5" fill="#222" text-anchor="middle" transform="rotate(313.7 19.93 414.75)">19</text>
<path d="M26.34,416.37 A36.0,36.0 0 0 1 29.57,413.86 L31.73,416.98 A32.2,32.2 0 0 0 28.84,419.23Z" fill="#ececec" stroke="#c4c4c4" stroke-width="0.3"/>
<line x1="29.02" y1="418.55" x2="27.09" y2="416.25" stroke="#7c7c7c" stroke-width="0.75" />
<line x1="31.14" y1="416.91" x2="29.41" y2="414.46" stroke="#7c7c7c" stroke-width="0.75" />
<path d="M25.34,415.12 A37.6,37.6 0 0 1 28.61,412.58" fill="none" stroke="#a5a5a5" stroke-width="0.8"/>
<text x="24.49" y="412.34" font-size="5" fill="#222" text-anchor="middle" transform="rotate(322.2 24.49 410.64)">20</text>
<path d="M30.73,413.09 A36.0,36.0 0 0 1 33.33,411.59 L35.09,414.96 A32.2,32.2 0 0 0 32.76,416.30Z" fill="#ececec" stroke="#c4c4c4" stroke-width="0.3"/>
<line x1="33.10" y1="415.62" x2="31.55" y2="413.05" stroke="#9a9a9a" stroke-width="0.75" />
<line x1="34.42" y1="414.86" x2="32.99" y2="412.23" stroke="#b4b4b4" stroke-width="0.75" />
<path d="M29.93,411.71 A37.6,37.6 0 0 1 32.53,410.20" fill="none" stroke="#a5a5a5" stroke-width="0.8"/>
<text x="29.22" y="409.16" font-size="5" fill="#222" text-anchor="middle" transform="rotate(330.0 29.22 407.46)">21</text>
<path d="M34.57,410.97 A36.0,36.0 0 0 1 37.58,409.71 L38.89,413.28 A32.2,32.2 0 0 0 36.20,414.41Z" fill="#ececec" stroke="#c4c4c4" stroke-width="0.3"/>
<line x1="36.97" y1="413.62" x2="35.77" y2="410.87" stroke="#9a9a9a" stroke-width="0.75" />
<line x1="38.01" y1="413.18" x2="36.91" y2="410.39" stroke="#6a6a6a" stroke-width="0.75" />
<path d="M33.94,409.50 A37.6,37.6 0 0 1 36.96,408.23" fill="none" stroke="#a5a5a5" stroke-width="0.8"/>
<text x="33.89" y="406.85" font-size="5" fill="#222" text-anchor="middle" transform="rotate(337.2 33.89 405.15)">22</text>
<path d="M38.88,409.26 A36.0,36.0 0 0 1 48.68,407.52 L48.82,411.32 A32.2,32.2 0 0 0 40.06,412.87Z" fill="#ececec" stroke="#c4c4c4" stroke-width="0.3"/>
<line x1="40.22" y1="412.40" x2="39.32" y2="409.54" stroke="#9a9a9a" stroke-width="0.75" />
<line x1="41.74" y1="411.96" x2="40.98" y2="409.06" stroke="#b4b4b4" stroke-width="0.75" />
<line x1="43.98" y1="411.46" x2="43.42" y2="408.51" stroke="#6a6a6a" stroke-width="0.75" />
<line x1="45.11" y1="411.27" x2="44.66" y2="408.30" stroke="#bcbcbc" stroke-width="0.75" />
<line x1="46.29" y1="411.11" x2="45.95" y2="408.13" stroke="#9a9a9a" stroke-width="0.75" />
<line x1="48.30" y1="410.94" x2="48.14" y2="407.95" stroke="#9a9a9a" stroke-width="0.75" />
<path d="M38.45,407.72 A37.6,37.6 0 0 1 48.56,405.93" fill="none" stroke="#a5a5a5" stroke-width="0.8"/>
<text x="42.74" y="404.24" font-size="5" fill="#222" text-anchor="middle" transform="rotate(350.0 42.74 402.54)">X</text>
<text x="123.02" y="375.30" font-size="8.5" fill="#111"  stroke="#111" stroke-width="0.14" textLength="39.81" lengthAdjust="spacingAndGlyphs">PL20 (<tspan font-style="italic">n</tspan>=4)</text>
<text x="134.64" y="385.10" font-size="8.5" fill="#111"  stroke="#111" stroke-width="0.14" textLength="16.45" lengthAdjust="spacingAndGlyphs">NBS</text>
<text x="113.80" y="394.90" font-size="8.5" fill="#111"  stroke="#111" stroke-width="0.14" textLength="58.24" lengthAdjust="spacingAndGlyphs">T-cell lymphoma</text>
<path d="M139.96,407.40 A36.0,36.0 0 0 1 155.38,410.90 L153.74,414.33 A32.2,32.2 0 0 0 139.96,411.20Z" fill="#ececec" stroke="#c4c4c4" stroke-width="0.3"/>
<line x1="141.07" y1="410.82" x2="141.18" y2="407.82" stroke="#b4b4b4" stroke-width="0.75" />
<line x1="141.96" y1="410.87" x2="142.15" y2="407.87" stroke="#7c7c7c" stroke-width="0.75" />
<line x1="143.93" y1="411.05" x2="144.30" y2="408.07" stroke="#9a9a9a" stroke-width="0.75" />
<line x1="145.58" y1="411.30" x2="146.10" y2="408.34" stroke="#b4b4b4" stroke-width="0.75" />
<line x1="146.82" y1="411.54" x2="147.46" y2="408.61" stroke="#9a9a9a" stroke-width="0.75" />
<line x1="148.88" y1="412.06" x2="149.71" y2="409.18" stroke="#b4b4b4" stroke-width="0.75" />
<line x1="149.77" y1="412.33" x2="150.68" y2="409.47" stroke="#b4b4b4" stroke-width="0.75" />
<line x1="151.48" y1="412.93" x2="152.55" y2="410.12" stroke="#7c7c7c" stroke-width="0.75" />
<line x1="153.42" y1="413.74" x2="154.66" y2="411.01" stroke="#6a6a6a" stroke-width="0.75" />
<path d="M140.03,405.80 A37.6,37.6 0 0 1 156.00,409.42" fill="none" stroke="#a5a5a5" stroke-width="0.8"/>
<text x="149.10" y="404.53" font-size="5" fill="#222" text-anchor="middle" transform="rotate(12.8 149.10 402.83)">1</text>
<path d="M156.61,411.51 A36.0,36.0 0 0 1 168.43,421.44 L165.41,423.76 A32.2,32.2 0 0 0 154.85,414.88Z" fill="#ececec" stroke="#c4c4c4" stroke-width="0.3"/>
<line x1="155.62" y1="414.84" x2="157.07" y2="412.21" stroke="#b4b4b4" stroke-width="0.75" />
<line x1="156.72" y1="415.47" x2="158.27" y2="412.90" stroke="#6a6a6a" stroke-width="0.75" />
<line x1="158.19" y1="416.42" x2="159.88" y2="413.93" stroke="#7c7c7c" stroke-width="0.75" />
<line x1="159.32" y1="417.22" x2="161.11" y2="414.81" stroke="#e09aa0" stroke-width="0.75" />
<line x1="160.75" y1="418.34" x2="162.67" y2="416.04" stroke="#9a9a9a" stroke-width="0.75" />
<line x1="161.93" y1="419.37" x2="163.96" y2="417.16" stroke="#e09aa0" stroke-width="0.75" />
<line x1="162.86" y1="420.26" x2="164.98" y2="418.13" stroke="#7c7c7c" stroke-width="0.75" />
<line x1="164.37" y1="421.86" x2="166.62" y2="419.88" stroke="#9a9a9a" stroke-width="0.75" />
<line x1="165.49" y1="423.21" x2="167.85" y2="421.35" stroke="#9a9a9a" stroke-width="0.75" />
<path d="M157.41,410.13 A37.6,37.6 0 0 1 169.65,420.41" fill="none" stroke="#a5a5a5" stroke-width="0.8"/>
<text x="166.66" y="413.25" font-size="5" fill="#222" text-anchor="middle" transform="rotate(40.0 166.66 411.55)">2</text>
<path d="M169.25,422.55 A36.0,36.0 0 0 1 174.64,433.94 L170.97,434.94 A32.2,32.2 0 0 0 166.15,424.75Z" fill="#ececec" stroke="#c4c4c4" stroke-width="0.3"/>
<line x1="166.67" y1="424.79" x2="169.13" y2="423.08" stroke="#bcbcbc" stroke-width="0.75" />
<line x1="167.87" y1="426.66" x2="170.44" y2="425.11" stroke="#bcbcbc" stroke-width="0.75" />
<line x1="168.69" y1="428.12" x2="171.34" y2="426.71" stroke="#6a6a6a" stroke-width="0.75" />
<line x1="169.17" y1="429.04" x2="171.86" y2="427.72" stroke="#8a8a8a" stroke-width="0.75" />
<line x1="169.88" y1="430.61" x2="172.64" y2="429.43" stroke="#7c7c7c" stroke-width="0.75" />
<line x1="170.77" y1="432.92" x2="173.61" y2="431.95" stroke="#bcbcbc" stroke-width="0.75" />
<line x1="171.10" y1="433.94" x2="173.97" y2="433.07" stroke="#9a9a9a" stroke-width="0.75" />
<path d="M170.59,421.68 A37.6,37.6 0 0 1 176.16,433.46" fill="none" stroke="#a5a5a5" stroke-width="0.8"/>
<text x="177.51" y="427.31" font-size="5" fill="#222" text-anchor="middle" transform="rotate(64.7 177.51 425.61)">3</text>
<path d="M174.97,435.28 A36.0,36.0 0 0 1 175.67,447.43 L171.90,447.00 A32.2,32.2 0 0 0 171.27,436.14Z" fill="#ececec" stroke="#c4c4c4" stroke-width="0.3"/>
<line x1="171.91" y1="437.21" x2="174.85" y2="436.64" stroke="#bcbcbc" stroke-width="0.75" />
<line x1="172.11" y1="438.37" x2="175.07" y2="437.91" stroke="#b4b4b4" stroke-width="0.75" />
<line x1="172.28" y1="439.65" x2="175.26" y2="439.30" stroke="#bcbcbc" stroke-width="0.75" />
<line x1="172.47" y1="441.93" x2="175.46" y2="441.80" stroke="#9a9a9a" stroke-width="0.75" />
<line x1="172.50" y1="443.41" x2="175.50" y2="443.41" stroke="#bcbcbc" stroke-width="0.75" />
<line x1="172.49" y1="444.35" x2="175.48" y2="444.44" stroke="#8a8a8a" stroke-width="0.75" />
<line x1="172.39" y1="446.10" x2="175.38" y2="446.35" stroke="#9a9a9a" stroke-width="0.75" />
<path d="M176.55,434.99 A37.6,37.6 0 0 1 177.27,447.54" fill="none" stroke="#a5a5a5" stroke-width="0.8"/>
<text x="181.43" y="442.70" font-size="5" fill="#222" text-anchor="middle" transform="rotate(86.7 181.43 441.00)">4</text>
<path d="M175.49,448.80 A36.0,36.0 0 0 1 171.96,459.78 L168.58,458.05 A32.2,32.2 0 0 0 171.74,448.23Z" fill="#ececec" stroke="#c4c4c4" stroke-width="0.3"/>
<line x1="172.00" y1="449.11" x2="174.95" y2="449.64" stroke="#bcbcbc" stroke-width="0.75" />
<line x1="171.57" y1="451.15" x2="174.48" y2="451.86" stroke="#6a6a6a" stroke-width="0.75" />
<line x1="171.19" y1="452.56" x2="174.06" y2="453.41" stroke="#b4b4b4" stroke-width="0.75" />
<line x1="170.56" y1="454.47" x2="173.39" y2="455.48" stroke="#8a8a8a" stroke-width="0.75" />
<line x1="170.07" y1="455.76" x2="172.84" y2="456.90" stroke="#7c7c7c" stroke-width="0.75" />
<line x1="169.53" y1="457.00" x2="172.25" y2="458.25" stroke="#e09aa0" stroke-width="0.75" />
<path d="M177.06,449.10 A37.6,37.6 0 0 1 173.41,460.45" fill="none" stroke="#a5a5a5" stroke-width="0.8"/>
<text x="179.50" y="457.85" font-size="5" fill="#222" text-anchor="middle" transform="rotate(-72.2 179.50 456.15)">5</text>
<path d="M171.31,460.99 A36.0,36.0 0 0 1 164.60,469.59 L161.99,466.82 A32.2,32.2 0 0 0 167.99,459.14Z" fill="#ececec" stroke="#c4c4c4" stroke-width="0.3"/>
<line x1="167.91" y1="460.09" x2="170.48" y2="461.62" stroke="#8a8a8a" stroke-width="0.75" />
<line x1="166.78" y1="461.84" x2="169.26" y2="463.54" stroke="#6a6a6a" stroke-width="0.75" />
<line x1="165.81" y1="463.18" x2="168.19" y2="465.00" stroke="#9a9a9a" stroke-width="0.75" />
<line x1="165.01" y1="464.19" x2="167.32" y2="466.11" stroke="#8a8a8a" stroke-width="0.75" />
<line x1="164.27" y1="465.05" x2="166.51" y2="467.04" stroke="#b4b4b4" stroke-width="0.75" />
<line x1="162.52" y1="466.88" x2="164.60" y2="469.04" stroke="#b4b4b4" stroke-width="0.75" />
<path d="M172.67,461.83 A37.6,37.6 0 0 1 165.75,470.71" fill="none" stroke="#a5a5a5" stroke-width="0.8"/>
<text x="172.70" y="470.69" font-size="5" fill="#222" text-anchor="middle" transform="rotate(-52.0 172.70 468.99)">6</text>
<path d="M163.58,470.52 A36.0,36.0 0 0 1 155.08,476.04 L153.47,472.60 A32.2,32.2 0 0 0 161.08,467.65Z" fill="#ececec" stroke="#c4c4c4" stroke-width="0.3"/>
<line x1="160.99" y1="468.26" x2="162.93" y2="470.55" stroke="#8a8a8a" stroke-width="0.75" />
<line x1="159.62" y1="469.36" x2="161.43" y2="471.75" stroke="#e09aa0" stroke-width="0.75" />
<line x1="158.01" y1="470.51" x2="159.68" y2="473.00" stroke="#8a8a8a" stroke-width="0.75" />
<line x1="156.83" y1="471.26" x2="158.38" y2="473.83" stroke="#bcbcbc" stroke-width="0.75" />
<line x1="155.47" y1="472.04" x2="156.91" y2="474.67" stroke="#bcbcbc" stroke-width="0.75" />
<line x1="154.65" y1="472.47" x2="156.01" y2="475.15" stroke="#bcbcbc" stroke-width="0.75" />
<path d="M164.58,471.77 A37.6,37.6 0 0 1 155.81,477.47" fill="none" stroke="#a5a5a5" stroke-width="0.8"/>
<text x="162.58" y="479.98" font-size="5" fill="#222" text-anchor="middle" transform="rotate(-33.0 162.58 478.28)">7</text>
<path d="M153.81,476.60 A36.0,36.0 0 0 1 144.83,479.06 L144.31,475.30 A32.2,32.2 0 0 0 152.34,473.10Z" fill="#ececec" stroke="#c4c4c4" stroke-width="0.3"/>
<line x1="151.91" y1="473.71" x2="153.01" y2="476.50" stroke="#9a9a9a" stroke-width="0.75" />
<line x1="150.06" y1="474.38" x2="150.99" y2="477.23" stroke="#9a9a9a" stroke-width="0.75" />
<line x1="148.74" y1="474.78" x2="149.56" y2="477.67" stroke="#9a9a9a" stroke-width="0.75" />
<line x1="147.16" y1="475.18" x2="147.82" y2="478.11" stroke="#8a8a8a" stroke-width="0.75" />
<line x1="145.51" y1="475.51" x2="146.03" y2="478.47" stroke="#8a8a8a" stroke-width="0.75" />
<path d="M154.37,478.10 A37.6,37.6 0 0 1 145.11,480.64" fill="none" stroke="#a5a5a5" stroke-width="0.8"/>
<text x="150.88" y="485.23" font-size="5" fill="#222" text-anchor="middle" transform="rotate(-15.3 150.88 483.53)">8</text>
<path d="M143.45,479.22 A36.0,36.0 0 0 1 134.46,478.99 L135.03,475.23 A32.2,32.2 0 0 0 143.08,475.44Z" fill="#ececec" stroke="#c4c4c4" stroke-width="0.3"/>
<line x1="142.64" y1="475.88" x2="142.90" y2="478.87" stroke="#e09aa0" stroke-width="0.75" />
<line x1="140.98" y1="475.98" x2="141.08" y2="478.98" stroke="#6a6a6a" stroke-width="0.75" />
<line x1="139.14" y1="475.99" x2="139.07" y2="478.99" stroke="#8a8a8a" stroke-width="0.75" />
<line x1="137.40" y1="475.90" x2="137.17" y2="478.90" stroke="#8a8a8a" stroke-width="0.75" />
<line x1="135.64" y1="475.72" x2="135.24" y2="478.69" stroke="#6a6a6a" stroke-width="0.75" />
<path d="M143.55,480.82 A37.6,37.6 0 0 1 134.28,480.58" fill="none" stroke="#a5a5a5" stroke-width="0.8"/>
<text x="138.80" y="486.69" font-size="5" fill="#222" text-anchor="middle" transform="rotate(1.5 138.80 484.99)">9</text>
<path d="M133.10,478.75 A36.0,36.0 0 0 1 124.83,476.09 L126.42,472.64 A32.2,32.2 0 0 0 133.81,475.02Z" fill="#ececec" stroke="#c4c4c4" stroke-width="0.3"/>
<line x1="132.82" y1="475.22" x2="132.17" y2="478.15" stroke="#6a6a6a" stroke-width="0.75" />
<line x1="131.80" y1="474.98" x2="131.05" y2="477.88" stroke="#b4b4b4" stroke-width="0.75" />
<line x1="129.58" y1="474.32" x2="128.63" y2="477.17" stroke="#8a8a8a" stroke-width="0.75" />
<line x1="128.13" y1="473.80" x2="127.05" y2="476.60" stroke="#9a9a9a" stroke-width="0.75" />
<line x1="127.37" y1="473.50" x2="126.22" y2="476.27" stroke="#9a9a9a" stroke-width="0.75" />
<path d="M132.73,480.31 A37.6,37.6 0 0 1 124.22,477.57" fill="none" stroke="#a5a5a5" stroke-width="0.8"/>
<text x="127.17" y="484.70" font-size="5" fill="#222" text-anchor="middle" transform="rotate(17.8 127.17 483.00)">10</text>
<path d="M123.59,475.49 A36.0,36.0 0 0 1 116.43,470.70 L118.90,467.81 A32.2,32.2 0 0 0 125.31,472.10Z" fill="#ececec" stroke="#c4c4c4" stroke-width="0.3"/>
<line x1="124.66" y1="472.22" x2="123.25" y2="474.87" stroke="#6a6a6a" stroke-width="0.75" />
<line x1="123.33" y1="471.47" x2="121.80" y2="474.06" stroke="#bcbcbc" stroke-width="0.75" />
<line x1="121.69" y1="470.44" x2="120.01" y2="472.93" stroke="#6a6a6a" stroke-width="0.75" />
<line x1="120.57" y1="469.65" x2="118.79" y2="472.07" stroke="#bcbcbc" stroke-width="0.75" />
<line x1="119.48" y1="468.81" x2="117.60" y2="471.15" stroke="#e09aa0" stroke-width="0.75" />
<path d="M122.80,476.89 A37.6,37.6 0 0 1 115.43,471.95" fill="none" stroke="#a5a5a5" stroke-width="0.8"/>
<text x="116.75" y="479.66" font-size="5" fill="#222" text-anchor="middle" transform="rotate(33.8 116.75 477.96)">11</text>
<path d="M115.40,469.77 A36.0,36.0 0 0 1 109.87,463.25 L113.04,461.15 A32.2,32.2 0 0 0 117.98,466.99Z" fill="#ececec" stroke="#c4c4c4" stroke-width="0.3"/>
<line x1="117.31" y1="466.90" x2="115.23" y2="469.07" stroke="#bcbcbc" stroke-width="0.75" />
<line x1="115.96" y1="465.53" x2="113.75" y2="467.56" stroke="#6a6a6a" stroke-width="0.75" />
<line x1="115.27" y1="464.76" x2="113.00" y2="466.72" stroke="#e09aa0" stroke-width="0.75" />
<line x1="113.94" y1="463.11" x2="111.55" y2="464.93" stroke="#9a9a9a" stroke-width="0.75" />
<line x1="113.29" y1="462.23" x2="110.84" y2="463.96" stroke="#9a9a9a" stroke-width="0.75" />
<path d="M114.26,470.90 A37.6,37.6 0 0 1 108.57,464.18" fill="none" stroke="#a5a5a5" stroke-width="0.8"/>
<text x="108.16" y="472.00" font-size="5" fill="#222" text-anchor="middle" transform="rotate(49.7 108.16 470.30)">12</text>
<path d="M109.13,462.08 A36.0,36.0 0 0 1 105.97,455.44 L109.56,454.17 A32.2,32.2 0 0 0 112.37,460.11Z" fill="#ececec" stroke="#c4c4c4" stroke-width="0.3"/>
<line x1="111.69" y1="459.74" x2="109.09" y2="461.24" stroke="#6a6a6a" stroke-width="0.75" />
<line x1="110.95" y1="458.40" x2="108.29" y2="459.78" stroke="#9a9a9a" stroke-width="0.75" />
<line x1="110.29" y1="457.05" x2="107.57" y2="458.30" stroke="#7c7c7c" stroke-width="0.75" />
<line x1="109.41" y1="454.95" x2="106.61" y2="456.01" stroke="#8a8a8a" stroke-width="0.75" />
<path d="M107.72,462.85 A37.6,37.6 0 0 1 104.49,456.04" fill="none" stroke="#a5a5a5" stroke-width="0.8"/>
<text x="102.32" y="462.95" font-size="5" fill="#222" text-anchor="middle" transform="rotate(64.6 102.32 461.25)">13</text>
<path d="M105.54,454.13 A36.0,36.0 0 0 1 104.13,447.44 L107.90,447.02 A32.2,32.2 0 0 0 109.16,453.00Z" fill="#ececec" stroke="#c4c4c4" stroke-width="0.3"/>
<line x1="108.48" y1="452.10" x2="105.59" y2="452.90" stroke="#bcbcbc" stroke-width="0.75" />
<line x1="108.21" y1="451.03" x2="105.29" y2="451.74" stroke="#7c7c7c" stroke-width="0.75" />
<line x1="107.87" y1="449.48" x2="104.92" y2="450.04" stroke="#e09aa0" stroke-width="0.75" />
<line x1="107.63" y1="448.00" x2="104.66" y2="448.43" stroke="#8a8a8a" stroke-width="0.75" />
<path d="M103.99,454.55 A37.6,37.6 0 0 1 102.55,447.69" fill="none" stroke="#a5a5a5" stroke-width="0.8"/>
<text x="99.19" y="453.68" font-size="5" fill="#222" text-anchor="middle" transform="rotate(78.1 99.19 451.98)">14</text>
<path d="M104.00,446.07 A36.0,36.0 0 0 1 104.11,439.55 L107.88,439.96 A32.2,32.2 0 0 0 107.79,445.79Z" fill="#ececec" stroke="#c4c4c4" stroke-width="0.3"/>
<line x1="107.36" y1="445.39" x2="104.37" y2="445.57" stroke="#b4b4b4" stroke-width="0.75" />
<line x1="107.31" y1="442.81" x2="104.31" y2="442.75" stroke="#6a6a6a" stroke-width="0.75" />
<line x1="107.39" y1="441.00" x2="104.40" y2="440.78" stroke="#bcbcbc" stroke-width="0.75" />
<path d="M102.40,446.12 A37.6,37.6 0 0 1 102.51,439.44" fill="none" stroke="#a5a5a5" stroke-width="0.8"/>
<text x="98.31" y="444.41" font-size="5" fill="#222" text-anchor="middle" transform="rotate(270.9 98.31 442.71)">15</text>
<path d="M104.28,438.18 A36.0,36.0 0 0 1 105.57,432.57 L109.19,433.71 A32.2,32.2 0 0 0 108.04,438.73Z" fill="#ececec" stroke="#c4c4c4" stroke-width="0.3"/>
<line x1="107.76" y1="437.92" x2="104.81" y2="437.42" stroke="#e09aa0" stroke-width="0.75" />
<line x1="108.05" y1="436.46" x2="105.12" y2="435.82" stroke="#e09aa0" stroke-width="0.75" />
<line x1="108.44" y1="434.84" x2="105.55" y2="434.05" stroke="#8a8a8a" stroke-width="0.75" />
<path d="M102.71,437.88 A37.6,37.6 0 0 1 104.02,432.15" fill="none" stroke="#a5a5a5" stroke-width="0.8"/>
<text x="99.35" y="435.80" font-size="5" fill="#222" text-anchor="middle" transform="rotate(282.9 99.35 434.10)">16</text>
<path d="M106.01,431.26 A36.0,36.0 0 0 1 108.16,426.41 L111.51,428.20 A32.2,32.2 0 0 0 109.59,432.54Z" fill="#ececec" stroke="#c4c4c4" stroke-width="0.3"/>
<line x1="109.45" y1="431.75" x2="106.65" y2="430.68" stroke="#9a9a9a" stroke-width="0.75" />
<line x1="110.07" y1="430.26" x2="107.32" y2="429.05" stroke="#9a9a9a" stroke-width="0.75" />
<line x1="110.86" y1="428.58" x2="108.19" y2="427.22" stroke="#b4b4b4" stroke-width="0.75" />
<path d="M104.52,430.66 A37.6,37.6 0 0 1 106.72,425.71" fill="none" stroke="#a5a5a5" stroke-width="0.8"/>
<text x="101.88" y="428.23" font-size="5" fill="#222" text-anchor="middle" transform="rotate(293.9 101.88 426.53)">17</text>
<path d="M108.84,425.21 A36.0,36.0 0 0 1 111.73,420.99 L114.70,423.35 A32.2,32.2 0 0 0 112.12,427.13Z" fill="#ececec" stroke="#c4c4c4" stroke-width="0.3"/>
<line x1="112.39" y1="425.91" x2="109.86" y2="424.30" stroke="#9a9a9a" stroke-width="0.75" />
<line x1="113.14" y1="424.78" x2="110.68" y2="423.07" stroke="#9a9a9a" stroke-width="0.75" />
<line x1="113.87" y1="423.78" x2="111.47" y2="421.97" stroke="#6a6a6a" stroke-width="0.75" />
<path d="M107.49,424.34 A37.6,37.6 0 0 1 110.44,420.04" fill="none" stroke="#a5a5a5" stroke-width="0.8"/>
<text x="105.59" y="421.58" font-size="5" fill="#222" text-anchor="middle" transform="rotate(304.4 105.59 419.88)">18</text>
<path d="M112.61,419.92 A36.0,36.0 0 0 1 115.22,417.19 L117.82,419.96 A32.2,32.2 0 0 0 115.49,422.40Z" fill="#ececec" stroke="#c4c4c4" stroke-width="0.3"/>
<line x1="116.01" y1="421.22" x2="113.81" y2="419.18" stroke="#bcbcbc" stroke-width="0.75" />
<line x1="116.83" y1="420.36" x2="114.71" y2="418.24" stroke="#8a8a8a" stroke-width="0.75" />
<path d="M111.44,418.83 A37.6,37.6 0 0 1 114.07,416.07" fill="none" stroke="#a5a5a5" stroke-width="0.8"/>
<text x="109.83" y="416.35" font-size="5" fill="#222" text-anchor="middle" transform="rotate(313.7 109.83 414.65)">19</text>
<path d="M116.24,416.27 A36.0,36.0 0 0 1 119.47,413.76 L121.63,416.88 A32.2,32.2 0 0 0 118.74,419.13Z" fill="#ececec" stroke="#c4c4c4" stroke-width="0.3"/>
<line x1="119.09" y1="418.31" x2="117.17" y2="416.00" stroke="#b4b4b4" stroke-width="0.75" />
<line x1="120.38" y1="417.29" x2="118.59" y2="414.89" stroke="#6a6a6a" stroke-width="0.75" />
<path d="M115.24,415.02 A37.6,37.6 0 0 1 118.51,412.48" fill="none" stroke="#a5a5a5" stroke-width="0.8"/>
<text x="114.39" y="412.24" font-size="5" fill="#222" text-anchor="middle" transform="rotate(322.2 114.39 410.54)">20</text>
<path d="M120.63,412.99 A36.0,36.0 0 0 1 123.23,411.49 L124.99,414.86 A32.2,32.2 0 0 0 122.66,416.20Z" fill="#ececec" stroke="#c4c4c4" stroke-width="0.3"/>
<line x1="122.98" y1="415.53" x2="121.42" y2="412.97" stroke="#8a8a8a" stroke-width="0.75" />
<line x1="124.15" y1="414.86" x2="122.70" y2="412.23" stroke="#bcbcbc" stroke-width="0.75" />
<path d="M119.83,411.61 A37.6,37.6 0 0 1 122.43,410.10" fill="none" stroke="#a5a5a5" stroke-width="0.8"/>
<text x="119.12" y="409.06" font-size="5" fill="#222" text-anchor="middle" transform="rotate(330.0 119.12 407.36)">21</text>
<path d="M124.47,410.87 A36.0,36.0 0 0 1 127.48,409.61 L128.79,413.18 A32.2,32.2 0 0 0 126.10,414.31Z" fill="#ececec" stroke="#c4c4c4" stroke-width="0.3"/>
<line x1="126.27" y1="413.79" x2="125.01" y2="411.06" stroke="#e09aa0" stroke-width="0.75" />
<line x1="128.28" y1="412.94" x2="127.21" y2="410.14" stroke="#b4b4b4" stroke-width="0.75" />
<path d="M123.84,409.40 A37.6,37.6 0 0 1 126.86,408.13" fill="none" stroke="#a5a5a5" stroke-width="0.8"/>
<text x="123.79" y="406.75" font-size="5" fill="#222" text-anchor="middle" transform="rotate(337.2 123.79 405.05)">22</text>
<path d="M128.78,409.16 A36.0,36.0 0 0 1 138.58,407.42 L138.72,411.22 A32.2,32.2 0 0 0 129.96,412.77Z" fill="#ececec" stroke="#c4c4c4" stroke-width="0.3"/>
<line x1="130.79" y1="412.10" x2="129.95" y2="409.22" stroke="#8a8a8a" stroke-width="0.75" />
<line x1="131.58" y1="411.88" x2="130.81" y2="408.98" stroke="#e09aa0" stroke-width="0.75" />
<line x1="133.16" y1="411.50" x2="132.54" y2="408.57" stroke="#bcbcbc" stroke-width="0.75" />
<line x1="135.32" y1="411.12" x2="134.90" y2="408.15" stroke="#6a6a6a" stroke-width="0.75" />
<line x1="136.52" y1="410.98" x2="136.21" y2="407.99" stroke="#9a9a9a" stroke-width="0.75" />
<line x1="138.17" y1="410.85" x2="138.01" y2="407.85" stroke="#8a8a8a" stroke-width="0.75" />
<path d="M128.35,407.62 A37.6,37.6 0 0 1 138.46,405.83" fill="none" stroke="#a5a5a5" stroke-width="0.8"/>
<text x="132.64" y="404.14" font-size="5" fill="#222" text-anchor="middle" transform="rotate(350.0 132.64 402.44)">X</text>
<text x="210.30" y="375.30" font-size="8.5" fill="#111"  stroke="#111" stroke-width="0.14" textLength="44.26" lengthAdjust="spacingAndGlyphs">PL22 (<tspan font-style="italic">n</tspan>=14)</text>
<text x="223.64" y="385.10" font-size="8.5" fill="#111"  stroke="#111" stroke-width="0.14" textLength="17.34" lengthAdjust="spacingAndGlyphs">LIG4</text>
<text x="219.40" y="394.90" font-size="8.5" fill="#111"  stroke="#111" stroke-width="0.14" textLength="25.79" lengthAdjust="spacingAndGlyphs">DLBCL</text>
<path d="M230.16,407.40 A36.0,36.0 0 0 1 245.58,410.90 L243.94,414.33 A32.2,32.2 0 0 0 230.16,411.20Z" fill="#ececec" stroke="#c4c4c4" stroke-width="0.3"/>
<line x1="230.62" y1="410.80" x2="230.67" y2="407.80" stroke="#9a9a9a" stroke-width="0.75" />
<line x1="232.23" y1="410.87" x2="232.43" y2="407.88" stroke="#8a8a8a" stroke-width="0.75" />
<line x1="234.56" y1="411.11" x2="234.97" y2="408.13" stroke="#6a6a6a" stroke-width="0.75" />
<line x1="235.63" y1="411.27" x2="236.14" y2="408.32" stroke="#bcbcbc" stroke-width="0.75" />
<line x1="237.60" y1="411.67" x2="238.29" y2="408.75" stroke="#bcbcbc" stroke-width="0.75" />
<line x1="238.58" y1="411.92" x2="239.37" y2="409.03" stroke="#8a8a8a" stroke-width="0.75" />
<line x1="240.71" y1="412.57" x2="241.68" y2="409.74" stroke="#6a6a6a" stroke-width="0.75" />
<line x1="242.33" y1="413.18" x2="243.46" y2="410.40" stroke="#b4b4b4" stroke-width="0.75" />
<line x1="243.22" y1="413.56" x2="244.43" y2="410.81" stroke="#e09aa0" stroke-width="0.75" />
<path d="M230.23,405.80 A37.6,37.6 0 0 1 246.20,409.42" fill="none" stroke="#a5a5a5" stroke-width="0.8"/>
<text x="239.30" y="404.53" font-size="5" fill="#222" text-anchor="middle" transform="rotate(12.8 239.30 402.83)">1</text>
<path d="M246.81,411.51 A36.0,36.0 0 0 1 258.63,421.44 L255.61,423.76 A32.2,32.2 0 0 0 245.05,414.88Z" fill="#ececec" stroke="#c4c4c4" stroke-width="0.3"/>
<line x1="246.27" y1="415.09" x2="247.76" y2="412.49" stroke="#b4b4b4" stroke-width="0.75" />
<line x1="246.94" y1="415.49" x2="248.49" y2="412.92" stroke="#7c7c7c" stroke-width="0.75" />
<line x1="248.67" y1="416.61" x2="250.38" y2="414.14" stroke="#bcbcbc" stroke-width="0.75" />
<line x1="250.14" y1="417.69" x2="251.98" y2="415.32" stroke="#7c7c7c" stroke-width="0.75" />
<line x1="251.27" y1="418.61" x2="253.22" y2="416.33" stroke="#8a8a8a" stroke-width="0.75" />
<line x1="252.33" y1="419.55" x2="254.37" y2="417.36" stroke="#e09aa0" stroke-width="0.75" />
<line x1="253.59" y1="420.80" x2="255.75" y2="418.72" stroke="#bcbcbc" stroke-width="0.75" />
<line x1="254.42" y1="421.69" x2="256.65" y2="419.69" stroke="#e09aa0" stroke-width="0.75" />
<line x1="255.28" y1="422.69" x2="257.60" y2="420.79" stroke="#b4b4b4" stroke-width="0.75" />
<path d="M247.61,410.13 A37.6,37.6 0 0 1 259.85,420.41" fill="none" stroke="#a5a5a5" stroke-width="0.8"/>
<text x="256.86" y="413.25" font-size="5" fill="#222" text-anchor="middle" transform="rotate(40.0 256.86 411.55)">2</text>
<path d="M259.45,422.55 A36.0,36.0 0 0 1 264.84,433.94 L261.17,434.94 A32.2,32.2 0 0 0 256.35,424.75Z" fill="#ececec" stroke="#c4c4c4" stroke-width="0.3"/>
<line x1="257.38" y1="425.55" x2="259.89" y2="423.91" stroke="#8a8a8a" stroke-width="0.75" />
<line x1="257.96" y1="426.48" x2="260.53" y2="424.92" stroke="#6a6a6a" stroke-width="0.75" />
<line x1="258.67" y1="427.70" x2="261.30" y2="426.25" stroke="#7c7c7c" stroke-width="0.75" />
<line x1="259.70" y1="429.74" x2="262.43" y2="428.49" stroke="#8a8a8a" stroke-width="0.75" />
<line x1="260.06" y1="430.55" x2="262.82" y2="429.36" stroke="#e09aa0" stroke-width="0.75" />
<line x1="260.93" y1="432.81" x2="263.77" y2="431.83" stroke="#7c7c7c" stroke-width="0.75" />
<line x1="261.20" y1="433.62" x2="264.06" y2="432.71" stroke="#bcbcbc" stroke-width="0.75" />
<path d="M260.79,421.68 A37.6,37.6 0 0 1 266.36,433.46" fill="none" stroke="#a5a5a5" stroke-width="0.8"/>
<text x="267.71" y="427.31" font-size="5" fill="#222" text-anchor="middle" transform="rotate(64.7 267.71 425.61)">3</text>
<path d="M265.17,435.28 A36.0,36.0 0 0 1 265.87,447.43 L262.10,447.00 A32.2,32.2 0 0 0 261.47,436.14Z" fill="#ececec" stroke="#c4c4c4" stroke-width="0.3"/>
<line x1="262.00" y1="436.66" x2="264.93" y2="436.04" stroke="#b4b4b4" stroke-width="0.75" />
<line x1="262.33" y1="438.47" x2="265.29" y2="438.02" stroke="#e09aa0" stroke-width="0.75" />
<line x1="262.55" y1="440.28" x2="265.54" y2="439.99" stroke="#bcbcbc" stroke-width="0.75" />
<line x1="262.63" y1="441.34" x2="265.63" y2="441.15" stroke="#b4b4b4" stroke-width="0.75" />
<line x1="262.70" y1="442.92" x2="265.70" y2="442.88" stroke="#8a8a8a" stroke-width="0.75" />
<line x1="262.68" y1="444.61" x2="265.68" y2="444.72" stroke="#7c7c7c" stroke-width="0.75" />
<line x1="262.59" y1="446.14" x2="265.57" y2="446.39" stroke="#e09aa0" stroke-width="0.75" />
<path d="M266.75,434.99 A37.6,37.6 0 0 1 267.47,447.54" fill="none" stroke="#a5a5a5" stroke-width="0.8"/>
<text x="271.63" y="442.70" font-size="5" fill="#222" text-anchor="middle" transform="rotate(86.7 271.63 441.00)">4</text>
<path d="M265.69,448.80 A36.0,36.0 0 0 1 262.16,459.78 L258.78,458.05 A32.2,32.2 0 0 0 261.94,448.23Z" fill="#ececec" stroke="#c4c4c4" stroke-width="0.3"/>
<line x1="262.20" y1="449.09" x2="265.15" y2="449.61" stroke="#6a6a6a" stroke-width="0.75" />
<line x1="261.95" y1="450.35" x2="264.88" y2="450.99" stroke="#b4b4b4" stroke-width="0.75" />
<line x1="261.40" y1="452.52" x2="264.28" y2="453.36" stroke="#b4b4b4" stroke-width="0.75" />
<line x1="260.76" y1="454.48" x2="263.58" y2="455.50" stroke="#bcbcbc" stroke-width="0.75" />
<line x1="260.10" y1="456.16" x2="262.86" y2="457.33" stroke="#bcbcbc" stroke-width="0.75" />
<line x1="259.66" y1="457.14" x2="262.38" y2="458.41" stroke="#b4b4b4" stroke-width="0.75" />
<path d="M267.26,449.10 A37.6,37.6 0 0 1 263.61,460.45" fill="none" stroke="#a5a5a5" stroke-width="0.8"/>
<text x="269.70" y="457.85" font-size="5" fill="#222" text-anchor="middle" transform="rotate(-72.2 269.70 456.15)">5</text>
<path d="M261.51,460.99 A36.0,36.0 0 0 1 254.80,469.59 L252.19,466.82 A32.2,32.2 0 0 0 258.19,459.14Z" fill="#ececec" stroke="#c4c4c4" stroke-width="0.3"/>
<line x1="258.18" y1="459.96" x2="260.76" y2="461.49" stroke="#6a6a6a" stroke-width="0.75" />
<line x1="257.45" y1="461.14" x2="259.97" y2="462.77" stroke="#b4b4b4" stroke-width="0.75" />
<line x1="256.38" y1="462.69" x2="258.80" y2="464.47" stroke="#bcbcbc" stroke-width="0.75" />
<line x1="255.32" y1="464.06" x2="257.64" y2="465.96" stroke="#e09aa0" stroke-width="0.75" />
<line x1="254.10" y1="465.46" x2="256.31" y2="467.49" stroke="#6a6a6a" stroke-width="0.75" />
<line x1="252.97" y1="466.64" x2="255.07" y2="468.77" stroke="#6a6a6a" stroke-width="0.75" />
<path d="M262.87,461.83 A37.6,37.6 0 0 1 255.95,470.71" fill="none" stroke="#a5a5a5" stroke-width="0.8"/>
<text x="262.90" y="470.69" font-size="5" fill="#222" text-anchor="middle" transform="rotate(-52.0 262.90 468.99)">6</text>
<path d="M253.78,470.52 A36.0,36.0 0 0 1 245.28,476.04 L243.67,472.60 A32.2,32.2 0 0 0 251.28,467.65Z" fill="#ececec" stroke="#c4c4c4" stroke-width="0.3"/>
<line x1="250.66" y1="468.70" x2="252.55" y2="471.03" stroke="#9a9a9a" stroke-width="0.75" />
<line x1="249.55" y1="469.56" x2="251.34" y2="471.97" stroke="#e09aa0" stroke-width="0.75" />
<line x1="248.83" y1="470.08" x2="250.55" y2="472.54" stroke="#bcbcbc" stroke-width="0.75" />
<line x1="247.22" y1="471.14" x2="248.79" y2="473.70" stroke="#b4b4b4" stroke-width="0.75" />
<line x1="245.77" y1="471.99" x2="247.22" y2="474.62" stroke="#bcbcbc" stroke-width="0.75" />
<line x1="244.84" y1="472.48" x2="246.19" y2="475.16" stroke="#bcbcbc" stroke-width="0.75" />
<path d="M254.78,471.77 A37.6,37.6 0 0 1 246.01,477.47" fill="none" stroke="#a5a5a5" stroke-width="0.8"/>
<text x="252.78" y="479.98" font-size="5" fill="#222" text-anchor="middle" transform="rotate(-33.0 252.78 478.28)">7</text>
<path d="M244.01,476.60 A36.0,36.0 0 0 1 235.03,479.06 L234.51,475.30 A32.2,32.2 0 0 0 242.54,473.10Z" fill="#ececec" stroke="#c4c4c4" stroke-width="0.3"/>
<line x1="242.32" y1="473.62" x2="243.45" y2="476.40" stroke="#e09aa0" stroke-width="0.75" />
<line x1="240.10" y1="474.43" x2="241.02" y2="477.28" stroke="#bcbcbc" stroke-width="0.75" />
<line x1="239.08" y1="474.74" x2="239.91" y2="477.62" stroke="#8a8a8a" stroke-width="0.75" />
<line x1="236.58" y1="475.35" x2="237.18" y2="478.29" stroke="#b4b4b4" stroke-width="0.75" />
<line x1="235.61" y1="475.53" x2="236.12" y2="478.49" stroke="#bcbcbc" stroke-width="0.75" />
<path d="M244.57,478.10 A37.6,37.6 0 0 1 235.31,480.64" fill="none" stroke="#a5a5a5" stroke-width="0.8"/>
<text x="241.08" y="485.23" font-size="5" fill="#222" text-anchor="middle" transform="rotate(-15.3 241.08 483.53)">8</text>
<path d="M233.65,479.22 A36.0,36.0 0 0 1 224.66,478.99 L225.23,475.23 A32.2,32.2 0 0 0 233.28,475.44Z" fill="#ececec" stroke="#c4c4c4" stroke-width="0.3"/>
<line x1="232.10" y1="475.94" x2="232.28" y2="478.93" stroke="#8a8a8a" stroke-width="0.75" />
<line x1="230.69" y1="475.99" x2="230.74" y2="478.99" stroke="#7c7c7c" stroke-width="0.75" />
<line x1="228.82" y1="475.97" x2="228.70" y2="478.97" stroke="#6a6a6a" stroke-width="0.75" />
<line x1="227.28" y1="475.88" x2="227.02" y2="478.87" stroke="#e09aa0" stroke-width="0.75" />
<line x1="225.73" y1="475.71" x2="225.33" y2="478.68" stroke="#8a8a8a" stroke-width="0.75" />
<path d="M233.75,480.82 A37.6,37.6 0 0 1 224.48,480.58" fill="none" stroke="#a5a5a5" stroke-width="0.8"/>
<text x="229.00" y="486.69" font-size="5" fill="#222" text-anchor="middle" transform="rotate(1.5 229.00 484.99)">9</text>
<path d="M223.30,478.75 A36.0,36.0 0 0 1 215.03,476.09 L216.62,472.64 A32.2,32.2 0 0 0 224.01,475.02Z" fill="#ececec" stroke="#c4c4c4" stroke-width="0.3"/>
<line x1="223.33" y1="475.29" x2="222.71" y2="478.22" stroke="#e09aa0" stroke-width="0.75" />
<line x1="221.84" y1="474.94" x2="221.08" y2="477.84" stroke="#bcbcbc" stroke-width="0.75" />
<line x1="220.16" y1="474.45" x2="219.25" y2="477.31" stroke="#9a9a9a" stroke-width="0.75" />
<line x1="218.63" y1="473.92" x2="217.58" y2="476.73" stroke="#b4b4b4" stroke-width="0.75" />
<line x1="217.43" y1="473.44" x2="216.26" y2="476.20" stroke="#9a9a9a" stroke-width="0.75" />
<path d="M222.93,480.31 A37.6,37.6 0 0 1 214.42,477.57" fill="none" stroke="#a5a5a5" stroke-width="0.8"/>
<text x="217.37" y="484.70" font-size="5" fill="#222" text-anchor="middle" transform="rotate(17.8 217.37 483.00)">10</text>
<path d="M213.79,475.49 A36.0,36.0 0 0 1 206.63,470.70 L209.10,467.81 A32.2,32.2 0 0 0 215.51,472.10Z" fill="#ececec" stroke="#c4c4c4" stroke-width="0.3"/>
<line x1="214.54" y1="472.05" x2="213.11" y2="474.68" stroke="#8a8a8a" stroke-width="0.75" />
<line x1="213.42" y1="471.41" x2="211.89" y2="473.99" stroke="#6a6a6a" stroke-width="0.75" />
<line x1="212.19" y1="470.64" x2="210.54" y2="473.15" stroke="#b4b4b4" stroke-width="0.75" />
<line x1="210.93" y1="469.77" x2="209.17" y2="472.20" stroke="#9a9a9a" stroke-width="0.75" />
<line x1="209.31" y1="468.51" x2="207.40" y2="470.82" stroke="#b4b4b4" stroke-width="0.75" />
<path d="M213.00,476.89 A37.6,37.6 0 0 1 205.63,471.95" fill="none" stroke="#a5a5a5" stroke-width="0.8"/>
<text x="206.95" y="479.66" font-size="5" fill="#222" text-anchor="middle" transform="rotate(33.8 206.95 477.96)">11</text>
<path d="M205.60,469.77 A36.0,36.0 0 0 1 200.07,463.25 L203.24,461.15 A32.2,32.2 0 0 0 208.18,466.99Z" fill="#ececec" stroke="#c4c4c4" stroke-width="0.3"/>
<line x1="207.57" y1="466.96" x2="205.50" y2="469.13" stroke="#bcbcbc" stroke-width="0.75" />
<line x1="206.41" y1="465.80" x2="204.23" y2="467.86" stroke="#bcbcbc" stroke-width="0.75" />
<line x1="205.21" y1="464.46" x2="202.92" y2="466.39" stroke="#7c7c7c" stroke-width="0.75" />
<line x1="204.05" y1="463.00" x2="201.66" y2="464.81" stroke="#bcbcbc" stroke-width="0.75" />
<line x1="203.36" y1="462.05" x2="200.90" y2="463.77" stroke="#e09aa0" stroke-width="0.75" />
<path d="M204.46,470.90 A37.6,37.6 0 0 1 198.77,464.18" fill="none" stroke="#a5a5a5" stroke-width="0.8"/>
<text x="198.36" y="472.00" font-size="5" fill="#222" text-anchor="middle" transform="rotate(49.7 198.36 470.30)">12</text>
<path d="M199.33,462.08 A36.0,36.0 0 0 1 196.17,455.44 L199.76,454.17 A32.2,32.2 0 0 0 202.57,460.11Z" fill="#ececec" stroke="#c4c4c4" stroke-width="0.3"/>
<line x1="201.77" y1="459.53" x2="199.16" y2="461.01" stroke="#6a6a6a" stroke-width="0.75" />
<line x1="201.13" y1="458.35" x2="198.47" y2="459.73" stroke="#e09aa0" stroke-width="0.75" />
<line x1="200.25" y1="456.51" x2="197.51" y2="457.72" stroke="#b4b4b4" stroke-width="0.75" />
<line x1="199.58" y1="454.87" x2="196.77" y2="455.92" stroke="#9a9a9a" stroke-width="0.75" />
<path d="M197.92,462.85 A37.6,37.6 0 0 1 194.69,456.04" fill="none" stroke="#a5a5a5" stroke-width="0.8"/>
<text x="192.52" y="462.95" font-size="5" fill="#222" text-anchor="middle" transform="rotate(64.6 192.52 461.25)">13</text>
<path d="M195.74,454.13 A36.0,36.0 0 0 1 194.33,447.44 L198.10,447.02 A32.2,32.2 0 0 0 199.36,453.00Z" fill="#ececec" stroke="#c4c4c4" stroke-width="0.3"/>
<line x1="198.82" y1="452.59" x2="195.94" y2="453.43" stroke="#9a9a9a" stroke-width="0.75" />
<line x1="198.35" y1="450.81" x2="195.43" y2="451.49" stroke="#9a9a9a" stroke-width="0.75" />
<line x1="198.08" y1="449.52" x2="195.13" y2="450.08" stroke="#6a6a6a" stroke-width="0.75" />
<line x1="197.81" y1="447.88" x2="194.84" y2="448.30" stroke="#8a8a8a" stroke-width="0.75" />
<path d="M194.19,454.55 A37.6,37.6 0 0 1 192.75,447.69" fill="none" stroke="#a5a5a5" stroke-width="0.8"/>
<text x="189.39" y="453.68" font-size="5" fill="#222" text-anchor="middle" transform="rotate(78.1 189.39 451.98)">14</text>
<path d="M194.20,446.07 A36.0,36.0 0 0 1 194.31,439.55 L198.08,439.96 A32.2,32.2 0 0 0 197.99,445.79Z" fill="#ececec" stroke="#c4c4c4" stroke-width="0.3"/>
<line x1="197.53" y1="444.70" x2="194.53" y2="444.82" stroke="#6a6a6a" stroke-width="0.75" />
<line x1="197.50" y1="443.10" x2="194.50" y2="443.08" stroke="#e09aa0" stroke-width="0.75" />
<line x1="197.58" y1="441.19" x2="194.58" y2="440.98" stroke="#7c7c7c" stroke-width="0.75" />
<path d="M192.60,446.12 A37.6,37.6 0 0 1 192.71,439.44" fill="none" stroke="#a5a5a5" stroke-width="0.8"/>
<text x="188.51" y="444.41" font-size="5" fill="#222" text-anchor="middle" transform="rotate(270.9 188.51 442.71)">15</text>
<path d="M194.48,438.18 A36.0,36.0 0 0 1 195.77,432.57 L199.39,433.71 A32.2,32.2 0 0 0 198.24,438.73Z" fill="#ececec" stroke="#c4c4c4" stroke-width="0.3"/>
<line x1="198.07" y1="437.34" x2="195.12" y2="436.78" stroke="#bcbcbc" stroke-width="0.75" />
<line x1="198.35" y1="436.02" x2="195.42" y2="435.34" stroke="#7c7c7c" stroke-width="0.75" />
<line x1="198.88" y1="434.03" x2="196.00" y2="433.17" stroke="#7c7c7c" stroke-width="0.75" />
<path d="M192.91,437.88 A37.6,37.6 0 0 1 194.22,432.15" fill="none" stroke="#a5a5a5" stroke-width="0.8"/>
<text x="189.55" y="435.80" font-size="5" fill="#222" text-anchor="middle" transform="rotate(282.9 189.55 434.10)">16</text>
<path d="M196.21,431.26 A36.0,36.0 0 0 1 198.36,426.41 L201.71,428.20 A32.2,32.2 0 0 0 199.79,432.54Z" fill="#ececec" stroke="#c4c4c4" stroke-width="0.3"/>
<line x1="199.52" y1="432.11" x2="196.70" y2="431.07" stroke="#6a6a6a" stroke-width="0.75" />
<line x1="200.19" y1="430.42" x2="197.44" y2="429.23" stroke="#9a9a9a" stroke-width="0.75" />
<line x1="201.04" y1="428.63" x2="198.36" y2="427.27" stroke="#b4b4b4" stroke-width="0.75" />
<path d="M194.72,430.66 A37.6,37.6 0 0 1 196.92,425.71" fill="none" stroke="#a5a5a5" stroke-width="0.8"/>
<text x="192.08" y="428.23" font-size="5" fill="#222" text-anchor="middle" transform="rotate(293.9 192.08 426.53)">17</text>
<path d="M199.04,425.21 A36.0,36.0 0 0 1 201.93,420.99 L204.90,423.35 A32.2,32.2 0 0 0 202.32,427.13Z" fill="#ececec" stroke="#c4c4c4" stroke-width="0.3"/>
<line x1="202.33" y1="426.33" x2="199.77" y2="424.76" stroke="#9a9a9a" stroke-width="0.75" />
<line x1="203.42" y1="424.67" x2="200.97" y2="422.94" stroke="#8a8a8a" stroke-width="0.75" />
<line x1="204.11" y1="423.72" x2="201.72" y2="421.91" stroke="#e09aa0" stroke-width="0.75" />
<path d="M197.69,424.34 A37.6,37.6 0 0 1 200.64,420.04" fill="none" stroke="#a5a5a5" stroke-width="0.8"/>
<text x="195.79" y="421.58" font-size="5" fill="#222" text-anchor="middle" transform="rotate(304.4 195.79 419.88)">18</text>
<path d="M202.81,419.92 A36.0,36.0 0 0 1 205.42,417.19 L208.02,419.96 A32.2,32.2 0 0 0 205.69,422.40Z" fill="#ececec" stroke="#c4c4c4" stroke-width="0.3"/>
<line x1="206.06" y1="421.38" x2="203.85" y2="419.36" stroke="#6a6a6a" stroke-width="0.75" />
<line x1="206.81" y1="420.59" x2="204.67" y2="418.49" stroke="#e09aa0" stroke-width="0.75" />
<path d="M201.64,418.83 A37.6,37.6 0 0 1 204.27,416.07" fill="none" stroke="#a5a5a5" stroke-width="0.8"/>
<text x="200.03" y="416.35" font-size="5" fill="#222" text-anchor="middle" transform="rotate(313.7 200.03 414.65)">19</text>
<path d="M206.44,416.27 A36.0,36.0 0 0 1 209.67,413.76 L211.83,416.88 A32.2,32.2 0 0 0 208.94,419.13Z" fill="#ececec" stroke="#c4c4c4" stroke-width="0.3"/>
<line x1="209.26" y1="418.33" x2="207.34" y2="416.03" stroke="#6a6a6a" stroke-width="0.75" />
<line x1="210.87" y1="417.08" x2="209.10" y2="414.65" stroke="#e09aa0" stroke-width="0.75" />
<path d="M205.44,415.02 A37.6,37.6 0 0 1 208.71,412.48" fill="none" stroke="#a5a5a5" stroke-width="0.8"/>
<text x="204.59" y="412.24" font-size="5" fill="#222" text-anchor="middle" transform="rotate(322.2 204.59 410.54)">20</text>
<path d="M210.83,412.99 A36.0,36.0 0 0 1 213.43,411.49 L215.19,414.86 A32.2,32.2 0 0 0 212.86,416.20Z" fill="#ececec" stroke="#c4c4c4" stroke-width="0.3"/>
<line x1="213.03" y1="415.62" x2="211.46" y2="413.07" stroke="#e09aa0" stroke-width="0.75" />
<line x1="214.26" y1="414.91" x2="212.81" y2="412.28" stroke="#8a8a8a" stroke-width="0.75" />
<path d="M210.03,411.61 A37.6,37.6 0 0 1 212.63,410.10" fill="none" stroke="#a5a5a5" stroke-width="0.8"/>
<text x="209.32" y="409.06" font-size="5" fill="#222" text-anchor="middle" transform="rotate(330.0 209.32 407.36)">21</text>
<path d="M214.67,410.87 A36.0,36.0 0 0 1 217.68,409.61 L218.99,413.18 A32.2,32.2 0 0 0 216.30,414.31Z" fill="#ececec" stroke="#c4c4c4" stroke-width="0.3"/>
<line x1="216.56" y1="413.75" x2="215.31" y2="411.02" stroke="#e09aa0" stroke-width="0.75" />
<line x1="218.43" y1="412.96" x2="217.36" y2="410.16" stroke="#8a8a8a" stroke-width="0.75" />
<path d="M214.04,409.40 A37.6,37.6 0 0 1 217.06,408.13" fill="none" stroke="#a5a5a5" stroke-width="0.8"/>
<text x="213.99" y="406.75" font-size="5" fill="#222" text-anchor="middle" transform="rotate(337.2 213.99 405.05)">22</text>
<path d="M218.98,409.16 A36.0,36.0 0 0 1 228.78,407.42 L228.92,411.22 A32.2,32.2 0 0 0 220.16,412.77Z" fill="#ececec" stroke="#c4c4c4" stroke-width="0.3"/>
<line x1="220.44" y1="412.27" x2="219.55" y2="409.40" stroke="#bcbcbc" stroke-width="0.75" />
<line x1="221.98" y1="411.83" x2="221.23" y2="408.92" stroke="#8a8a8a" stroke-width="0.75" />
<line x1="223.63" y1="411.45" x2="223.04" y2="408.51" stroke="#6a6a6a" stroke-width="0.75" />
<line x1="225.28" y1="411.16" x2="224.84" y2="408.19" stroke="#bcbcbc" stroke-width="0.75" />
<line x1="226.80" y1="410.97" x2="226.50" y2="407.98" stroke="#9a9a9a" stroke-width="0.75" />
<line x1="228.06" y1="410.86" x2="227.88" y2="407.87" stroke="#9a9a9a" stroke-width="0.75" />
<path d="M218.55,407.62 A37.6,37.6 0 0 1 228.66,405.83" fill="none" stroke="#a5a5a5" stroke-width="0.8"/>
<text x="222.84" y="404.14" font-size="5" fill="#222" text-anchor="middle" transform="rotate(350.0 222.84 402.44)">X</text>
<text x="295.06" y="375.30" font-size="8.5" fill="#111"  stroke="#111" stroke-width="0.14" textLength="53.15" lengthAdjust="spacingAndGlyphs">PL23 (<tspan font-style="italic">n</tspan>=1443)</text>
<text x="316.24" y="385.10" font-size="8.5" fill="#111"  stroke="#111" stroke-width="0.14" textLength="10.67" lengthAdjust="spacingAndGlyphs">BS</text>
<text x="311.82" y="394.90" font-size="8.5" fill="#111"  stroke="#111" stroke-width="0.14" textLength="20.01" lengthAdjust="spacingAndGlyphs">ALCL</text>
<path d="M320.36,407.40 A36.0,36.0 0 0 1 335.41,410.72 L333.81,414.17 A32.2,32.2 0 0 0 320.36,411.20Z" fill="#ececec" stroke="#c4c4c4" stroke-width="0.3"/>
<line x1="321.58" y1="410.82" x2="321.69" y2="407.83" stroke="#6a6a6a" stroke-width="0.75" />
<line x1="322.83" y1="410.90" x2="323.07" y2="407.91" stroke="#e09aa0" stroke-width="0.75" />
<line x1="324.62" y1="411.09" x2="325.02" y2="408.11" stroke="#e09aa0" stroke-width="0.75" />
<line x1="325.93" y1="411.29" x2="326.45" y2="408.34" stroke="#b4b4b4" stroke-width="0.75" />
<line x1="327.43" y1="411.59" x2="328.08" y2="408.66" stroke="#e09aa0" stroke-width="0.75" />
<line x1="329.06" y1="412.00" x2="329.87" y2="409.11" stroke="#8a8a8a" stroke-width="0.75" />
<line x1="330.05" y1="412.29" x2="330.94" y2="409.43" stroke="#6a6a6a" stroke-width="0.75" />
<line x1="331.42" y1="412.76" x2="332.44" y2="409.94" stroke="#e09aa0" stroke-width="0.75" />
<line x1="332.86" y1="413.32" x2="334.02" y2="410.55" stroke="#8a8a8a" stroke-width="0.75" />
<path d="M320.43,405.80 A37.6,37.6 0 0 1 336.02,409.24" fill="none" stroke="#a5a5a5" stroke-width="0.8"/>
<text x="329.27" y="404.48" font-size="5" fill="#222" text-anchor="middle" transform="rotate(12.5 329.27 402.78)">1</text>
<path d="M336.65,411.33 A36.0,36.0 0 0 1 348.33,420.81 L345.37,423.19 A32.2,32.2 0 0 0 334.93,414.71Z" fill="#ececec" stroke="#c4c4c4" stroke-width="0.3"/>
<line x1="335.57" y1="414.60" x2="336.98" y2="411.95" stroke="#6a6a6a" stroke-width="0.75" />
<line x1="337.43" y1="415.66" x2="339.01" y2="413.11" stroke="#6a6a6a" stroke-width="0.75" />
<line x1="338.02" y1="416.04" x2="339.65" y2="413.52" stroke="#e09aa0" stroke-width="0.75" />
<line x1="339.76" y1="417.24" x2="341.55" y2="414.84" stroke="#8a8a8a" stroke-width="0.75" />
<line x1="340.59" y1="417.89" x2="342.46" y2="415.54" stroke="#8a8a8a" stroke-width="0.75" />
<line x1="342.02" y1="419.09" x2="344.02" y2="416.85" stroke="#7c7c7c" stroke-width="0.75" />
<line x1="343.13" y1="420.13" x2="345.23" y2="417.98" stroke="#7c7c7c" stroke-width="0.75" />
<line x1="344.13" y1="421.16" x2="346.33" y2="419.11" stroke="#e09aa0" stroke-width="0.75" />
<line x1="345.00" y1="422.13" x2="347.28" y2="420.17" stroke="#9a9a9a" stroke-width="0.75" />
<path d="M337.44,409.93 A37.6,37.6 0 0 1 349.53,419.76" fill="none" stroke="#a5a5a5" stroke-width="0.8"/>
<text x="346.52" y="412.80" font-size="5" fill="#222" text-anchor="middle" transform="rotate(39.1 346.52 411.10)">2</text>
<path d="M349.18,421.90 A36.0,36.0 0 0 1 354.72,432.87 L351.09,433.98 A32.2,32.2 0 0 0 346.13,424.17Z" fill="#ececec" stroke="#c4c4c4" stroke-width="0.3"/>
<line x1="346.68" y1="424.24" x2="349.10" y2="422.48" stroke="#7c7c7c" stroke-width="0.75" />
<line x1="347.57" y1="425.54" x2="350.08" y2="423.90" stroke="#7c7c7c" stroke-width="0.75" />
<line x1="348.77" y1="427.51" x2="351.39" y2="426.05" stroke="#7c7c7c" stroke-width="0.75" />
<line x1="349.40" y1="428.71" x2="352.08" y2="427.36" stroke="#b4b4b4" stroke-width="0.75" />
<line x1="350.21" y1="430.43" x2="352.96" y2="429.23" stroke="#7c7c7c" stroke-width="0.75" />
<line x1="350.83" y1="431.97" x2="353.64" y2="430.92" stroke="#6a6a6a" stroke-width="0.75" />
<line x1="351.30" y1="433.32" x2="354.16" y2="432.39" stroke="#b4b4b4" stroke-width="0.75" />
<path d="M350.50,421.00 A37.6,37.6 0 0 1 356.24,432.34" fill="none" stroke="#a5a5a5" stroke-width="0.8"/>
<text x="357.42" y="426.32" font-size="5" fill="#222" text-anchor="middle" transform="rotate(63.2 357.42 424.62)">3</text>
<path d="M355.10,434.20 A36.0,36.0 0 0 1 356.21,446.00 L352.42,445.73 A32.2,32.2 0 0 0 351.43,435.17Z" fill="#ececec" stroke="#c4c4c4" stroke-width="0.3"/>
<line x1="351.93" y1="435.52" x2="354.84" y2="434.80" stroke="#6a6a6a" stroke-width="0.75" />
<line x1="352.29" y1="437.10" x2="355.23" y2="436.52" stroke="#7c7c7c" stroke-width="0.75" />
<line x1="352.52" y1="438.42" x2="355.48" y2="437.96" stroke="#9a9a9a" stroke-width="0.75" />
<line x1="352.79" y1="440.73" x2="355.78" y2="440.48" stroke="#7c7c7c" stroke-width="0.75" />
<line x1="352.88" y1="442.32" x2="355.88" y2="442.22" stroke="#9a9a9a" stroke-width="0.75" />
<line x1="352.90" y1="443.64" x2="355.90" y2="443.67" stroke="#9a9a9a" stroke-width="0.75" />
<line x1="352.85" y1="445.11" x2="355.85" y2="445.27" stroke="#7c7c7c" stroke-width="0.75" />
<path d="M356.67,433.85 A37.6,37.6 0 0 1 357.81,446.05" fill="none" stroke="#a5a5a5" stroke-width="0.8"/>
<text x="361.72" y="441.23" font-size="5" fill="#222" text-anchor="middle" transform="rotate(84.7 361.72 439.53)">4</text>
<path d="M356.08,447.38 A36.0,36.0 0 0 1 353.11,458.22 L349.64,456.66 A32.2,32.2 0 0 0 352.30,446.96Z" fill="#ececec" stroke="#c4c4c4" stroke-width="0.3"/>
<line x1="352.60" y1="447.78" x2="355.58" y2="448.19" stroke="#bcbcbc" stroke-width="0.75" />
<line x1="352.24" y1="449.95" x2="355.17" y2="450.55" stroke="#9a9a9a" stroke-width="0.75" />
<line x1="352.00" y1="450.99" x2="354.92" y2="451.69" stroke="#8a8a8a" stroke-width="0.75" />
<line x1="351.62" y1="452.43" x2="354.51" y2="453.26" stroke="#e09aa0" stroke-width="0.75" />
<line x1="351.13" y1="453.99" x2="353.97" y2="454.96" stroke="#9a9a9a" stroke-width="0.75" />
<line x1="350.19" y1="456.42" x2="352.94" y2="457.62" stroke="#bcbcbc" stroke-width="0.75" />
<path d="M357.66,447.62 A37.6,37.6 0 0 1 354.59,458.82" fill="none" stroke="#a5a5a5" stroke-width="0.8"/>
<text x="360.42" y="456.10" font-size="5" fill="#222" text-anchor="middle" transform="rotate(-74.7 360.42 454.40)">5</text>
<path d="M352.51,459.47 A36.0,36.0 0 0 1 346.42,468.17 L343.66,465.56 A32.2,32.2 0 0 0 349.11,457.77Z" fill="#ececec" stroke="#c4c4c4" stroke-width="0.3"/>
<line x1="348.99" y1="458.87" x2="351.63" y2="460.30" stroke="#8a8a8a" stroke-width="0.75" />
<line x1="348.19" y1="460.27" x2="350.76" y2="461.83" stroke="#9a9a9a" stroke-width="0.75" />
<line x1="347.62" y1="461.18" x2="350.14" y2="462.82" stroke="#b4b4b4" stroke-width="0.75" />
<line x1="346.63" y1="462.62" x2="349.06" y2="464.39" stroke="#8a8a8a" stroke-width="0.75" />
<line x1="345.62" y1="463.93" x2="347.95" y2="465.82" stroke="#bcbcbc" stroke-width="0.75" />
<line x1="344.42" y1="465.34" x2="346.63" y2="467.36" stroke="#7c7c7c" stroke-width="0.75" />
<path d="M353.92,460.24 A37.6,37.6 0 0 1 347.63,469.23" fill="none" stroke="#a5a5a5" stroke-width="0.8"/>
<text x="354.38" y="468.96" font-size="5" fill="#222" text-anchor="middle" transform="rotate(-55.0 354.38 467.26)">6</text>
<path d="M345.45,469.16 A36.0,36.0 0 0 1 337.50,475.03 L335.68,471.69 A32.2,32.2 0 0 0 342.80,466.44Z" fill="#ececec" stroke="#c4c4c4" stroke-width="0.3"/>
<line x1="342.22" y1="467.53" x2="344.23" y2="469.76" stroke="#bcbcbc" stroke-width="0.75" />
<line x1="341.09" y1="468.51" x2="343.00" y2="470.82" stroke="#b4b4b4" stroke-width="0.75" />
<line x1="340.27" y1="469.16" x2="342.11" y2="471.54" stroke="#e09aa0" stroke-width="0.75" />
<line x1="338.90" y1="470.17" x2="340.62" y2="472.63" stroke="#bcbcbc" stroke-width="0.75" />
<line x1="338.16" y1="470.67" x2="339.81" y2="473.18" stroke="#7c7c7c" stroke-width="0.75" />
<line x1="336.73" y1="471.56" x2="338.24" y2="474.15" stroke="#9a9a9a" stroke-width="0.75" />
<path d="M346.52,470.35 A37.6,37.6 0 0 1 338.32,476.40" fill="none" stroke="#a5a5a5" stroke-width="0.8"/>
<text x="345.00" y="478.57" font-size="5" fill="#222" text-anchor="middle" transform="rotate(-36.4 345.00 476.87)">7</text>
<path d="M336.27,475.66 A36.0,36.0 0 0 1 327.69,478.63 L326.91,474.91 A32.2,32.2 0 0 0 334.58,472.26Z" fill="#ececec" stroke="#c4c4c4" stroke-width="0.3"/>
<line x1="333.76" y1="473.09" x2="335.00" y2="475.82" stroke="#b4b4b4" stroke-width="0.75" />
<line x1="332.39" y1="473.67" x2="333.51" y2="476.46" stroke="#6a6a6a" stroke-width="0.75" />
<line x1="330.90" y1="474.23" x2="331.88" y2="477.07" stroke="#8a8a8a" stroke-width="0.75" />
<line x1="329.73" y1="474.61" x2="330.59" y2="477.48" stroke="#6a6a6a" stroke-width="0.75" />
<line x1="328.17" y1="475.04" x2="328.89" y2="477.95" stroke="#e09aa0" stroke-width="0.75" />
<path d="M336.92,477.13 A37.6,37.6 0 0 1 328.08,480.19" fill="none" stroke="#a5a5a5" stroke-width="0.8"/>
<text x="333.90" y="484.41" font-size="5" fill="#222" text-anchor="middle" transform="rotate(-19.1 333.90 482.71)">8</text>
<path d="M326.33,478.89 A36.0,36.0 0 0 1 317.57,479.30 L317.86,475.51 A32.2,32.2 0 0 0 325.69,475.15Z" fill="#ececec" stroke="#c4c4c4" stroke-width="0.3"/>
<line x1="324.57" y1="475.72" x2="324.96" y2="478.69" stroke="#9a9a9a" stroke-width="0.75" />
<line x1="322.94" y1="475.89" x2="323.18" y2="478.88" stroke="#7c7c7c" stroke-width="0.75" />
<line x1="322.25" y1="475.94" x2="322.43" y2="478.94" stroke="#6a6a6a" stroke-width="0.75" />
<line x1="320.56" y1="476.00" x2="320.58" y2="479.00" stroke="#7c7c7c" stroke-width="0.75" />
<line x1="318.49" y1="475.95" x2="318.33" y2="478.95" stroke="#7c7c7c" stroke-width="0.75" />
<path d="M326.53,480.48 A37.6,37.6 0 0 1 317.51,480.90" fill="none" stroke="#a5a5a5" stroke-width="0.8"/>
<text x="322.22" y="486.66" font-size="5" fill="#222" text-anchor="middle" transform="rotate(-2.6 322.22 484.96)">9</text>
<path d="M316.19,479.16 A36.0,36.0 0 0 1 307.96,477.22 L309.26,473.65 A32.2,32.2 0 0 0 316.63,475.39Z" fill="#ececec" stroke="#c4c4c4" stroke-width="0.3"/>
<line x1="316.21" y1="475.74" x2="315.84" y2="478.72" stroke="#6a6a6a" stroke-width="0.75" />
<line x1="314.70" y1="475.51" x2="314.18" y2="478.47" stroke="#e09aa0" stroke-width="0.75" />
<line x1="312.56" y1="475.07" x2="311.85" y2="477.98" stroke="#8a8a8a" stroke-width="0.75" />
<line x1="311.03" y1="474.65" x2="310.18" y2="477.53" stroke="#bcbcbc" stroke-width="0.75" />
<line x1="309.82" y1="474.27" x2="308.85" y2="477.11" stroke="#7c7c7c" stroke-width="0.75" />
<path d="M315.94,480.75 A37.6,37.6 0 0 1 307.47,478.74" fill="none" stroke="#a5a5a5" stroke-width="0.8"/>
<text x="310.73" y="485.58" font-size="5" fill="#222" text-anchor="middle" transform="rotate(13.3 310.73 483.88)">10</text>
<path d="M306.67,476.72 A36.0,36.0 0 0 1 299.32,472.65 L301.53,469.57 A32.2,32.2 0 0 0 308.11,473.20Z" fill="#ececec" stroke="#c4c4c4" stroke-width="0.3"/>
<line x1="307.62" y1="473.43" x2="306.45" y2="476.20" stroke="#bcbcbc" stroke-width="0.75" />
<line x1="305.66" y1="472.53" x2="304.31" y2="475.21" stroke="#7c7c7c" stroke-width="0.75" />
<line x1="304.17" y1="471.73" x2="302.68" y2="474.33" stroke="#6a6a6a" stroke-width="0.75" />
<line x1="303.40" y1="471.28" x2="301.85" y2="473.84" stroke="#8a8a8a" stroke-width="0.75" />
<line x1="302.22" y1="470.53" x2="300.55" y2="473.02" stroke="#6a6a6a" stroke-width="0.75" />
<path d="M306.00,478.18 A37.6,37.6 0 0 1 298.44,473.99" fill="none" stroke="#a5a5a5" stroke-width="0.8"/>
<text x="300.16" y="481.50" font-size="5" fill="#222" text-anchor="middle" transform="rotate(29.0 300.16 479.80)">11</text>
<path d="M298.21,471.83 A36.0,36.0 0 0 1 292.26,465.98 L295.22,463.60 A32.2,32.2 0 0 0 300.54,468.83Z" fill="#ececec" stroke="#c4c4c4" stroke-width="0.3"/>
<line x1="299.39" y1="468.41" x2="297.47" y2="470.71" stroke="#bcbcbc" stroke-width="0.75" />
<line x1="298.38" y1="467.53" x2="296.37" y2="469.75" stroke="#6a6a6a" stroke-width="0.75" />
<line x1="297.24" y1="466.44" x2="295.12" y2="468.56" stroke="#7c7c7c" stroke-width="0.75" />
<line x1="296.31" y1="465.48" x2="294.11" y2="467.51" stroke="#b4b4b4" stroke-width="0.75" />
<line x1="295.63" y1="464.71" x2="293.36" y2="466.67" stroke="#6a6a6a" stroke-width="0.75" />
<path d="M297.18,473.05 A37.6,37.6 0 0 1 291.06,467.04" fill="none" stroke="#a5a5a5" stroke-width="0.8"/>
<text x="291.14" y="474.77" font-size="5" fill="#222" text-anchor="middle" transform="rotate(44.5 291.14 473.07)">12</text>
<path d="M291.42,464.89 A36.0,36.0 0 0 1 287.74,458.75 L291.17,457.13 A32.2,32.2 0 0 0 294.47,462.62Z" fill="#ececec" stroke="#c4c4c4" stroke-width="0.3"/>
<line x1="293.51" y1="461.97" x2="291.04" y2="463.68" stroke="#7c7c7c" stroke-width="0.75" />
<line x1="292.92" y1="461.09" x2="290.40" y2="462.72" stroke="#9a9a9a" stroke-width="0.75" />
<line x1="292.01" y1="459.60" x2="289.41" y2="461.09" stroke="#9a9a9a" stroke-width="0.75" />
<line x1="291.38" y1="458.44" x2="288.72" y2="459.83" stroke="#9a9a9a" stroke-width="0.75" />
<path d="M290.09,465.79 A37.6,37.6 0 0 1 286.32,459.49" fill="none" stroke="#a5a5a5" stroke-width="0.8"/>
<text x="284.62" y="466.49" font-size="5" fill="#222" text-anchor="middle" transform="rotate(59.1 284.62 464.79)">13</text>
<path d="M287.17,457.49 A36.0,36.0 0 0 1 285.14,451.14 L288.85,450.32 A32.2,32.2 0 0 0 290.67,456.00Z" fill="#ececec" stroke="#c4c4c4" stroke-width="0.3"/>
<line x1="289.87" y1="455.09" x2="287.07" y2="456.17" stroke="#6a6a6a" stroke-width="0.75" />
<line x1="289.42" y1="453.86" x2="286.58" y2="454.82" stroke="#9a9a9a" stroke-width="0.75" />
<line x1="288.92" y1="452.24" x2="286.04" y2="453.06" stroke="#bcbcbc" stroke-width="0.75" />
<line x1="288.54" y1="450.73" x2="285.61" y2="451.41" stroke="#e09aa0" stroke-width="0.75" />
<path d="M285.67,458.05 A37.6,37.6 0 0 1 283.59,451.55" fill="none" stroke="#a5a5a5" stroke-width="0.8"/>
<text x="280.67" y="457.76" font-size="5" fill="#222" text-anchor="middle" transform="rotate(72.3 280.67 456.06)">14</text>
<path d="M284.87,449.78 A36.0,36.0 0 0 1 284.30,443.46 L288.10,443.45 A32.2,32.2 0 0 0 288.61,449.11Z" fill="#ececec" stroke="#c4c4c4" stroke-width="0.3"/>
<line x1="288.06" y1="448.26" x2="285.10" y2="448.71" stroke="#9a9a9a" stroke-width="0.75" />
<line x1="287.82" y1="446.19" x2="284.83" y2="446.45" stroke="#6a6a6a" stroke-width="0.75" />
<line x1="287.71" y1="444.08" x2="284.71" y2="444.14" stroke="#6a6a6a" stroke-width="0.75" />
<path d="M283.28,450.00 A37.6,37.6 0 0 1 282.70,443.52" fill="none" stroke="#a5a5a5" stroke-width="0.8"/>
<text x="278.87" y="448.84" font-size="5" fill="#222" text-anchor="middle" transform="rotate(84.8 278.87 447.14)">15</text>
<path d="M284.32,442.07 A36.0,36.0 0 0 1 284.97,436.50 L288.70,437.23 A32.2,32.2 0 0 0 288.12,442.21Z" fill="#ececec" stroke="#c4c4c4" stroke-width="0.3"/>
<line x1="287.76" y1="441.42" x2="284.77" y2="441.24" stroke="#bcbcbc" stroke-width="0.75" />
<line x1="287.87" y1="440.07" x2="284.89" y2="439.77" stroke="#b4b4b4" stroke-width="0.75" />
<line x1="288.19" y1="437.78" x2="285.23" y2="437.27" stroke="#e09aa0" stroke-width="0.75" />
<path d="M282.73,441.95 A37.6,37.6 0 0 1 283.38,436.26" fill="none" stroke="#a5a5a5" stroke-width="0.8"/>
<text x="278.97" y="440.34" font-size="5" fill="#222" text-anchor="middle" transform="rotate(276.6 278.97 438.64)">16</text>
<path d="M285.26,435.15 A36.0,36.0 0 0 1 286.80,430.22 L290.34,431.61 A32.2,32.2 0 0 0 288.96,436.02Z" fill="#ececec" stroke="#c4c4c4" stroke-width="0.3"/>
<line x1="288.77" y1="435.11" x2="285.87" y2="434.35" stroke="#7c7c7c" stroke-width="0.75" />
<line x1="289.29" y1="433.35" x2="286.43" y2="432.42" stroke="#6a6a6a" stroke-width="0.75" />
<line x1="289.71" y1="432.13" x2="286.90" y2="431.09" stroke="#9a9a9a" stroke-width="0.75" />
<path d="M283.72,434.72 A37.6,37.6 0 0 1 285.29,429.69" fill="none" stroke="#a5a5a5" stroke-width="0.8"/>
<text x="280.60" y="432.69" font-size="5" fill="#222" text-anchor="middle" transform="rotate(287.4 280.60 430.99)">17</text>
<path d="M287.33,428.94 A36.0,36.0 0 0 1 289.65,424.52 L292.88,426.52 A32.2,32.2 0 0 0 290.81,430.47Z" fill="#ececec" stroke="#c4c4c4" stroke-width="0.3"/>
<line x1="290.63" y1="429.89" x2="287.90" y2="428.65" stroke="#6a6a6a" stroke-width="0.75" />
<line x1="291.43" y1="428.25" x2="288.78" y2="426.86" stroke="#9a9a9a" stroke-width="0.75" />
<line x1="292.27" y1="426.75" x2="289.69" y2="425.22" stroke="#6a6a6a" stroke-width="0.75" />
<path d="M285.89,428.24 A37.6,37.6 0 0 1 288.25,423.74" fill="none" stroke="#a5a5a5" stroke-width="0.8"/>
<text x="283.45" y="425.79" font-size="5" fill="#222" text-anchor="middle" transform="rotate(297.7 283.45 424.09)">18</text>
<path d="M290.39,423.36 A36.0,36.0 0 0 1 292.59,420.41 L295.52,422.84 A32.2,32.2 0 0 0 293.55,425.48Z" fill="#ececec" stroke="#c4c4c4" stroke-width="0.3"/>
<line x1="293.41" y1="424.97" x2="290.93" y2="423.28" stroke="#b4b4b4" stroke-width="0.75" />
<line x1="294.44" y1="423.55" x2="292.06" y2="421.73" stroke="#7c7c7c" stroke-width="0.75" />
<path d="M289.10,422.42 A37.6,37.6 0 0 1 291.32,419.44" fill="none" stroke="#a5a5a5" stroke-width="0.8"/>
<text x="286.97" y="420.21" font-size="5" fill="#222" text-anchor="middle" transform="rotate(306.8 286.97 418.51)">19</text>
<path d="M293.50,419.37 A36.0,36.0 0 0 1 296.32,416.55 L298.85,419.38 A32.2,32.2 0 0 0 296.33,421.90Z" fill="#ececec" stroke="#c4c4c4" stroke-width="0.3"/>
<line x1="296.86" y1="420.74" x2="294.71" y2="418.66" stroke="#8a8a8a" stroke-width="0.75" />
<line x1="298.29" y1="419.35" x2="296.26" y2="417.14" stroke="#e09aa0" stroke-width="0.75" />
<path d="M292.35,418.25 A37.6,37.6 0 0 1 295.20,415.40" fill="none" stroke="#a5a5a5" stroke-width="0.8"/>
<text x="290.91" y="415.66" font-size="5" fill="#222" text-anchor="middle" transform="rotate(315.1 290.91 413.96)">20</text>
<path d="M297.37,415.65 A36.0,36.0 0 0 1 299.70,413.88 L301.88,416.99 A32.2,32.2 0 0 0 299.79,418.58Z" fill="#ececec" stroke="#c4c4c4" stroke-width="0.3"/>
<line x1="299.95" y1="417.93" x2="298.08" y2="415.58" stroke="#bcbcbc" stroke-width="0.75" />
<line x1="301.12" y1="417.04" x2="299.35" y2="414.62" stroke="#e09aa0" stroke-width="0.75" />
<path d="M296.40,414.37 A37.6,37.6 0 0 1 298.73,412.60" fill="none" stroke="#a5a5a5" stroke-width="0.8"/>
<text x="295.13" y="411.98" font-size="5" fill="#222" text-anchor="middle" transform="rotate(322.8 295.13 410.28)">21</text>
<path d="M300.85,413.11 A36.0,36.0 0 0 1 303.60,411.51 L305.36,414.88 A32.2,32.2 0 0 0 302.90,416.30Z" fill="#ececec" stroke="#c4c4c4" stroke-width="0.3"/>
<line x1="303.62" y1="415.39" x2="302.09" y2="412.81" stroke="#9a9a9a" stroke-width="0.75" />
<line x1="304.78" y1="414.73" x2="303.35" y2="412.09" stroke="#7c7c7c" stroke-width="0.75" />
<path d="M300.04,411.73 A37.6,37.6 0 0 1 302.80,410.12" fill="none" stroke="#a5a5a5" stroke-width="0.8"/>
<text x="299.39" y="409.14" font-size="5" fill="#222" text-anchor="middle" transform="rotate(329.8 299.39 407.44)">22</text>
<path d="M304.83,410.89 A36.0,36.0 0 0 1 314.07,407.94 L314.73,411.69 A32.2,32.2 0 0 0 306.47,414.32Z" fill="#ececec" stroke="#c4c4c4" stroke-width="0.3"/>
<line x1="306.75" y1="413.75" x2="305.50" y2="411.02" stroke="#8a8a8a" stroke-width="0.75" />
<line x1="308.00" y1="413.21" x2="306.86" y2="410.43" stroke="#7c7c7c" stroke-width="0.75" />
<line x1="309.91" y1="412.50" x2="308.96" y2="409.65" stroke="#b4b4b4" stroke-width="0.75" />
<line x1="311.33" y1="412.06" x2="310.51" y2="409.17" stroke="#7c7c7c" stroke-width="0.75" />
<line x1="312.56" y1="411.73" x2="311.85" y2="408.82" stroke="#6a6a6a" stroke-width="0.75" />
<line x1="314.05" y1="411.40" x2="313.48" y2="408.46" stroke="#9a9a9a" stroke-width="0.75" />
<path d="M304.21,409.42 A37.6,37.6 0 0 1 313.73,406.38" fill="none" stroke="#a5a5a5" stroke-width="0.8"/>
<text x="307.65" y="405.47" font-size="5" fill="#222" text-anchor="middle" transform="rotate(342.3 307.65 403.77)">X</text>
<path d="M315.44,407.73 A36.0,36.0 0 0 1 318.98,407.42 L319.12,411.22 A32.2,32.2 0 0 0 315.95,411.49Z" fill="#ececec" stroke="#c4c4c4" stroke-width="0.3"/>
<line x1="316.31" y1="411.05" x2="315.94" y2="408.07" stroke="#b4b4b4" stroke-width="0.75" />
<line x1="318.68" y1="410.84" x2="318.53" y2="407.84" stroke="#7c7c7c" stroke-width="0.75" />
<path d="M315.29,406.14 A37.6,37.6 0 0 1 318.86,405.83" fill="none" stroke="#a5a5a5" stroke-width="0.8"/>
<text x="316.73" y="403.65" font-size="5" fill="#222" text-anchor="middle" transform="rotate(355.1 316.73 401.95)">Y</text>
<line x1="28.80" y1="421.20" x2="34.60" y2="427.30" stroke="#5cb1e4" stroke-width="1.0" />
<line x1="22.10" y1="430.20" x2="29.80" y2="434.20" stroke="#5cb1e4" stroke-width="1.0" />
<line x1="73.70" y1="424.00" x2="67.30" y2="429.80" stroke="#5cb1e4" stroke-width="1.0" />
<line x1="72.10" y1="448.00" x2="79.80" y2="450.40" stroke="#5cb1e4" stroke-width="1.0" />
<line x1="140.60" y1="412.50" x2="140.60" y2="420.80" stroke="#5cb1e4" stroke-width="1.0" />
<line x1="116.20" y1="423.50" x2="122.90" y2="428.80" stroke="#5cb1e4" stroke-width="1.0" />
<line x1="121.90" y1="468.80" x2="126.70" y2="462.50" stroke="#5cb1e4" stroke-width="1.0" />
<line x1="128.70" y1="472.70" x2="131.50" y2="465.40" stroke="#5cb1e4" stroke-width="1.0" />
<path d="M232.35,411.98 Q230.10,443.40 215.28,471.20" fill="none" stroke="#e2342c" stroke-width="0.85" opacity="1"/>
<path d="M213.44,416.66 Q230.10,443.40 236.84,474.17" fill="none" stroke="#e2342c" stroke-width="0.85" opacity="1"/>
<path d="M203.37,426.74 Q230.10,443.40 259.30,431.58" fill="none" stroke="#e2342c" stroke-width="0.85" opacity="1"/>
<path d="M201.72,457.07 Q230.10,443.40 258.29,457.45" fill="none" stroke="#e2342c" stroke-width="0.85" opacity="1"/>
<path d="M198.61,444.25 Q213.33,439.07 202.96,427.41" fill="none" stroke="#e2342c" stroke-width="0.85" opacity="1"/>
<path d="M214.97,415.77 Q218.29,428.64 206.47,422.57" fill="none" stroke="#e2342c" stroke-width="0.85" opacity="1"/>
<path d="M203.18,427.05 Q227.52,445.20 236.11,474.32" fill="none" stroke="#e2342c" stroke-width="0.85" opacity="1"/>
<path d="M211.68,468.95 Q225.38,443.16 214.37,416.11" fill="none" stroke="#e2342c" stroke-width="0.85" opacity="1"/>
<line x1="241.54" y1="416.08" x2="238.46" y2="423.00" stroke="#5cb1e4" stroke-width="1.0" />
<line x1="250.77" y1="435.31" x2="257.69" y2="432.54" stroke="#3a6fb0" stroke-width="1.0" />
<line x1="198.92" y1="439.92" x2="206.15" y2="440.69" stroke="#5cb1e4" stroke-width="1.0" />
<line x1="198.92" y1="446.85" x2="206.62" y2="446.08" stroke="#5cb1e4" stroke-width="1.0" />
<line x1="207.69" y1="466.08" x2="213.85" y2="460.23" stroke="#5cb1e4" stroke-width="1.0" />
<line x1="211.54" y1="469.15" x2="216.92" y2="463.00" stroke="#5cb1e4" stroke-width="1.0" />
<line x1="207.69" y1="421.46" x2="213.08" y2="427.62" stroke="#3a6fb0" stroke-width="1.0" />
<path d="M336.07,417.18 Q320.27,443.05 300.54,420.03" fill="none" stroke="#e0261f" stroke-width="0.6" opacity="0.95"/>
<path d="M349.74,435.07 Q329.66,451.55 316.10,473.71" fill="none" stroke="#e0261f" stroke-width="0.6" opacity="0.95"/>
<path d="M320.07,474.00 Q308.63,446.85 303.47,417.84" fill="none" stroke="#e0261f" stroke-width="0.6" opacity="0.95"/>
<path d="M350.74,440.25 Q321.74,450.58 291.02,452.27" fill="none" stroke="#e0261f" stroke-width="0.6" opacity="0.95"/>
<path d="M289.71,442.54 Q314.94,450.50 329.53,472.58" fill="none" stroke="#e0261f" stroke-width="0.6" opacity="0.95"/>
<path d="M345.23,461.15 Q319.89,445.50 290.49,450.33" fill="none" stroke="#e0261f" stroke-width="0.6" opacity="0.95"/>
<path d="M294.79,426.50 Q311.81,449.08 326.19,473.43" fill="none" stroke="#e0261f" stroke-width="0.6" opacity="0.95"/>
<path d="M347.07,428.58 Q326.79,451.85 299.08,465.45" fill="none" stroke="#e0261f" stroke-width="0.6" opacity="0.95"/>
<path d="M305.70,470.29 Q314.48,445.97 290.58,436.10" fill="none" stroke="#e0261f" stroke-width="0.6" opacity="0.95"/>
<path d="M300.08,420.43 Q320.85,440.82 348.09,430.60" fill="none" stroke="#e0261f" stroke-width="0.6" opacity="0.95"/>
<path d="M349.31,453.13 Q328.79,435.47 312.60,413.78" fill="none" stroke="#e0261f" stroke-width="0.6" opacity="0.95"/>
<path d="M345.56,426.14 Q323.68,443.84 340.24,466.61" fill="none" stroke="#e0261f" stroke-width="0.6" opacity="0.95"/>
<path d="M347.43,457.56 Q321.43,441.49 294.86,426.39" fill="none" stroke="#e0261f" stroke-width="0.6" opacity="0.95"/>
<path d="M347.29,457.82 Q323.86,456.35 304.49,469.60" fill="none" stroke="#e0261f" stroke-width="0.6" opacity="0.95"/>
<path d="M289.97,447.48 Q308.45,437.47 305.39,416.68" fill="none" stroke="#e0261f" stroke-width="0.6" opacity="0.95"/>
<path d="M338.54,418.83 Q333.00,448.12 318.07,473.92" fill="none" stroke="#e0261f" stroke-width="0.6" opacity="0.95"/>
<path d="M290.91,434.88 Q315.79,447.34 324.83,473.66" fill="none" stroke="#e0261f" stroke-width="0.6" opacity="0.95"/>
<path d="M349.17,433.25 Q320.30,441.93 291.41,433.30" fill="none" stroke="#e0261f" stroke-width="0.6" opacity="0.95"/>
<path d="M349.76,435.13 Q320.54,443.80 299.41,465.76" fill="none" stroke="#e0261f" stroke-width="0.6" opacity="0.95"/>
<path d="M338.44,468.04 Q329.82,444.13 341.99,421.81" fill="none" stroke="#e0261f" stroke-width="0.6" opacity="0.95"/>
<path d="M320.21,474.00 Q326.34,445.45 338.82,419.04" fill="none" stroke="#e0261f" stroke-width="0.6" opacity="0.95"/>
<path d="M344.10,424.16 Q318.00,438.33 290.16,448.67" fill="none" stroke="#e0261f" stroke-width="0.6" opacity="0.95"/>
<path d="M289.75,445.14 Q315.52,446.89 309.34,471.97" fill="none" stroke="#e0261f" stroke-width="0.6" opacity="0.95"/>
<path d="M306.58,470.75 Q323.07,448.50 350.71,446.80" fill="none" stroke="#e0261f" stroke-width="0.6" opacity="0.95"/>
<path d="M350.62,439.29 Q325.11,432.28 302.53,418.49" fill="none" stroke="#e0261f" stroke-width="0.6" opacity="0.95"/>
<path d="M290.05,438.79 Q313.29,452.82 333.39,471.06" fill="none" stroke="#e0261f" stroke-width="0.6" opacity="0.95"/>
<path d="M292.65,456.50 Q320.90,449.62 349.95,450.95" fill="none" stroke="#e0261f" stroke-width="0.6" opacity="0.95"/>
<path d="M348.53,455.20 Q321.18,442.38 304.36,417.28" fill="none" stroke="#e0261f" stroke-width="0.6" opacity="0.95"/>
<path d="M335.11,470.18 Q329.95,445.20 343.78,423.78" fill="none" stroke="#e0261f" stroke-width="0.6" opacity="0.95"/>
<path d="M298.04,464.40 Q314.59,442.22 308.19,415.30" fill="none" stroke="#e0261f" stroke-width="0.6" opacity="0.95"/>
<path d="M328.80,472.80 Q325.94,443.49 329.71,414.28" fill="none" stroke="#e0261f" stroke-width="0.6" opacity="0.95"/>
<path d="M293.01,457.25 Q318.92,445.51 318.41,473.94" fill="none" stroke="#e0261f" stroke-width="0.6" opacity="0.95"/>
<path d="M295.05,460.68 Q319.87,448.74 342.49,464.47" fill="none" stroke="#e0261f" stroke-width="0.6" opacity="0.95"/>
<path d="M322.25,473.94 Q320.54,443.87 344.00,462.75" fill="none" stroke="#e0261f" stroke-width="0.6" opacity="0.95"/>
<path d="M312.07,472.87 Q311.16,449.08 290.23,437.75" fill="none" stroke="#e0261f" stroke-width="0.6" opacity="0.95"/>
<path d="M309.14,414.91 Q318.98,443.85 328.74,472.81" fill="none" stroke="#e0261f" stroke-width="0.6" opacity="0.95"/>
<path d="M306.48,470.70 Q328.62,448.72 339.28,419.40" fill="none" stroke="#e0261f" stroke-width="0.6" opacity="0.95"/>
<path d="M317.96,473.91 Q330.74,448.02 341.32,421.16" fill="none" stroke="#e0261f" stroke-width="0.6" opacity="0.95"/>
<path d="M316.14,473.72 Q307.29,444.48 311.20,414.18" fill="none" stroke="#e0261f" stroke-width="0.6" opacity="0.95"/>
<path d="M349.94,435.81 Q321.37,438.10 295.94,424.88" fill="none" stroke="#e0261f" stroke-width="0.6" opacity="0.95"/>
<path d="M289.80,440.96 Q310.18,434.38 314.38,413.38" fill="none" stroke="#e0261f" stroke-width="0.6" opacity="0.95"/>
<path d="M344.42,462.23 Q321.84,446.85 318.26,473.93" fill="none" stroke="#e0261f" stroke-width="0.6" opacity="0.95"/>
<path d="M338.34,468.12 Q321.72,448.99 316.25,473.73" fill="none" stroke="#e0261f" stroke-width="0.6" opacity="0.95"/>
<path d="M334.95,470.27 Q325.15,443.33 334.15,416.11" fill="none" stroke="#e0261f" stroke-width="0.6" opacity="0.95"/>
<path d="M350.76,446.31 Q325.88,451.95 310.69,472.45" fill="none" stroke="#e0261f" stroke-width="0.6" opacity="0.95"/>
<path d="M309.02,414.95 Q317.43,444.32 327.73,473.09" fill="none" stroke="#e0261f" stroke-width="0.6" opacity="0.95"/>
<path d="M291.29,433.67 Q320.47,440.49 350.26,437.19" fill="none" stroke="#e0261f" stroke-width="0.6" opacity="0.95"/>
<path d="M342.51,422.35 Q319.38,432.29 294.93,426.29" fill="none" stroke="#e0261f" stroke-width="0.6" opacity="0.95"/>
<path d="M297.44,463.74 Q314.74,438.02 339.85,419.86" fill="none" stroke="#e0261f" stroke-width="0.6" opacity="0.95"/>
<path d="M350.55,438.80 Q324.35,440.70 336.17,417.24" fill="none" stroke="#e0261f" stroke-width="0.6" opacity="0.95"/>
<path d="M296.87,463.08 Q319.40,454.60 340.29,466.57" fill="none" stroke="#e0261f" stroke-width="0.6" opacity="0.95"/>
<path d="M326.39,473.39 Q314.54,448.28 291.72,432.47" fill="none" stroke="#e0261f" stroke-width="0.6" opacity="0.95"/>
<path d="M341.96,421.79 Q320.45,438.52 300.03,420.48" fill="none" stroke="#e0261f" stroke-width="0.6" opacity="0.95"/>
<path d="M295.62,425.31 Q320.63,438.23 347.09,428.62" fill="none" stroke="#e0261f" stroke-width="0.6" opacity="0.95"/>
<path d="M350.89,444.08 Q320.70,445.93 291.44,453.57" fill="none" stroke="#e0261f" stroke-width="0.6" opacity="0.95"/>
<path d="M320.82,412.80 Q317.02,441.35 293.02,457.26" fill="none" stroke="#e0261f" stroke-width="0.6" opacity="0.95"/>
<path d="M350.88,442.43 Q323.56,449.14 303.77,469.15" fill="none" stroke="#e0261f" stroke-width="0.6" opacity="0.95"/>
<path d="M333.59,470.96 Q329.32,442.37 327.03,413.55" fill="none" stroke="#e0261f" stroke-width="0.6" opacity="0.95"/>
<path d="M343.58,463.26 Q331.87,445.54 349.15,433.19" fill="none" stroke="#e0261f" stroke-width="0.6" opacity="0.95"/>
<path d="M331.04,414.75 Q315.32,431.97 292.00,431.76" fill="none" stroke="#e0261f" stroke-width="0.6" opacity="0.95"/>
<path d="M290.40,436.91 Q313.24,434.39 321.14,412.81" fill="none" stroke="#e0261f" stroke-width="0.6" opacity="0.95"/>
<path d="M297.58,463.90 Q320.15,443.45 289.72,442.26" fill="none" stroke="#e0261f" stroke-width="0.6" opacity="0.95"/>
<path d="M311.17,414.19 Q316.87,443.13 306.74,470.83" fill="none" stroke="#e0261f" stroke-width="0.6" opacity="0.95"/>
<path d="M338.52,418.82 Q323.43,442.65 347.68,457.06" fill="none" stroke="#e0261f" stroke-width="0.6" opacity="0.95"/>
<path d="M290.12,438.37 Q319.86,441.34 345.81,426.50" fill="none" stroke="#e0261f" stroke-width="0.6" opacity="0.95"/>
<path d="M302.96,418.19 Q318.00,443.15 297.87,464.21" fill="none" stroke="#e0261f" stroke-width="0.6" opacity="0.95"/>
<path d="M300.96,419.68 Q310.47,447.78 325.01,473.64" fill="none" stroke="#e0261f" stroke-width="0.6" opacity="0.95"/>
<path d="M293.63,458.40 Q315.58,453.17 325.12,473.62" fill="none" stroke="#e0261f" stroke-width="0.6" opacity="0.95"/>
<path d="M294.34,427.20 Q318.58,434.02 338.81,419.04" fill="none" stroke="#e0261f" stroke-width="0.6" opacity="0.95"/>
<path d="M314.42,473.43 Q324.57,447.67 350.32,437.47" fill="none" stroke="#e0261f" stroke-width="0.6" opacity="0.95"/>
<path d="M299.73,420.74 Q317.30,445.46 334.10,470.71" fill="none" stroke="#e0261f" stroke-width="0.6" opacity="0.95"/>
<path d="M350.75,440.36 Q325.94,447.18 329.08,472.71" fill="none" stroke="#e0261f" stroke-width="0.6" opacity="0.95"/>
<path d="M331.29,414.84 Q322.21,443.96 314.03,473.35" fill="none" stroke="#e0261f" stroke-width="0.6" opacity="0.95"/>
<path d="M321.96,473.96 Q312.88,443.84 318.37,412.86" fill="none" stroke="#e0261f" stroke-width="0.6" opacity="0.95"/>
<path d="M297.08,423.47 Q314.79,433.22 316.30,413.06" fill="none" stroke="#e0261f" stroke-width="0.6" opacity="0.95"/>
<path d="M326.42,473.38 Q329.45,442.96 323.49,412.97" fill="none" stroke="#e0261f" stroke-width="0.6" opacity="0.95"/>
<path d="M294.52,426.91 Q321.80,437.83 350.87,442.11" fill="none" stroke="#e0261f" stroke-width="0.6" opacity="0.95"/>
<path d="M312.80,413.73 Q322.77,434.98 342.65,422.50" fill="none" stroke="#e0261f" stroke-width="0.6" opacity="0.95"/>
<path d="M297.20,463.47 Q312.27,445.85 289.93,439.67" fill="none" stroke="#e0261f" stroke-width="0.6" opacity="0.95"/>
<path d="M292.40,455.98 Q317.62,447.07 316.81,473.80" fill="none" stroke="#e0261f" stroke-width="0.6" opacity="0.95"/>
<path d="M316.79,413.00 Q313.65,443.99 322.23,473.94" fill="none" stroke="#e0261f" stroke-width="0.6" opacity="0.95"/>
<path d="M301.94,418.92 Q318.22,433.73 326.98,413.54" fill="none" stroke="#e0261f" stroke-width="0.6" opacity="0.95"/>
<path d="M298.62,465.00 Q309.34,438.86 320.25,412.80" fill="none" stroke="#e0261f" stroke-width="0.6" opacity="0.95"/>
<path d="M343.11,463.80 Q315.82,449.08 295.14,425.99" fill="none" stroke="#e0261f" stroke-width="0.6" opacity="0.95"/>
<path d="M289.96,439.46 Q317.03,438.38 328.94,414.05" fill="none" stroke="#e0261f" stroke-width="0.6" opacity="0.95"/>
<path d="M334.64,470.43 Q330.97,439.44 313.51,413.56" fill="none" stroke="#e0261f" stroke-width="0.6" opacity="0.95"/>
<path d="M349.80,451.55 Q325.18,440.73 329.35,414.17" fill="none" stroke="#e0261f" stroke-width="0.6" opacity="0.95"/>
<path d="M319.58,473.99 Q314.30,446.95 293.14,429.31" fill="none" stroke="#e0261f" stroke-width="0.6" opacity="0.95"/>
<path d="M315.51,413.18 Q309.66,441.01 303.07,468.69" fill="none" stroke="#e0261f" stroke-width="0.6" opacity="0.95"/>
<path d="M347.03,458.29 Q320.05,447.51 291.95,454.91" fill="none" stroke="#e0261f" stroke-width="0.6" opacity="0.95"/>
<path d="M304.48,469.60 Q327.24,451.67 348.84,432.37" fill="none" stroke="#e0261f" stroke-width="0.6" opacity="0.95"/>
<path d="M327.92,413.76 Q311.77,434.69 290.51,450.40" fill="none" stroke="#e0261f" stroke-width="0.6" opacity="0.95"/>
<path d="M311.69,472.76 Q317.46,446.41 291.50,453.74" fill="none" stroke="#e0261f" stroke-width="0.6" opacity="0.95"/>
<path d="M321.49,412.82 Q329.85,435.05 350.76,446.29" fill="none" stroke="#e0261f" stroke-width="0.6" opacity="0.95"/>
<path d="M300.99,467.14 Q325.53,452.93 350.70,439.87" fill="none" stroke="#e0261f" stroke-width="0.6" opacity="0.95"/>
<path d="M303.87,417.58 Q312.17,445.86 320.93,473.99" fill="none" stroke="#e0261f" stroke-width="0.6" opacity="0.95"/>
<path d="M298.42,464.79 Q322.68,451.26 350.37,449.05" fill="none" stroke="#e0261f" stroke-width="0.6" opacity="0.95"/>
<path d="M292.53,456.26 Q311.97,439.53 312.20,413.89" fill="none" stroke="#e0261f" stroke-width="0.6" opacity="0.95"/>
<path d="M328.30,472.93 Q321.60,443.91 346.36,427.36" fill="none" stroke="#e0261f" stroke-width="0.6" opacity="0.95"/>
<path d="M348.09,430.60 Q330.97,443.48 347.89,456.63" fill="none" stroke="#e0261f" stroke-width="0.6" opacity="0.95"/>
<path d="M304.57,417.15 Q315.29,444.21 313.59,473.25" fill="none" stroke="#e0261f" stroke-width="0.6" opacity="0.95"/>
<path d="M292.83,429.92 Q313.22,446.52 311.68,472.76" fill="none" stroke="#e0261f" stroke-width="0.6" opacity="0.95"/>
<path d="M350.86,444.94 Q322.74,448.67 301.69,467.69" fill="none" stroke="#e0261f" stroke-width="0.6" opacity="0.95"/>
<path d="M348.11,456.16 Q318.02,451.94 289.83,440.60" fill="none" stroke="#e0261f" stroke-width="0.6" opacity="0.95"/>
<path d="M307.95,415.40 Q320.82,435.60 336.28,417.30" fill="none" stroke="#e0261f" stroke-width="0.6" opacity="0.95"/>
<path d="M327.79,413.73 Q328.95,436.35 350.87,442.04" fill="none" stroke="#e0261f" stroke-width="0.6" opacity="0.95"/>
<path d="M306.35,470.64 Q320.76,449.53 338.14,468.26" fill="none" stroke="#e0261f" stroke-width="0.6" opacity="0.95"/>
<path d="M323.01,412.92 Q328.31,441.88 333.96,470.78" fill="none" stroke="#e0261f" stroke-width="0.6" opacity="0.95"/>
<path d="M308.63,415.11 Q315.66,438.78 291.97,431.84" fill="none" stroke="#e0261f" stroke-width="0.6" opacity="0.95"/>
<path d="M336.30,469.48 Q319.87,452.26 301.87,467.82" fill="none" stroke="#e0261f" stroke-width="0.6" opacity="0.95"/>
<path d="M350.04,436.21 Q320.49,443.50 331.31,471.95" fill="none" stroke="#e0261f" stroke-width="0.6" opacity="0.95"/>
<path d="M321.22,412.81 Q318.81,442.63 295.81,461.74" fill="none" stroke="#e0261f" stroke-width="0.6" opacity="0.95"/>
<path d="M313.88,413.48 Q324.44,432.16 344.60,424.80" fill="none" stroke="#e0261f" stroke-width="0.6" opacity="0.95"/>
<path d="M342.47,422.31 Q329.54,439.84 350.89,444.15" fill="none" stroke="#e0261f" stroke-width="0.6" opacity="0.95"/>
<path d="M350.86,441.91 Q321.59,441.16 306.22,416.23" fill="none" stroke="#e0261f" stroke-width="0.6" opacity="0.95"/>
<path d="M329.78,414.31 Q314.86,435.21 289.81,440.85" fill="none" stroke="#e0261f" stroke-width="0.6" opacity="0.95"/>
<path d="M296.18,424.57 Q319.21,443.79 313.78,473.30" fill="none" stroke="#e0261f" stroke-width="0.6" opacity="0.95"/>
<path d="M298.18,464.54 Q321.88,449.54 349.87,451.26" fill="none" stroke="#e0261f" stroke-width="0.6" opacity="0.95"/>
<path d="M307.68,415.52 Q327.18,432.04 350.85,441.68" fill="none" stroke="#e0261f" stroke-width="0.6" opacity="0.95"/>
<path d="M290.35,449.66 Q320.10,443.37 294.18,427.46" fill="none" stroke="#e0261f" stroke-width="0.6" opacity="0.95"/>
<path d="M295.47,461.28 Q320.13,444.48 338.67,467.87" fill="none" stroke="#e0261f" stroke-width="0.6" opacity="0.95"/>
<path d="M348.68,454.85 Q322.15,442.06 318.29,412.87" fill="none" stroke="#e0261f" stroke-width="0.6" opacity="0.95"/>
<path d="M296.84,423.75 Q320.81,442.75 345.02,461.44" fill="none" stroke="#e0261f" stroke-width="0.6" opacity="0.95"/>
<path d="M342.92,464.00 Q325.11,439.75 306.56,416.06" fill="none" stroke="#e0261f" stroke-width="0.6" opacity="0.95"/>
<path d="M292.87,456.97 Q309.64,440.75 302.42,418.57" fill="none" stroke="#e0261f" stroke-width="0.6" opacity="0.95"/>
<line x1="343.47" y1="463.38" x2="336.62" y2="457.32" stroke="#e0261f" stroke-width="0.9314424907181859" opacity="0.9"/>
<line x1="290.49" y1="436.49" x2="300.18" y2="438.64" stroke="#9a3a6a" stroke-width="0.8754329753513951" opacity="0.9"/>
<line x1="331.68" y1="414.99" x2="328.59" y2="424.01" stroke="#9a3a6a" stroke-width="0.8992240154872456" opacity="0.9"/>
<line x1="301.42" y1="467.48" x2="307.57" y2="459.40" stroke="#9a3a6a" stroke-width="0.8851586442500423" opacity="0.9"/>
<line x1="333.58" y1="470.97" x2="329.89" y2="463.99" stroke="#9a3a6a" stroke-width="1.061069249085093" opacity="0.9"/>
<line x1="301.72" y1="419.09" x2="305.59" y2="425.48" stroke="#e0261f" stroke-width="0.8578267318070962" opacity="0.9"/>
<line x1="334.62" y1="470.44" x2="329.41" y2="461.79" stroke="#e0261f" stroke-width="0.7253779454016154" opacity="0.9"/>
<line x1="293.79" y1="428.12" x2="302.80" y2="433.19" stroke="#e0261f" stroke-width="0.8643092094750866" opacity="0.9"/>
<line x1="295.68" y1="425.23" x2="303.63" y2="430.34" stroke="#e0261f" stroke-width="0.9081119471843125" opacity="0.9"/>
<line x1="335.89" y1="417.07" x2="330.43" y2="425.45" stroke="#e0261f" stroke-width="1.1501104878881154" opacity="0.9"/>
<line x1="307.57" y1="415.57" x2="311.57" y2="423.68" stroke="#5cb1e4" stroke-width="0.9791937546804814" opacity="0.9"/>
<line x1="349.77" y1="435.16" x2="340.48" y2="438.19" stroke="#5cb1e4" stroke-width="0.9758304739321555" opacity="0.9"/>
<line x1="336.32" y1="417.33" x2="330.83" y2="425.53" stroke="#e0261f" stroke-width="1.0477542572664005" opacity="0.9"/>
<line x1="301.84" y1="419.00" x2="307.00" y2="425.88" stroke="#9a3a6a" stroke-width="1.0535971799576416" opacity="0.9"/>
<line x1="348.69" y1="431.98" x2="342.41" y2="434.87" stroke="#5cb1e4" stroke-width="0.917695462306735" opacity="0.9"/>
<line x1="308.25" y1="471.53" x2="312.13" y2="463.84" stroke="#5cb1e4" stroke-width="0.7267566751954769" opacity="0.9"/>
<line x1="319.75" y1="412.80" x2="320.09" y2="419.33" stroke="#5cb1e4" stroke-width="1.1724085289913688" opacity="0.9"/>
<line x1="345.73" y1="426.38" x2="339.33" y2="430.71" stroke="#e0261f" stroke-width="0.7123420645032141" opacity="0.9"/>
<line x1="326.71" y1="413.48" x2="324.53" y2="423.58" stroke="#9a3a6a" stroke-width="1.0403103703867633" opacity="0.9"/>
<line x1="350.82" y1="445.63" x2="342.65" y2="445.73" stroke="#e0261f" stroke-width="1.1603493776609906" opacity="0.9"/>
<line x1="292.52" y1="430.57" x2="298.81" y2="434.31" stroke="#9a3a6a" stroke-width="0.8205934673306986" opacity="0.9"/>
<line x1="348.05" y1="430.50" x2="342.42" y2="433.22" stroke="#5cb1e4" stroke-width="1.2224001513670548" opacity="0.9"/>
<line x1="328.23" y1="472.95" x2="326.08" y2="462.60" stroke="#9a3a6a" stroke-width="1.0588409094803426" opacity="0.9"/>
<line x1="338.69" y1="467.86" x2="332.47" y2="459.02" stroke="#5cb1e4" stroke-width="1.0386857073003406" opacity="0.9"/>
<line x1="296.64" y1="462.81" x2="303.97" y2="457.00" stroke="#9a3a6a" stroke-width="0.9690060593919206" opacity="0.9"/>
<line x1="346.11" y1="426.96" x2="336.66" y2="432.53" stroke="#9a3a6a" stroke-width="0.7231790018456296" opacity="0.9"/>
<line x1="350.88" y1="444.53" x2="340.34" y2="444.71" stroke="#5cb1e4" stroke-width="1.2023307424147875" opacity="0.9"/>
<line x1="329.21" y1="414.13" x2="326.64" y2="423.32" stroke="#e0261f" stroke-width="1.2912556163225695" opacity="0.9"/>
<line x1="330.80" y1="414.66" x2="328.05" y2="424.07" stroke="#5cb1e4" stroke-width="1.1061335030863733" opacity="0.9"/>
<line x1="349.47" y1="452.63" x2="340.31" y2="449.13" stroke="#e0261f" stroke-width="0.8943510474489094" opacity="0.9"/>
<line x1="350.87" y1="444.75" x2="342.49" y2="443.86" stroke="#5cb1e4" stroke-width="0.8430744773487182" opacity="0.9"/>
<line x1="344.26" y1="424.37" x2="339.74" y2="428.43" stroke="#e0261f" stroke-width="0.8170622533508358" opacity="0.9"/>
<line x1="327.17" y1="413.58" x2="326.26" y2="420.67" stroke="#9a3a6a" stroke-width="1.2200511740435456" opacity="0.9"/>
<line x1="300.60" y1="419.98" x2="305.43" y2="426.70" stroke="#5cb1e4" stroke-width="1.2572671773362716" opacity="0.9"/>
<line x1="294.70" y1="426.64" x2="301.47" y2="431.37" stroke="#e0261f" stroke-width="1.1938364963257992" opacity="0.9"/>
<line x1="324.60" y1="473.70" x2="324.12" y2="466.98" stroke="#e0261f" stroke-width="0.7340358384560332" opacity="0.9"/>
<line x1="290.49" y1="450.31" x2="296.91" y2="448.19" stroke="#e0261f" stroke-width="0.8598380718451575" opacity="0.9"/>
<line x1="336.41" y1="469.42" x2="332.06" y2="463.45" stroke="#5cb1e4" stroke-width="0.9007053142971296" opacity="0.9"/>
<line x1="346.91" y1="428.29" x2="340.62" y2="432.60" stroke="#5cb1e4" stroke-width="0.7685009009541677" opacity="0.9"/>
<line x1="316.20" y1="413.08" x2="317.84" y2="423.43" stroke="#5cb1e4" stroke-width="0.8266951287982276" opacity="0.9"/>
<line x1="324.62" y1="473.69" x2="324.07" y2="466.40" stroke="#5cb1e4" stroke-width="0.9185679708364285" opacity="0.9"/>
<line x1="318.57" y1="412.85" x2="318.61" y2="423.50" stroke="#9a3a6a" stroke-width="0.8736571747763573" opacity="0.9"/>
<line x1="301.73" y1="419.08" x2="307.34" y2="426.92" stroke="#5cb1e4" stroke-width="1.2871787084928576" opacity="0.9"/>
<line x1="323.38" y1="412.96" x2="322.03" y2="420.57" stroke="#e0261f" stroke-width="0.7011538183222633" opacity="0.9"/>
<line x1="293.70" y1="428.28" x2="299.67" y2="431.80" stroke="#e0261f" stroke-width="1.2471888262433137" opacity="0.9"/>
<line x1="350.29" y1="437.34" x2="343.62" y2="438.14" stroke="#e0261f" stroke-width="1.162267446057887" opacity="0.9"/>
<line x1="290.59" y1="450.71" x2="296.97" y2="449.86" stroke="#5cb1e4" stroke-width="1.065133461643082" opacity="0.9"/>
<line x1="321.17" y1="473.99" x2="320.78" y2="466.96" stroke="#5cb1e4" stroke-width="1.1246545626004547" opacity="0.9"/>
<line x1="291.96" y1="431.85" x2="298.20" y2="435.16" stroke="#e0261f" stroke-width="1.1396291517595738" opacity="0.9"/>
<line x1="337.00" y1="469.04" x2="333.13" y2="464.06" stroke="#e0261f" stroke-width="0.9011316401440996" opacity="0.9"/>
<line x1="294.66" y1="426.70" x2="301.36" y2="431.95" stroke="#9a3a6a" stroke-width="1.2461295787825315" opacity="0.9"/>
<line x1="324.78" y1="473.67" x2="324.21" y2="466.34" stroke="#9a3a6a" stroke-width="1.1989736943798366" opacity="0.9"/>
<line x1="342.98" y1="463.94" x2="337.06" y2="458.78" stroke="#5cb1e4" stroke-width="0.7027836919851163" opacity="0.9"/>
<line x1="316.50" y1="473.76" x2="318.14" y2="465.32" stroke="#5cb1e4" stroke-width="1.1287539686771901" opacity="0.9"/>
<line x1="292.34" y1="430.98" x2="299.43" y2="433.76" stroke="#9a3a6a" stroke-width="0.9288334738149275" opacity="0.9"/>
<line x1="289.70" y1="443.15" x2="300.08" y2="442.59" stroke="#5cb1e4" stroke-width="0.9968821217705557" opacity="0.9"/>
<line x1="317.74" y1="473.89" x2="319.20" y2="465.29" stroke="#e0261f" stroke-width="1.2804557714846112" opacity="0.9"/>
<line x1="350.48" y1="438.37" x2="343.99" y2="439.02" stroke="#5cb1e4" stroke-width="1.1902922062070103" opacity="0.9"/>
<line x1="326.05" y1="413.34" x2="323.82" y2="422.59" stroke="#5cb1e4" stroke-width="0.7106124095797471" opacity="0.9"/>
<line x1="302.41" y1="468.22" x2="307.19" y2="461.05" stroke="#e0261f" stroke-width="0.7617187441171694" opacity="0.9"/>
<line x1="297.93" y1="422.52" x2="302.05" y2="427.24" stroke="#e0261f" stroke-width="0.9961551454033051" opacity="0.9"/>
<line x1="320.15" y1="474.00" x2="320.34" y2="467.39" stroke="#5cb1e4" stroke-width="0.7821727791798011" opacity="0.9"/>
<line x1="303.61" y1="469.05" x2="307.18" y2="463.34" stroke="#9a3a6a" stroke-width="1.1479471149889184" opacity="0.9"/>
<line x1="346.57" y1="427.71" x2="337.32" y2="433.06" stroke="#e0261f" stroke-width="0.952290446745039" opacity="0.9"/>
<line x1="294.44" y1="427.05" x2="301.56" y2="430.73" stroke="#e0261f" stroke-width="1.1661442802693904" opacity="0.9"/>
<line x1="346.28" y1="459.56" x2="339.82" y2="455.42" stroke="#5cb1e4" stroke-width="1.2887325476009752" opacity="0.9"/>
<line x1="291.47" y1="433.15" x2="301.13" y2="436.06" stroke="#9a3a6a" stroke-width="0.7321319043258417" opacity="0.9"/>
<line x1="316.97" y1="473.82" x2="318.48" y2="463.24" stroke="#9a3a6a" stroke-width="0.9532816842039751" opacity="0.9"/>
<line x1="297.64" y1="463.97" x2="304.50" y2="458.63" stroke="#5cb1e4" stroke-width="0.9598243185912886" opacity="0.9"/>
<line x1="319.38" y1="473.99" x2="318.80" y2="467.26" stroke="#5cb1e4" stroke-width="1.1659477487094947" opacity="0.9"/>
<line x1="308.49" y1="415.17" x2="312.88" y2="424.23" stroke="#e0261f" stroke-width="1.2307853372704989" opacity="0.9"/>
<line x1="326.86" y1="413.51" x2="325.57" y2="420.73" stroke="#e0261f" stroke-width="0.8640598653029621" opacity="0.9"/>
<line x1="312.27" y1="472.93" x2="315.02" y2="464.24" stroke="#9a3a6a" stroke-width="1.01218300020844" opacity="0.9"/>
<line x1="332.68" y1="471.38" x2="329.96" y2="464.45" stroke="#9a3a6a" stroke-width="1.0885120578124146" opacity="0.9"/>
<line x1="341.30" y1="421.14" x2="333.92" y2="429.00" stroke="#e0261f" stroke-width="0.8610469151339265" opacity="0.9"/>
<line x1="326.71" y1="473.32" x2="325.91" y2="466.59" stroke="#e0261f" stroke-width="0.7788215795987418" opacity="0.9"/>
<line x1="349.76" y1="451.68" x2="342.70" y2="449.26" stroke="#5cb1e4" stroke-width="0.7527083340603273" opacity="0.9"/>
<line x1="311.52" y1="472.71" x2="314.02" y2="464.01" stroke="#e0261f" stroke-width="1.0902144076823508" opacity="0.9"/>
<line x1="349.47" y1="434.16" x2="341.58" y2="436.74" stroke="#e0261f" stroke-width="1.0676798111700527" opacity="0.9"/>
<line x1="326.23" y1="473.42" x2="325.28" y2="466.25" stroke="#5cb1e4" stroke-width="1.0074696997370522" opacity="0.9"/>
<line x1="340.80" y1="466.12" x2="336.93" y2="461.45" stroke="#e0261f" stroke-width="1.2171191287878673" opacity="0.9"/>
<line x1="350.82" y1="441.20" x2="342.36" y2="441.48" stroke="#e0261f" stroke-width="1.292506311309968" opacity="0.9"/>
<line x1="349.66" y1="452.03" x2="343.33" y2="449.42" stroke="#e0261f" stroke-width="1.2227637589633238" opacity="0.9"/>
<line x1="331.57" y1="471.85" x2="328.73" y2="464.43" stroke="#5cb1e4" stroke-width="1.1412478034027476" opacity="0.9"/>
<line x1="339.69" y1="419.73" x2="333.10" y2="428.29" stroke="#5cb1e4" stroke-width="0.7927129659805525" opacity="0.9"/>
<line x1="346.44" y1="459.31" x2="338.34" y2="454.58" stroke="#5cb1e4" stroke-width="1.2099955451939142" opacity="0.9"/>
<line x1="292.71" y1="430.16" x2="301.61" y2="434.04" stroke="#e0261f" stroke-width="1.1558164998692249" opacity="0.9"/>
<line x1="325.04" y1="473.63" x2="322.96" y2="464.29" stroke="#e0261f" stroke-width="0.776363583265396" opacity="0.9"/>
<line x1="298.10" y1="422.34" x2="305.32" y2="429.01" stroke="#5cb1e4" stroke-width="0.9987299132235054" opacity="0.9"/>
<line x1="313.20" y1="413.63" x2="315.51" y2="421.40" stroke="#e0261f" stroke-width="1.2236567659142594" opacity="0.9"/>
<line x1="301.19" y1="467.30" x2="306.40" y2="460.89" stroke="#5cb1e4" stroke-width="1.1338364780811312" opacity="0.9"/>
<line x1="349.79" y1="451.55" x2="341.38" y2="449.04" stroke="#5cb1e4" stroke-width="0.893196260959336" opacity="0.9"/>
<line x1="290.53" y1="436.34" x2="298.78" y2="438.38" stroke="#e0261f" stroke-width="0.8105269515672665" opacity="0.9"/>
<line x1="349.15" y1="453.59" x2="340.74" y2="450.75" stroke="#5cb1e4" stroke-width="0.7527578390611915" opacity="0.9"/>
<line x1="305.59" y1="416.57" x2="310.92" y2="425.30" stroke="#5cb1e4" stroke-width="1.275257933106209" opacity="0.9"/>
<line x1="349.65" y1="434.74" x2="339.32" y2="437.07" stroke="#5cb1e4" stroke-width="0.7284652483010977" opacity="0.9"/>
<line x1="308.16" y1="471.49" x2="312.02" y2="461.60" stroke="#5cb1e4" stroke-width="1.023099763482774" opacity="0.9"/>
<line x1="319.98" y1="412.80" x2="320.35" y2="421.39" stroke="#e0261f" stroke-width="0.9337105473767897" opacity="0.9"/>
<line x1="344.16" y1="462.56" x2="337.65" y2="458.26" stroke="#e0261f" stroke-width="1.1058863255453213" opacity="0.9"/>
<line x1="315.47" y1="473.62" x2="316.86" y2="465.87" stroke="#5cb1e4" stroke-width="1.0368032064813928" opacity="0.9"/>
<line x1="306.57" y1="470.75" x2="311.44" y2="461.08" stroke="#9a3a6a" stroke-width="0.9640980277985098" opacity="0.9"/>
<line x1="298.72" y1="465.09" x2="304.13" y2="459.59" stroke="#9a3a6a" stroke-width="1.1895316441010362" opacity="0.9"/>
<line x1="347.18" y1="428.78" x2="337.82" y2="434.38" stroke="#5cb1e4" stroke-width="1.0075561635594927" opacity="0.9"/>
<line x1="339.88" y1="419.89" x2="334.19" y2="427.45" stroke="#9a3a6a" stroke-width="1.2941491254071014" opacity="0.9"/>
<line x1="300.52" y1="420.05" x2="304.64" y2="425.45" stroke="#5cb1e4" stroke-width="1.0069636816134788" opacity="0.9"/>
<line x1="319.36" y1="473.99" x2="319.36" y2="467.07" stroke="#5cb1e4" stroke-width="1.061876586556227" opacity="0.9"/>
<line x1="344.69" y1="461.88" x2="337.78" y2="455.78" stroke="#9a3a6a" stroke-width="0.9468505755546707" opacity="0.9"/>
<line x1="290.55" y1="436.23" x2="299.58" y2="439.16" stroke="#5cb1e4" stroke-width="0.8826739746223364" opacity="0.9"/>
<line x1="294.69" y1="426.65" x2="302.26" y2="432.15" stroke="#e0261f" stroke-width="0.9987167944116873" opacity="0.9"/>
<line x1="310.25" y1="472.30" x2="313.24" y2="463.57" stroke="#5cb1e4" stroke-width="1.2982658452259788" opacity="0.9"/>
<line x1="306.50" y1="470.71" x2="310.00" y2="465.07" stroke="#5cb1e4" stroke-width="1.1556975283152822" opacity="0.9"/>
<line x1="339.30" y1="419.42" x2="335.08" y2="424.81" stroke="#5cb1e4" stroke-width="1.1938844999709022" opacity="0.9"/>
<line x1="300.35" y1="466.61" x2="305.10" y2="462.35" stroke="#e0261f" stroke-width="1.1623485844381582" opacity="0.9"/>
<line x1="347.75" y1="456.92" x2="341.01" y2="453.01" stroke="#e0261f" stroke-width="0.8599660320372801" opacity="0.9"/>
<line x1="338.20" y1="418.58" x2="332.80" y2="425.68" stroke="#9a3a6a" stroke-width="0.9699030471921093" opacity="0.9"/>
<line x1="340.44" y1="466.44" x2="333.47" y2="458.64" stroke="#5cb1e4" stroke-width="1.2757676901396673" opacity="0.9"/>
<line x1="331.63" y1="471.83" x2="329.63" y2="464.81" stroke="#e0261f" stroke-width="1.258493935705709" opacity="0.9"/>
<line x1="296.09" y1="424.69" x2="304.67" y2="430.76" stroke="#5cb1e4" stroke-width="0.882205929242267" opacity="0.9"/>
<line x1="301.92" y1="467.86" x2="306.46" y2="460.66" stroke="#9a3a6a" stroke-width="0.8457567126033383" opacity="0.9"/>
<line x1="339.84" y1="466.95" x2="335.54" y2="461.28" stroke="#e0261f" stroke-width="1.2251846643318571" opacity="0.9"/>
<line x1="323.30" y1="473.85" x2="323.12" y2="466.61" stroke="#e0261f" stroke-width="0.9150376292124804" opacity="0.9"/>
<line x1="348.50" y1="431.52" x2="341.67" y2="434.51" stroke="#9a3a6a" stroke-width="0.7689318075851255" opacity="0.9"/>
<line x1="313.86" y1="473.31" x2="316.22" y2="465.61" stroke="#5cb1e4" stroke-width="0.7739735070866809" opacity="0.9"/>
<line x1="293.11" y1="429.37" x2="299.30" y2="433.13" stroke="#5cb1e4" stroke-width="0.8701521173617797" opacity="0.9"/>
<line x1="350.80" y1="440.94" x2="341.49" y2="441.45" stroke="#5cb1e4" stroke-width="0.7935360323271141" opacity="0.9"/>
<line x1="100.20" y1="498.70" x2="108.50" y2="498.70" stroke="#e2342c" stroke-width="1.5" />
<text x="111.38" y="501.00" font-size="7.4" fill="#222"  stroke="#222" stroke-width="0.14" textLength="66.66" lengthAdjust="spacingAndGlyphs">Interchromosomal SV</text>
<line x1="193.80" y1="498.70" x2="201.50" y2="498.70" stroke="#5cb1e4" stroke-width="1.5" />
<text x="203.97" y="501.00" font-size="7.4" fill="#222"  stroke="#222" stroke-width="0.14" textLength="66.86" lengthAdjust="spacingAndGlyphs">Intrachromosomal SV</text>
<text x="439.76" y="375.50" font-size="8.2" fill="#111"  stroke="#111" stroke-width="0.14" textLength="67.81" lengthAdjust="spacingAndGlyphs">Breakpoints of SVs</text>
<path d="M447.3,388.8 L447.3,386.5 L504.5,386.5 L504.5,388.8" fill="none" stroke="#d2374f" stroke-width="0.9"/>
<text x="461.07" y="383.20" font-size="6.6" fill="#d2374f"  stroke="#d2374f" stroke-width="0.14" textLength="31.39" lengthAdjust="spacingAndGlyphs">p = 0.0175</text>
<path d="M461.5,399.90000000000003 L461.5,397.6 L504.5,397.6 L504.5,399.90000000000003" fill="none" stroke="#d2374f" stroke-width="0.9"/>
<text x="466.87" y="394.60" font-size="6.6" fill="#d2374f"  stroke="#d2374f" stroke-width="0.14" textLength="31.42" lengthAdjust="spacingAndGlyphs">p = 0.0004</text>
<path d="M490.1,410.8 L490.1,408.5 L504.5,408.5 L504.5,410.8" fill="none" stroke="#d2374f" stroke-width="0.9"/>
<text x="482.00" y="405.60" font-size="6.6" fill="#d2374f"  stroke="#d2374f" stroke-width="0.14" textLength="29.48" lengthAdjust="spacingAndGlyphs">p &lt; 0.0001</text>
<line x1="439.80" y1="411.00" x2="439.80" y2="485.50" stroke="#111" stroke-width="1" />
<line x1="436.30" y1="479.70" x2="439.80" y2="479.70" stroke="#111" stroke-width="0.9" />
<text x="428.42" y="482.40" font-size="7.4" fill="#111"  stroke="#111" stroke-width="0.14" textLength="3.94" lengthAdjust="spacingAndGlyphs">0</text>
<line x1="436.30" y1="447.70" x2="439.80" y2="447.70" stroke="#111" stroke-width="0.9" />
<text x="424.93" y="450.40" font-size="7.4" fill="#111"  stroke="#111" stroke-width="0.14" textLength="7.42" lengthAdjust="spacingAndGlyphs">50</text>
<line x1="436.30" y1="415.70" x2="439.80" y2="415.70" stroke="#111" stroke-width="0.9" />
<text x="420.36" y="418.40" font-size="7.4" fill="#111"  stroke="#111" stroke-width="0.14" textLength="12.02" lengthAdjust="spacingAndGlyphs">100</text>
<line x1="439.30" y1="485.50" x2="508.50" y2="485.50" stroke="#111" stroke-width="1" />
<line x1="447.50" y1="485.50" x2="447.50" y2="488.40" stroke="#111" stroke-width="0.9" />
<line x1="461.60" y1="485.50" x2="461.60" y2="488.40" stroke="#111" stroke-width="0.9" />
<line x1="475.80" y1="485.50" x2="475.80" y2="488.40" stroke="#111" stroke-width="0.9" />
<line x1="489.90" y1="485.50" x2="489.90" y2="488.40" stroke="#111" stroke-width="0.9" />
<line x1="504.30" y1="485.50" x2="504.30" y2="488.40" stroke="#111" stroke-width="0.9" />
<text x="395.44" y="413.60" font-size="7.6" fill="#111"  stroke="#111" stroke-width="0.14" textLength="16.05" lengthAdjust="spacingAndGlyphs">Early</text>
<text x="397.09" y="487.50" font-size="7.6" fill="#111"  stroke="#111" stroke-width="0.14" textLength="14.76" lengthAdjust="spacingAndGlyphs">Late</text>
<line x1="415.30" y1="414.00" x2="415.30" y2="430.80" stroke="#111" stroke-width="1.2" />
<path d="M413.2,415.6 L415.3,411.0 L417.4,415.6Z" fill="#111"/>
<line x1="415.30" y1="463.40" x2="415.30" y2="482.00" stroke="#111" stroke-width="1.2" />
<path d="M413.2,480.6 L415.3,485.3 L417.4,480.6Z" fill="#111"/>
<text x="408.90" y="473.92" font-size="8.4" fill="#111" stroke="#111" stroke-width="0.20" textLength="51.36" lengthAdjust="spacingAndGlyphs" transform="rotate(-90 408.90 473.92)">Replication timing</text>
<text x="450.10" y="509.26" font-size="7.1" fill="#111" stroke="#111" stroke-width="0.14" textLength="16.58" lengthAdjust="spacingAndGlyphs" transform="rotate(-90 450.10 509.26)">PL19</text>
<text x="464.20" y="509.33" font-size="7.1" fill="#111" stroke="#111" stroke-width="0.14" textLength="16.58" lengthAdjust="spacingAndGlyphs" transform="rotate(-90 464.20 509.33)">PL20</text>
<text x="478.40" y="509.22" font-size="7.1" fill="#111" stroke="#111" stroke-width="0.14" textLength="16.58" lengthAdjust="spacingAndGlyphs" transform="rotate(-90 478.40 509.22)">PL22</text>
<text x="492.50" y="509.29" font-size="7.1" fill="#111" stroke="#111" stroke-width="0.14" textLength="16.58" lengthAdjust="spacingAndGlyphs" transform="rotate(-90 492.50 509.29)">PL23</text>
<text x="501.30" y="515.69" font-size="7.1" fill="#111" stroke="#111" stroke-width="0.14" textLength="24.07" lengthAdjust="spacingAndGlyphs" transform="rotate(-90 501.30 515.69)">Non-IEI</text>
<text x="511.00" y="514.98" font-size="7.1" fill="#111" stroke="#111" stroke-width="0.14" textLength="22.89" lengthAdjust="spacingAndGlyphs" transform="rotate(-90 511.00 514.98)">DLBCL</text>
<path d="M447.50,419.54 C447.75,420.18 448.25,422.10 449.00,423.38 C449.75,424.66 451.42,425.94 452.00,427.22 C452.58,428.50 452.45,429.78 452.50,431.06 C452.55,432.34 452.27,433.62 452.30,434.90 C452.33,436.18 452.47,437.46 452.70,438.74 C452.93,440.02 453.60,441.30 453.70,442.58 C453.80,443.86 453.70,445.25 453.30,446.42 C452.90,447.59 451.93,448.55 451.30,449.62 C450.67,450.69 450.13,451.65 449.50,452.82 C448.87,453.99 447.83,456.02 447.50,456.66 C447.17,456.02 446.13,453.99 445.50,452.82 C444.87,451.65 444.33,450.69 443.70,449.62 C443.07,448.55 442.10,447.59 441.70,446.42 C441.30,445.25 441.20,443.86 441.30,442.58 C441.40,441.30 442.07,440.02 442.30,438.74 C442.53,437.46 442.67,436.18 442.70,434.90 C442.73,433.62 442.45,432.34 442.50,431.06 C442.55,429.78 442.42,428.50 443.00,427.22 C443.58,425.94 445.25,424.66 446.00,423.38 C446.75,422.10 447.25,420.18 447.50,419.54Z" fill="#b3c7dc" opacity="1" stroke="none"/>
<path d="M461.60,425.94 C462.02,426.26 463.27,427.22 464.10,427.86 C464.93,428.50 466.02,429.14 466.60,429.78 C467.18,430.42 467.52,431.06 467.60,431.70 C467.68,432.34 467.43,432.98 467.10,433.62 C466.77,434.26 466.10,434.79 465.60,435.54 C465.10,436.29 464.57,437.14 464.10,438.10 C463.63,439.06 463.22,440.45 462.80,441.30 C462.38,442.15 461.80,442.90 461.60,443.22 C461.40,442.90 460.82,442.15 460.40,441.30 C459.98,440.45 459.57,439.06 459.10,438.10 C458.63,437.14 458.10,436.29 457.60,435.54 C457.10,434.79 456.43,434.26 456.10,433.62 C455.77,432.98 455.52,432.34 455.60,431.70 C455.68,431.06 456.02,430.42 456.60,429.78 C457.18,429.14 458.27,428.50 459.10,427.86 C459.93,427.22 461.18,426.26 461.60,425.94Z" fill="#b3c7dc" opacity="1" stroke="none"/>
<path d="M475.80,416.34 C476.00,417.30 476.58,420.07 477.00,422.10 C477.42,424.13 477.80,426.37 478.30,428.50 C478.80,430.63 479.42,432.77 480.00,434.90 C480.58,437.03 481.43,439.70 481.80,441.30 C482.17,442.90 482.32,443.11 482.20,444.50 C482.08,445.89 481.43,448.02 481.10,449.62 C480.77,451.22 480.50,452.29 480.20,454.10 C479.90,455.91 479.62,458.47 479.30,460.50 C478.98,462.53 478.68,464.34 478.30,466.26 C477.92,468.18 477.42,469.78 477.00,472.02 C476.58,474.26 476.00,478.42 475.80,479.70 C475.60,478.42 475.02,474.26 474.60,472.02 C474.18,469.78 473.68,468.18 473.30,466.26 C472.92,464.34 472.62,462.53 472.30,460.50 C471.98,458.47 471.70,455.91 471.40,454.10 C471.10,452.29 470.83,451.22 470.50,449.62 C470.17,448.02 469.52,445.89 469.40,444.50 C469.28,443.11 469.43,442.90 469.80,441.30 C470.17,439.70 471.02,437.03 471.60,434.90 C472.18,432.77 472.80,430.63 473.30,428.50 C473.80,426.37 474.18,424.13 474.60,422.10 C475.02,420.07 475.60,417.30 475.80,416.34Z" fill="#b3c7dc" opacity="1" stroke="none"/>
<path d="M489.90,425.94 C490.32,426.37 491.48,427.75 492.40,428.50 C493.32,429.25 494.72,429.89 495.40,430.42 C496.08,430.95 496.58,431.17 496.50,431.70 C496.42,432.23 495.58,432.98 494.90,433.62 C494.22,434.26 493.07,434.90 492.40,435.54 C491.73,436.18 491.18,436.50 490.90,437.46 C490.62,438.42 490.77,438.53 490.70,441.30 C490.63,444.07 490.57,449.83 490.50,454.10 C490.43,458.37 490.40,463.27 490.30,466.90 C490.20,470.53 489.97,474.37 489.90,475.86 C489.83,474.37 489.60,470.53 489.50,466.90 C489.40,463.27 489.37,458.37 489.30,454.10 C489.23,449.83 489.17,444.07 489.10,441.30 C489.03,438.53 489.18,438.42 488.90,437.46 C488.62,436.50 488.07,436.18 487.40,435.54 C486.73,434.90 485.58,434.26 484.90,433.62 C484.22,432.98 483.38,432.23 483.30,431.70 C483.22,431.17 483.72,430.95 484.40,430.42 C485.08,429.89 486.48,429.25 487.40,428.50 C488.32,427.75 489.48,426.37 489.90,425.94Z" fill="#b3c7dc" opacity="1" stroke="none"/>
<path d="M504.30,424.66 C504.72,425.30 506.05,427.22 506.80,428.50 C507.55,429.78 508.13,430.95 508.80,432.34 C509.47,433.73 510.52,435.33 510.80,436.82 C511.08,438.31 510.58,439.70 510.50,441.30 C510.42,442.90 510.33,444.71 510.30,446.42 C510.27,448.13 510.40,450.05 510.30,451.54 C510.20,453.03 510.00,453.89 509.70,455.38 C509.40,456.87 508.82,459.11 508.50,460.50 C508.18,461.89 508.17,462.10 507.80,463.70 C507.43,465.30 506.88,467.86 506.30,470.10 C505.72,472.34 504.63,475.97 504.30,477.14 C503.97,475.97 502.88,472.34 502.30,470.10 C501.72,467.86 501.17,465.30 500.80,463.70 C500.43,462.10 500.42,461.89 500.10,460.50 C499.78,459.11 499.20,456.87 498.90,455.38 C498.60,453.89 498.40,453.03 498.30,451.54 C498.20,450.05 498.33,448.13 498.30,446.42 C498.27,444.71 498.18,442.90 498.10,441.30 C498.02,439.70 497.52,438.31 497.80,436.82 C498.08,435.33 499.13,433.73 499.80,432.34 C500.47,430.95 501.05,429.78 501.80,428.50 C502.55,427.22 503.88,425.30 504.30,424.66Z" fill="#c5e6c3" opacity="1" stroke="none"/>
<rect x="446.85" y="430.42" width="1.30" height="16.00" fill="#6f6f6f" />
<rect x="446.70" y="433.30" width="1.60" height="9.79" fill="#1f5c9c" />
<circle cx="447.5" cy="442.58" r="0.75" fill="#000"/>
<rect x="460.95" y="431.06" width="1.30" height="7.68" fill="#6f6f6f" />
<rect x="460.80" y="431.70" width="1.60" height="3.84" fill="#1f5c9c" />
<circle cx="461.6" cy="433.30" r="0.75" fill="#000"/>
<rect x="475.15" y="430.42" width="1.30" height="35.84" fill="#6f6f6f" />
<rect x="475.00" y="443.22" width="1.60" height="14.72" fill="#1f5c9c" />
<circle cx="475.8" cy="444.82" r="0.75" fill="#000"/>
<rect x="489.25" y="429.14" width="1.30" height="21.76" fill="#6f6f6f" />
<rect x="489.10" y="430.42" width="1.60" height="4.48" fill="#1f5c9c" />
<circle cx="489.9" cy="432.34" r="0.75" fill="#000"/>
<rect x="503.65" y="429.40" width="1.30" height="43.52" fill="#6f6f6f" />
<rect x="503.50" y="437.46" width="1.60" height="23.04" fill="#3cb44b" />
<circle cx="504.3" cy="446.10" r="0.75" fill="#000"/>
</svg></body></html>
